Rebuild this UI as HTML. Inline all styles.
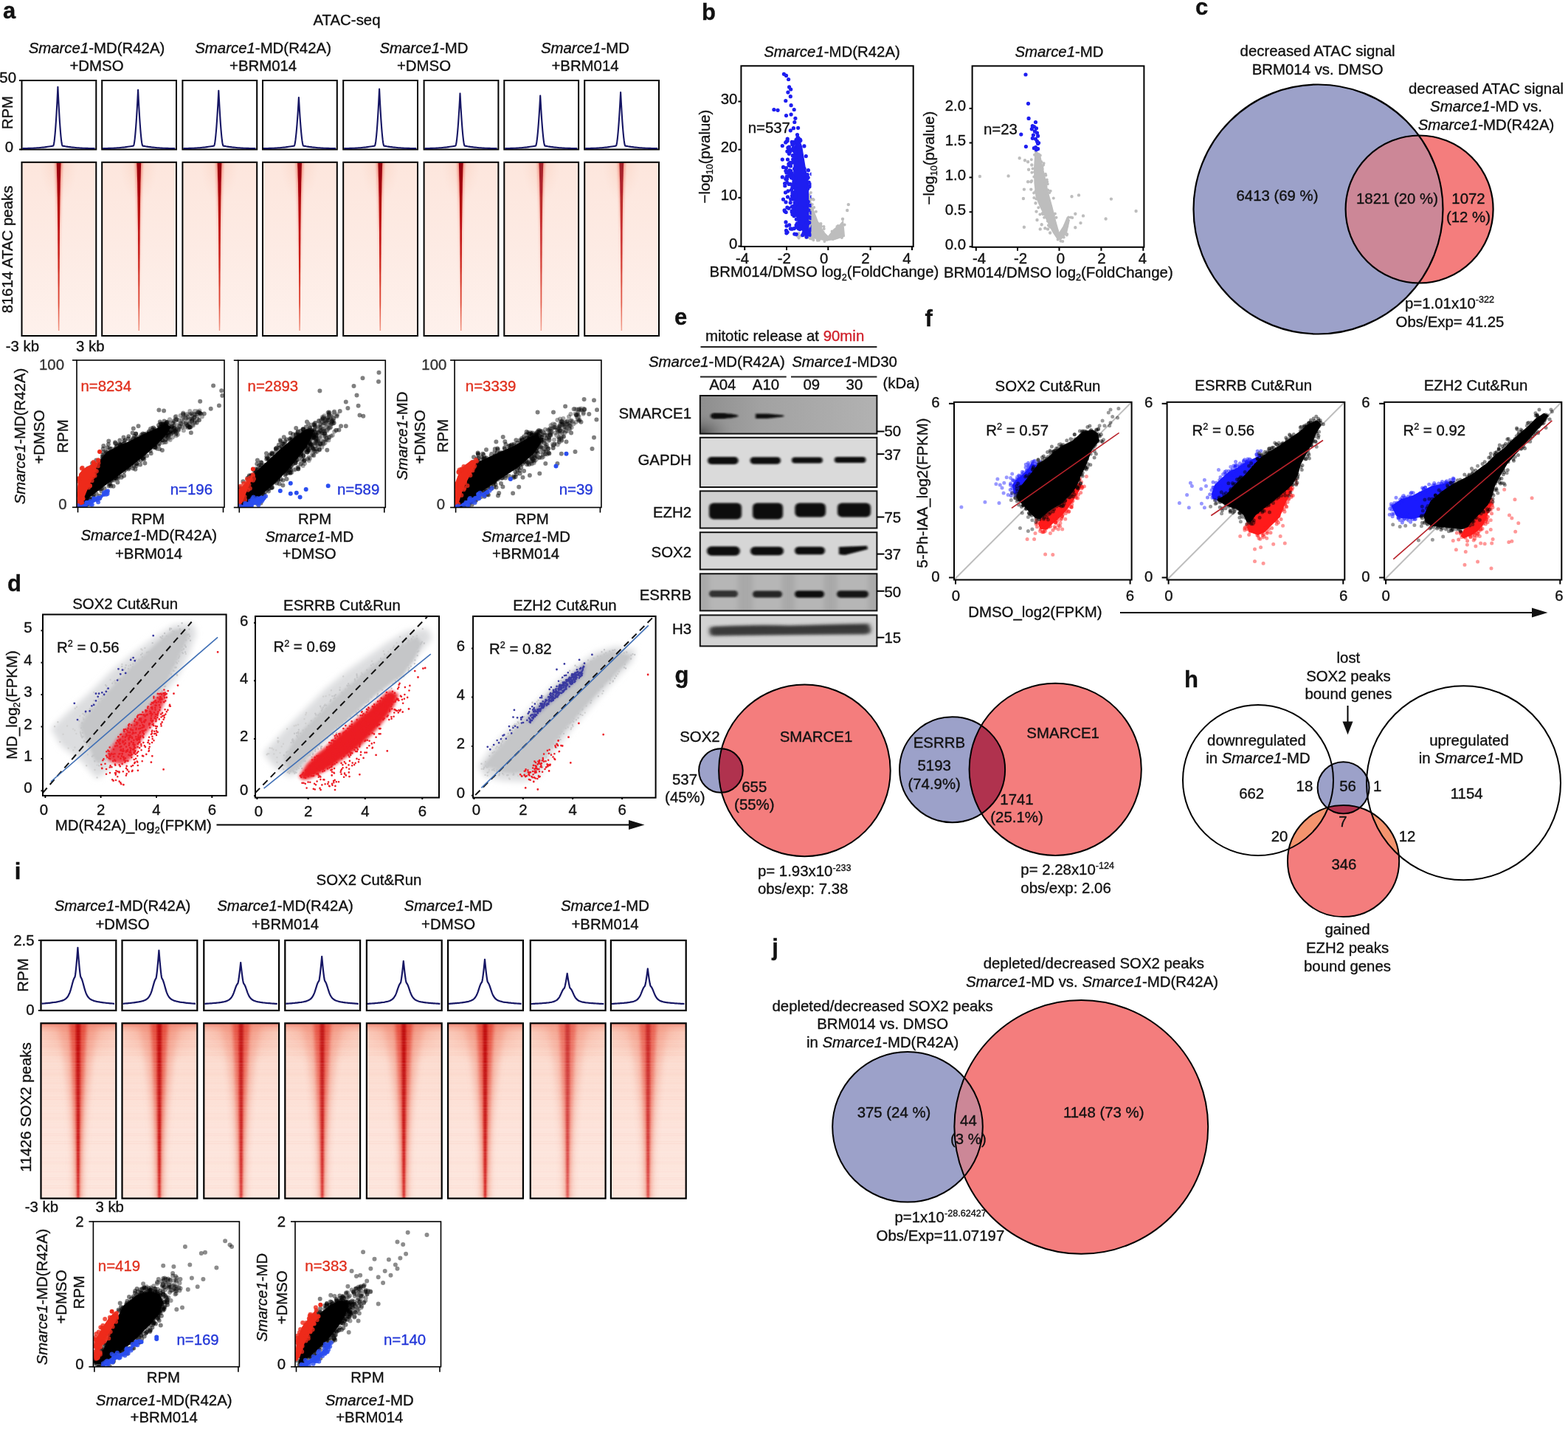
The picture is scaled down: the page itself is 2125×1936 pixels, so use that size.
<!DOCTYPE html>
<html><head><meta charset="utf-8"><style>
html,body{margin:0;padding:0;background:#fff;}
svg{display:block;}
text{font-family:"Liberation Sans",Arial,sans-serif;font-size:20.4px;fill:#111;stroke:#111;stroke-width:0.35px;}
</style></head><body>
<svg width="2125" height="1936" viewBox="0 0 2125 1936">
<defs>
<linearGradient id="hmA" x1="0" y1="0" x2="0" y2="1">
 <stop offset="0" stop-color="#fde6dd"/><stop offset="0.5" stop-color="#fdebe4"/><stop offset="1" stop-color="#fef1ec"/></linearGradient>
<radialGradient id="haloA"><stop offset="0" stop-color="#f6b49c" stop-opacity="0.75"/><stop offset="0.6" stop-color="#f9c8b4" stop-opacity="0.35"/><stop offset="1" stop-color="#fbd0c0" stop-opacity="0"/></radialGradient>
<linearGradient id="wedgeA" x1="0" y1="0" x2="0" y2="1">
 <stop offset="0" stop-color="#920008"/><stop offset="0.3" stop-color="#b80a10"/><stop offset="0.6" stop-color="#cc2018"/><stop offset="0.85" stop-color="#e04a36"/><stop offset="1" stop-color="#f29a88"/></linearGradient>
<filter id="blurA" x="-100%" y="-5%" width="300%" height="110%"><feGaussianBlur stdDeviation="1.8 0.5"/></filter>
<filter id="blurA2" x="-100%" y="-5%" width="300%" height="110%"><feGaussianBlur stdDeviation="0.6 0.3"/></filter>
<linearGradient id="wedgeA2" x1="0" y1="0" x2="0" y2="1">
 <stop offset="0" stop-color="#f05a48" stop-opacity="0.6"/><stop offset="0.5" stop-color="#f48a78" stop-opacity="0.35"/><stop offset="1" stop-color="#f8c0b0" stop-opacity="0"/></linearGradient>
<clipPath id="cA0"><rect x="29.5" y="219.8" width="100.8" height="235.2"/></clipPath><clipPath id="cA1"><rect x="138.2" y="219.8" width="100.8" height="235.2"/></clipPath><clipPath id="cA2"><rect x="247.4" y="219.8" width="100.8" height="235.2"/></clipPath><clipPath id="cA3"><rect x="356" y="219.8" width="100.8" height="235.2"/></clipPath><clipPath id="cA4"><rect x="465.2" y="219.8" width="100.8" height="235.2"/></clipPath><clipPath id="cA5"><rect x="574.6" y="219.8" width="100.8" height="235.2"/></clipPath><clipPath id="cA6"><rect x="683.3" y="219.8" width="100.8" height="235.2"/></clipPath><clipPath id="cA7"><rect x="792.2" y="219.8" width="100.8" height="235.2"/></clipPath><clipPath id="cl1"><rect x="104" y="488" width="200" height="199.3"/></clipPath><clipPath id="cl2"><rect x="322.8" y="488.2" width="199.5" height="199.3"/></clipPath><clipPath id="cl3"><rect x="616.1" y="488" width="198.8" height="199.5"/></clipPath><clipPath id="cl4"><rect x="1004.4" y="89.3" width="233.3" height="244.7"/></clipPath><clipPath id="cl5"><rect x="1004.4" y="89.3" width="95.1" height="244.7"/></clipPath><clipPath id="cl6"><rect x="1317.6" y="89.4" width="232.8" height="245.4"/></clipPath><clipPath id="ccB"><circle cx="1786.5" cy="283.5" r="169"/></clipPath><filter id="blur2" x="-10%" y="-10%" width="120%" height="120%"><feGaussianBlur stdDeviation="2.2"/></filter><filter id="blur4" x="-10%" y="-10%" width="120%" height="120%"><feGaussianBlur stdDeviation="4"/></filter><clipPath id="cl7"><rect x="58" y="832.5" width="248.6" height="245.5"/></clipPath><clipPath id="cl8"><rect x="346" y="834.9" width="249" height="245.7"/></clipPath><clipPath id="cl9"><rect x="641.1" y="834.9" width="247.5" height="245.8"/></clipPath><filter id="bb1" x="-20%" y="-50%" width="140%" height="200%"><feGaussianBlur stdDeviation="1.6 1.2"/></filter><filter id="bb2" x="-20%" y="-50%" width="140%" height="200%"><feGaussianBlur stdDeviation="3 2"/></filter><filter id="bb3" x="-5%" y="-5%" width="110%" height="110%"><feGaussianBlur stdDeviation="6"/></filter><linearGradient id="smgr" x1="0" y1="0" x2="1" y2="0"><stop offset="0" stop-color="#8e8e8e"/><stop offset="0.35" stop-color="#a2a2a2"/><stop offset="1" stop-color="#b2b2b2"/></linearGradient><radialGradient id="smcorner"><stop offset="0" stop-color="#4a4a4a"/><stop offset="1" stop-color="#8e8e8e" stop-opacity="0"/></radialGradient><clipPath id="cbl0"><rect x="948.8" y="536" width="239.6" height="51.6"/></clipPath><clipPath id="cbl1"><rect x="948.8" y="592.8" width="239.6" height="67.2"/></clipPath><clipPath id="cbl2"><rect x="948.8" y="665.3" width="239.6" height="50.2"/></clipPath><clipPath id="cbl3"><rect x="948.8" y="721.2" width="239.6" height="50.3"/></clipPath><clipPath id="cbl4"><rect x="948.8" y="777.3" width="239.6" height="50.1"/></clipPath><clipPath id="cbl5"><rect x="948.8" y="833.4" width="239.6" height="42"/></clipPath><clipPath id="cl10"><rect x="1293" y="544.8" width="240.6" height="240.7"/></clipPath><clipPath id="cl11"><rect x="1581.6" y="544.8" width="240.7" height="240.7"/></clipPath><clipPath id="cl12"><rect x="1876.1" y="544.8" width="240.2" height="240.7"/></clipPath><clipPath id="cg1"><circle cx="976.9" cy="1044" r="29.8"/></clipPath><clipPath id="cg2"><circle cx="1290.6" cy="1042.7" r="71.5"/></clipPath><clipPath id="chl"><circle cx="1705" cy="1057" r="102"/></clipPath><clipPath id="chr"><circle cx="1983.5" cy="1060.8" r="131.5"/></clipPath><clipPath id="chb"><circle cx="1820.6" cy="1067.3" r="35"/></clipPath><linearGradient id="hmI" x1="0" y1="0" x2="0" y2="1"><stop offset="0" stop-color="#fbd0c0"/><stop offset="0.25" stop-color="#fcdcd0"/><stop offset="0.6" stop-color="#fde3da"/><stop offset="1" stop-color="#fde6dd"/></linearGradient>
<linearGradient id="topI" x1="0" y1="0" x2="0" y2="1"><stop offset="0" stop-color="#ee6a58" stop-opacity="0.7"/><stop offset="1" stop-color="#f4a08c" stop-opacity="0"/></linearGradient>
<filter id="blurI3" x="-50%" y="-5%" width="200%" height="110%"><feGaussianBlur stdDeviation="4 2"/></filter>
<radialGradient id="haloI"><stop offset="0" stop-color="#ee6e5a" stop-opacity="0.7"/><stop offset="0.5" stop-color="#f49a84" stop-opacity="0.4"/><stop offset="1" stop-color="#f8b8a4" stop-opacity="0"/></radialGradient>
<linearGradient id="bandI" x1="0" y1="0" x2="0" y2="1"><stop offset="0" stop-color="#e23c2e" stop-opacity="0.85"/><stop offset="0.5" stop-color="#e84e3e" stop-opacity="0.65"/><stop offset="1" stop-color="#ec6a56" stop-opacity="0.45"/></linearGradient>
<linearGradient id="coreI" x1="0" y1="0" x2="0" y2="1"><stop offset="0" stop-color="#c01010"/><stop offset="0.6" stop-color="#c81414"/><stop offset="1" stop-color="#d42020"/></linearGradient>
<filter id="blurI" x="-50%" y="-5%" width="200%" height="110%"><feGaussianBlur stdDeviation="2.5 1"/></filter>
<filter id="blurI2" x="-50%" y="-5%" width="200%" height="110%"><feGaussianBlur stdDeviation="1.2 0.5"/></filter><pattern id="strp" x="0" y="0" width="120" height="60" patternUnits="userSpaceOnUse"><rect x="0" y="0" width="120" height="1.2" fill="#ffffff" fill-opacity="0.11"/><rect x="0" y="1.7" width="120" height="0.8" fill="#ffffff" fill-opacity="0.10"/><rect x="0" y="4" width="120" height="0.8" fill="#ffffff" fill-opacity="0.11"/><rect x="0" y="5.3" width="120" height="0.8" fill="#ffffff" fill-opacity="0.05"/><rect x="0" y="7.1" width="120" height="0.8" fill="#ffffff" fill-opacity="0.07"/><rect x="0" y="8.4" width="120" height="1" fill="#f0a090" fill-opacity="0.08"/><rect x="0" y="9.9" width="120" height="1.5" fill="#ffffff" fill-opacity="0.01"/><rect x="0" y="11.9" width="120" height="1" fill="#ffffff" fill-opacity="0.03"/><rect x="0" y="13.4" width="120" height="1.2" fill="#f0a090" fill-opacity="0.07"/><rect x="0" y="15.6" width="120" height="0.8" fill="#f0a090" fill-opacity="0.07"/><rect x="0" y="17.4" width="120" height="1.2" fill="#f0a090" fill-opacity="0.01"/><rect x="0" y="19.1" width="120" height="0.8" fill="#ffffff" fill-opacity="0.07"/><rect x="0" y="21.9" width="120" height="1.2" fill="#ffffff" fill-opacity="0.06"/><rect x="0" y="24.6" width="120" height="1.2" fill="#ffffff" fill-opacity="0.03"/><rect x="0" y="26.8" width="120" height="0.8" fill="#f0a090" fill-opacity="0.07"/><rect x="0" y="29.6" width="120" height="1.2" fill="#ffffff" fill-opacity="0.09"/><rect x="0" y="31.3" width="120" height="0.8" fill="#ffffff" fill-opacity="0.06"/><rect x="0" y="33.6" width="120" height="1" fill="#ffffff" fill-opacity="0.11"/><rect x="0" y="35.1" width="120" height="0.8" fill="#f0a090" fill-opacity="0.09"/><rect x="0" y="37.4" width="120" height="1.2" fill="#f0a090" fill-opacity="0.08"/><rect x="0" y="40.6" width="120" height="1.5" fill="#ffffff" fill-opacity="0.01"/><rect x="0" y="43.6" width="120" height="1.5" fill="#ffffff" fill-opacity="0.08"/><rect x="0" y="45.6" width="120" height="1.2" fill="#f0a090" fill-opacity="0.08"/><rect x="0" y="48.8" width="120" height="1.2" fill="#f0a090" fill-opacity="0.09"/><rect x="0" y="51.5" width="120" height="0.8" fill="#ffffff" fill-opacity="0.11"/><rect x="0" y="53.3" width="120" height="0.8" fill="#ffffff" fill-opacity="0.06"/><rect x="0" y="55.6" width="120" height="1" fill="#ffffff" fill-opacity="0.09"/><rect x="0" y="58.6" width="120" height="1.5" fill="#ffffff" fill-opacity="0.01"/></pattern><clipPath id="cI0"><rect x="55.5" y="1386.3" width="101.8" height="237.3"/></clipPath><clipPath id="cI1"><rect x="165.5" y="1386.3" width="101.8" height="237.3"/></clipPath><clipPath id="cI2"><rect x="276.3" y="1386.3" width="101.8" height="237.3"/></clipPath><clipPath id="cI3"><rect x="386.3" y="1386.3" width="101.8" height="237.3"/></clipPath><clipPath id="cI4"><rect x="496.9" y="1386.3" width="101.8" height="237.3"/></clipPath><clipPath id="cI5"><rect x="607.1" y="1386.3" width="101.8" height="237.3"/></clipPath><clipPath id="cI6"><rect x="718.8" y="1386.3" width="101.8" height="237.3"/></clipPath><clipPath id="cI7"><rect x="827.9" y="1386.3" width="101.8" height="237.3"/></clipPath><clipPath id="cl13"><rect x="126.4" y="1655" width="198" height="196.7"/></clipPath><clipPath id="cl14"><rect x="400" y="1655" width="197.5" height="196.7"/></clipPath><clipPath id="cjb"><circle cx="1230" cy="1526.8" r="101.75"/></clipPath></defs>
<rect width="2125" height="1936" fill="#fff"/>
<text x="4" y="25" style="font-size:31px;font-weight:bold;">a</text>
<text x="470" y="33.5" text-anchor="middle">ATAC-seq</text>
<text x="131" y="72" text-anchor="middle"><tspan font-style="italic">Smarce1</tspan>-MD(R42A)</text>
<text x="131" y="96" text-anchor="middle">+DMSO</text>
<text x="356.6" y="72" text-anchor="middle"><tspan font-style="italic">Smarce1</tspan>-MD(R42A)</text>
<text x="356.6" y="96" text-anchor="middle">+BRM014</text>
<text x="574.5" y="72" text-anchor="middle"><tspan font-style="italic">Smarce1</tspan>-MD</text>
<text x="574.5" y="96" text-anchor="middle">+DMSO</text>
<text x="793" y="72" text-anchor="middle"><tspan font-style="italic">Smarce1</tspan>-MD</text>
<text x="793" y="96" text-anchor="middle">+BRM014</text>
<g clip-path="url(#cA0)">
<rect x="29.5" y="219.8" width="100.8" height="235.2" fill="url(#hmA)"/>
<ellipse cx="79.6" cy="219.8" rx="26" ry="55" fill="url(#haloA)" opacity="0.5"/>
<path d="M74.6 219.8 75 229.4 75.3 239 75.6 248.6 75.9 258.2 76.1 267.8 76.4 277.4 76.6 286.9 76.8 296.5 77 306.1 77.2 315.7 77.3 325.3 77.5 334.9 77.6 344.5 77.7 354.1 77.8 363.7 77.9 373.3 77.9 382.9 78 392.4 78 402 78.1 411.6 78.1 421.2 78.1 430.8 78.1 440.4 78.1 450 81.1 450 81.1 440.4 81.1 430.8 81.1 421.2 81.1 411.6 81.2 402 81.2 392.4 81.3 382.9 81.3 373.3 81.4 363.7 81.5 354.1 81.6 344.5 81.7 334.9 81.9 325.3 82 315.7 82.2 306.1 82.4 296.5 82.6 286.9 82.8 277.4 83.1 267.8 83.3 258.2 83.6 248.6 83.9 239 84.2 229.4 84.6 219.8Z" fill="url(#wedgeA2)" filter="url(#blurA)"/>
<path d="M76.7 219.8 77 229.3 77.2 238.8 77.5 248.3 77.6 257.8 77.8 267.3 77.9 276.9 78 286.4 78.1 295.9 78.2 305.4 78.3 314.9 78.3 324.4 78.4 333.9 78.4 343.4 78.5 352.9 78.5 362.4 78.6 371.9 78.6 381.4 78.7 390.9 78.7 400.5 78.7 410 78.8 419.5 78.8 429 78.8 438.5 78.9 448 80.4 448 80.4 438.5 80.4 429 80.4 419.5 80.5 410 80.5 400.5 80.5 390.9 80.6 381.4 80.6 371.9 80.7 362.4 80.7 352.9 80.8 343.4 80.8 333.9 80.9 324.4 80.9 314.9 81 305.4 81.1 295.9 81.2 286.4 81.3 276.9 81.4 267.3 81.6 257.8 81.7 248.3 82 238.8 82.2 229.3 82.6 219.8Z" fill="url(#wedgeA)" filter="url(#blurA2)"/>
</g>
<rect x="29.5" y="219.8" width="100.8" height="235.2" fill="none" stroke="#000" stroke-width="2.0"/>
<g clip-path="url(#cA1)">
<rect x="138.2" y="219.8" width="100.8" height="235.2" fill="url(#hmA)"/>
<ellipse cx="188.3" cy="219.8" rx="26" ry="55" fill="url(#haloA)" opacity="0.5"/>
<path d="M183.3 219.8 183.7 229.4 184 239 184.3 248.6 184.6 258.2 184.8 267.8 185.1 277.4 185.3 286.9 185.5 296.5 185.7 306.1 185.9 315.7 186 325.3 186.2 334.9 186.3 344.5 186.4 354.1 186.5 363.7 186.6 373.3 186.6 382.9 186.7 392.4 186.7 402 186.8 411.6 186.8 421.2 186.8 430.8 186.8 440.4 186.8 450 189.8 450 189.8 440.4 189.8 430.8 189.8 421.2 189.8 411.6 189.9 402 189.9 392.4 190 382.9 190 373.3 190.1 363.7 190.2 354.1 190.3 344.5 190.4 334.9 190.6 325.3 190.7 315.7 190.9 306.1 191.1 296.5 191.3 286.9 191.5 277.4 191.8 267.8 192 258.2 192.3 248.6 192.6 239 192.9 229.4 193.3 219.8Z" fill="url(#wedgeA2)" filter="url(#blurA)"/>
<path d="M185.3 219.8 185.7 229.3 185.9 238.8 186.2 248.3 186.3 257.8 186.5 267.3 186.6 276.9 186.7 286.4 186.8 295.9 186.9 305.4 187 314.9 187 324.4 187.1 333.9 187.1 343.4 187.2 352.9 187.2 362.4 187.3 371.9 187.3 381.4 187.4 390.9 187.4 400.5 187.4 410 187.5 419.5 187.5 429 187.5 438.5 187.5 448 189 448 189.1 438.5 189.1 429 189.1 419.5 189.2 410 189.2 400.5 189.2 390.9 189.3 381.4 189.3 371.9 189.4 362.4 189.4 352.9 189.5 343.4 189.5 333.9 189.6 324.4 189.6 314.9 189.7 305.4 189.8 295.9 189.9 286.4 190 276.9 190.1 267.3 190.3 257.8 190.4 248.3 190.7 238.8 190.9 229.3 191.2 219.8Z" fill="url(#wedgeA)" filter="url(#blurA2)"/>
</g>
<rect x="138.2" y="219.8" width="100.8" height="235.2" fill="none" stroke="#000" stroke-width="2.0"/>
<g clip-path="url(#cA2)">
<rect x="247.4" y="219.8" width="100.8" height="235.2" fill="url(#hmA)"/>
<ellipse cx="297.5" cy="219.8" rx="26" ry="55" fill="url(#haloA)" opacity="0.5"/>
<path d="M292.5 219.8 292.9 229.4 293.2 239 293.5 248.6 293.8 258.2 294 267.8 294.3 277.4 294.5 286.9 294.7 296.5 294.9 306.1 295.1 315.7 295.2 325.3 295.4 334.9 295.5 344.5 295.6 354.1 295.7 363.7 295.8 373.3 295.8 382.9 295.9 392.4 295.9 402 296 411.6 296 421.2 296 430.8 296 440.4 296 450 299 450 299 440.4 299 430.8 299 421.2 299 411.6 299.1 402 299.1 392.4 299.2 382.9 299.2 373.3 299.3 363.7 299.4 354.1 299.5 344.5 299.6 334.9 299.8 325.3 299.9 315.7 300.1 306.1 300.3 296.5 300.5 286.9 300.7 277.4 301 267.8 301.2 258.2 301.5 248.6 301.8 239 302.1 229.4 302.5 219.8Z" fill="url(#wedgeA2)" filter="url(#blurA)"/>
<path d="M294.6 219.8 294.9 229.3 295.1 238.8 295.4 248.3 295.5 257.8 295.7 267.3 295.8 276.9 295.9 286.4 296 295.9 296.1 305.4 296.2 314.9 296.2 324.4 296.3 333.9 296.3 343.4 296.4 352.9 296.4 362.4 296.5 371.9 296.5 381.4 296.6 390.9 296.6 400.5 296.6 410 296.7 419.5 296.7 429 296.7 438.5 296.8 448 298.2 448 298.3 438.5 298.3 429 298.3 419.5 298.4 410 298.4 400.5 298.4 390.9 298.5 381.4 298.5 371.9 298.6 362.4 298.6 352.9 298.7 343.4 298.7 333.9 298.8 324.4 298.8 314.9 298.9 305.4 299 295.9 299.1 286.4 299.2 276.9 299.3 267.3 299.5 257.8 299.6 248.3 299.9 238.8 300.1 229.3 300.4 219.8Z" fill="url(#wedgeA)" filter="url(#blurA2)"/>
</g>
<rect x="247.4" y="219.8" width="100.8" height="235.2" fill="none" stroke="#000" stroke-width="2.0"/>
<g clip-path="url(#cA3)">
<rect x="356" y="219.8" width="100.8" height="235.2" fill="url(#hmA)"/>
<ellipse cx="406.1" cy="219.8" rx="26" ry="55" fill="url(#haloA)" opacity="0.5"/>
<path d="M401.1 219.8 401.5 229.4 401.8 239 402.1 248.6 402.4 258.2 402.6 267.8 402.9 277.4 403.1 286.9 403.3 296.5 403.5 306.1 403.7 315.7 403.8 325.3 404 334.9 404.1 344.5 404.2 354.1 404.3 363.7 404.4 373.3 404.4 382.9 404.5 392.4 404.5 402 404.6 411.6 404.6 421.2 404.6 430.8 404.6 440.4 404.6 450 407.6 450 407.6 440.4 407.6 430.8 407.6 421.2 407.6 411.6 407.7 402 407.7 392.4 407.8 382.9 407.8 373.3 407.9 363.7 408 354.1 408.1 344.5 408.2 334.9 408.4 325.3 408.5 315.7 408.7 306.1 408.9 296.5 409.1 286.9 409.3 277.4 409.6 267.8 409.8 258.2 410.1 248.6 410.4 239 410.7 229.4 411.1 219.8Z" fill="url(#wedgeA2)" filter="url(#blurA)"/>
<path d="M403.1 219.8 403.5 229.3 403.7 238.8 404 248.3 404.1 257.8 404.3 267.3 404.4 276.9 404.5 286.4 404.6 295.9 404.7 305.4 404.8 314.9 404.8 324.4 404.9 333.9 404.9 343.4 405 352.9 405 362.4 405.1 371.9 405.1 381.4 405.2 390.9 405.2 400.5 405.2 410 405.3 419.5 405.3 429 405.3 438.5 405.3 448 406.8 448 406.9 438.5 406.9 429 406.9 419.5 407 410 407 400.5 407 390.9 407.1 381.4 407.1 371.9 407.2 362.4 407.2 352.9 407.3 343.4 407.3 333.9 407.4 324.4 407.4 314.9 407.5 305.4 407.6 295.9 407.7 286.4 407.8 276.9 407.9 267.3 408.1 257.8 408.2 248.3 408.5 238.8 408.7 229.3 409 219.8Z" fill="url(#wedgeA)" filter="url(#blurA2)"/>
</g>
<rect x="356" y="219.8" width="100.8" height="235.2" fill="none" stroke="#000" stroke-width="2.0"/>
<g clip-path="url(#cA4)">
<rect x="465.2" y="219.8" width="100.8" height="235.2" fill="url(#hmA)"/>
<ellipse cx="515.3" cy="219.8" rx="26" ry="55" fill="url(#haloA)" opacity="0.5"/>
<path d="M510.3 219.8 510.7 229.4 511 239 511.3 248.6 511.6 258.2 511.8 267.8 512.1 277.4 512.3 286.9 512.5 296.5 512.7 306.1 512.9 315.7 513 325.3 513.2 334.9 513.3 344.5 513.4 354.1 513.5 363.7 513.6 373.3 513.6 382.9 513.7 392.4 513.7 402 513.8 411.6 513.8 421.2 513.8 430.8 513.8 440.4 513.8 450 516.8 450 516.8 440.4 516.8 430.8 516.8 421.2 516.8 411.6 516.9 402 516.9 392.4 517 382.9 517 373.3 517.1 363.7 517.2 354.1 517.3 344.5 517.4 334.9 517.6 325.3 517.7 315.7 517.9 306.1 518.1 296.5 518.3 286.9 518.5 277.4 518.8 267.8 519 258.2 519.3 248.6 519.6 239 519.9 229.4 520.3 219.8Z" fill="url(#wedgeA2)" filter="url(#blurA)"/>
<path d="M512.4 219.8 512.7 229.3 512.9 238.8 513.2 248.3 513.3 257.8 513.5 267.3 513.6 276.9 513.7 286.4 513.8 295.9 513.9 305.4 514 314.9 514 324.4 514.1 333.9 514.1 343.4 514.2 352.9 514.2 362.4 514.3 371.9 514.3 381.4 514.4 390.9 514.4 400.5 514.4 410 514.5 419.5 514.5 429 514.5 438.5 514.6 448 516.1 448 516.1 438.5 516.1 429 516.1 419.5 516.2 410 516.2 400.5 516.2 390.9 516.3 381.4 516.3 371.9 516.4 362.4 516.4 352.9 516.5 343.4 516.5 333.9 516.6 324.4 516.6 314.9 516.7 305.4 516.8 295.9 516.9 286.4 517 276.9 517.1 267.3 517.3 257.8 517.4 248.3 517.7 238.8 517.9 229.3 518.3 219.8Z" fill="url(#wedgeA)" filter="url(#blurA2)"/>
</g>
<rect x="465.2" y="219.8" width="100.8" height="235.2" fill="none" stroke="#000" stroke-width="2.0"/>
<g clip-path="url(#cA5)">
<rect x="574.6" y="219.8" width="100.8" height="235.2" fill="url(#hmA)"/>
<ellipse cx="624.7" cy="219.8" rx="26" ry="55" fill="url(#haloA)" opacity="0.5"/>
<path d="M619.7 219.8 620.1 229.4 620.4 239 620.7 248.6 621 258.2 621.2 267.8 621.5 277.4 621.7 286.9 621.9 296.5 622.1 306.1 622.3 315.7 622.4 325.3 622.6 334.9 622.7 344.5 622.8 354.1 622.9 363.7 623 373.3 623 382.9 623.1 392.4 623.1 402 623.2 411.6 623.2 421.2 623.2 430.8 623.2 440.4 623.2 450 626.2 450 626.2 440.4 626.2 430.8 626.2 421.2 626.2 411.6 626.3 402 626.3 392.4 626.4 382.9 626.4 373.3 626.5 363.7 626.6 354.1 626.7 344.5 626.8 334.9 627 325.3 627.1 315.7 627.3 306.1 627.5 296.5 627.7 286.9 627.9 277.4 628.2 267.8 628.4 258.2 628.7 248.6 629 239 629.3 229.4 629.7 219.8Z" fill="url(#wedgeA2)" filter="url(#blurA)"/>
<path d="M621.8 219.8 622.1 229.3 622.3 238.8 622.6 248.3 622.7 257.8 622.9 267.3 623 276.9 623.1 286.4 623.2 295.9 623.3 305.4 623.4 314.9 623.4 324.4 623.5 333.9 623.5 343.4 623.6 352.9 623.6 362.4 623.7 371.9 623.7 381.4 623.8 390.9 623.8 400.5 623.8 410 623.9 419.5 623.9 429 623.9 438.5 624 448 625.5 448 625.5 438.5 625.5 429 625.5 419.5 625.6 410 625.6 400.5 625.6 390.9 625.7 381.4 625.7 371.9 625.8 362.4 625.8 352.9 625.9 343.4 625.9 333.9 626 324.4 626 314.9 626.1 305.4 626.2 295.9 626.3 286.4 626.4 276.9 626.5 267.3 626.7 257.8 626.8 248.3 627.1 238.8 627.3 229.3 627.7 219.8Z" fill="url(#wedgeA)" filter="url(#blurA2)"/>
</g>
<rect x="574.6" y="219.8" width="100.8" height="235.2" fill="none" stroke="#000" stroke-width="2.0"/>
<g clip-path="url(#cA6)">
<rect x="683.3" y="219.8" width="100.8" height="235.2" fill="url(#hmA)"/>
<ellipse cx="733.4" cy="219.8" rx="26" ry="55" fill="url(#haloA)" opacity="0.5"/>
<g opacity="0.85">
<path d="M728.4 219.8 728.8 229.4 729.1 239 729.4 248.6 729.7 258.2 729.9 267.8 730.2 277.4 730.4 286.9 730.6 296.5 730.8 306.1 731 315.7 731.1 325.3 731.3 334.9 731.4 344.5 731.5 354.1 731.6 363.7 731.7 373.3 731.7 382.9 731.8 392.4 731.8 402 731.9 411.6 731.9 421.2 731.9 430.8 731.9 440.4 731.9 450 734.9 450 734.9 440.4 734.9 430.8 734.9 421.2 734.9 411.6 735 402 735 392.4 735.1 382.9 735.1 373.3 735.2 363.7 735.3 354.1 735.4 344.5 735.5 334.9 735.7 325.3 735.8 315.7 736 306.1 736.2 296.5 736.4 286.9 736.6 277.4 736.9 267.8 737.1 258.2 737.4 248.6 737.7 239 738 229.4 738.4 219.8Z" fill="url(#wedgeA2)" filter="url(#blurA)"/>
<path d="M730.4 219.8 730.8 229.3 731 238.8 731.3 248.3 731.4 257.8 731.6 267.3 731.7 276.9 731.8 286.4 731.9 295.9 732 305.4 732.1 314.9 732.1 324.4 732.2 333.9 732.2 343.4 732.3 352.9 732.3 362.4 732.4 371.9 732.4 381.4 732.5 390.9 732.5 400.5 732.5 410 732.6 419.5 732.6 429 732.6 438.5 732.6 448 734.1 448 734.2 438.5 734.2 429 734.2 419.5 734.3 410 734.3 400.5 734.3 390.9 734.4 381.4 734.4 371.9 734.5 362.4 734.5 352.9 734.6 343.4 734.6 333.9 734.7 324.4 734.7 314.9 734.8 305.4 734.9 295.9 735 286.4 735.1 276.9 735.2 267.3 735.4 257.8 735.5 248.3 735.8 238.8 736 229.3 736.4 219.8Z" fill="url(#wedgeA)" filter="url(#blurA2)"/>
</g>
</g>
<rect x="683.3" y="219.8" width="100.8" height="235.2" fill="none" stroke="#000" stroke-width="2.0"/>
<g clip-path="url(#cA7)">
<rect x="792.2" y="219.8" width="100.8" height="235.2" fill="url(#hmA)"/>
<ellipse cx="842.3" cy="219.8" rx="26" ry="55" fill="url(#haloA)" opacity="0.5"/>
<g opacity="0.85">
<path d="M837.3 219.8 837.7 229.4 838 239 838.3 248.6 838.6 258.2 838.8 267.8 839.1 277.4 839.3 286.9 839.5 296.5 839.7 306.1 839.9 315.7 840 325.3 840.2 334.9 840.3 344.5 840.4 354.1 840.5 363.7 840.6 373.3 840.6 382.9 840.7 392.4 840.7 402 840.8 411.6 840.8 421.2 840.8 430.8 840.8 440.4 840.8 450 843.8 450 843.8 440.4 843.8 430.8 843.8 421.2 843.8 411.6 843.9 402 843.9 392.4 844 382.9 844 373.3 844.1 363.7 844.2 354.1 844.3 344.5 844.4 334.9 844.6 325.3 844.7 315.7 844.9 306.1 845.1 296.5 845.3 286.9 845.5 277.4 845.8 267.8 846 258.2 846.3 248.6 846.6 239 846.9 229.4 847.3 219.8Z" fill="url(#wedgeA2)" filter="url(#blurA)"/>
<path d="M839.4 219.8 839.7 229.3 839.9 238.8 840.2 248.3 840.3 257.8 840.5 267.3 840.6 276.9 840.7 286.4 840.8 295.9 840.9 305.4 841 314.9 841 324.4 841.1 333.9 841.1 343.4 841.2 352.9 841.2 362.4 841.3 371.9 841.3 381.4 841.4 390.9 841.4 400.5 841.4 410 841.5 419.5 841.5 429 841.5 438.5 841.6 448 843.1 448 843.1 438.5 843.1 429 843.1 419.5 843.2 410 843.2 400.5 843.2 390.9 843.3 381.4 843.3 371.9 843.4 362.4 843.4 352.9 843.5 343.4 843.5 333.9 843.6 324.4 843.6 314.9 843.7 305.4 843.8 295.9 843.9 286.4 844 276.9 844.1 267.3 844.3 257.8 844.4 248.3 844.7 238.8 844.9 229.3 845.3 219.8Z" fill="url(#wedgeA)" filter="url(#blurA2)"/>
</g>
</g>
<rect x="792.2" y="219.8" width="100.8" height="235.2" fill="none" stroke="#000" stroke-width="2.0"/>
<rect x="29.5" y="109" width="100.8" height="93.5" fill="none" stroke="#000" stroke-width="2.0"/>
<path d="M30.5 201 32.5 201 34.5 201 36.5 201 38.5 200.9 40.5 200.9 42.5 200.8 44.5 200.7 46.5 200.6 48.5 200.5 50.5 200.3 52.5 200.2 54.5 200 56.5 199.8 58.5 199.6 60.5 199.4 62.5 199.1 64.5 198.8 66.5 198.5 68.5 198.2 70.5 197.9 71 197.8 71.5 197.7 72 197.6 72.5 197.1 73 195 73.5 191.9 74 187.7 74.5 182.6 75 176.8 75.5 170.1 76 162.7 76.5 154.7 77 145.9 77.5 136.5 78 126.4 78.4 117.9 78.5 120.1 79 130.5 79.5 140.3 80 149.5 80.5 158 81 165.8 81.5 172.9 82 179.2 82.5 184.8 83 189.5 83.5 193.3 84 196 84.5 197.5 85 197.7 85.5 197.8 86 197.9 86.5 197.9 88.5 198.3 90.5 198.6 92.5 198.9 94.5 199.1 96.5 199.4 98.5 199.6 100.5 199.8 102.5 200 104.5 200.2 106.5 200.3 108.5 200.5 110.5 200.6 112.5 200.7 114.5 200.8 116.5 200.9 118.5 200.9 120.5 201 122.5 201 124.5 201 126.5 201 128.5 201" fill="none" stroke="#161664" stroke-width="2.1" stroke-linejoin="round"/>
<rect x="138.2" y="109" width="100.8" height="93.5" fill="none" stroke="#000" stroke-width="2.0"/>
<path d="M139.2 201 141.2 201 143.2 201 145.2 201 147.2 200.9 149.2 200.9 151.2 200.8 153.2 200.7 155.2 200.6 157.2 200.5 159.2 200.3 161.2 200.2 163.2 200 165.2 199.8 167.2 199.6 169.2 199.4 171.2 199.1 173.2 198.8 175.2 198.5 177.2 198.2 179.2 197.9 179.7 197.8 180.2 197.7 180.7 197.6 181.2 197.1 181.7 195.2 182.2 192.1 182.7 188.2 183.2 183.3 183.7 177.7 184.2 171.4 184.7 164.4 185.2 156.7 185.7 148.3 186.2 139.4 186.7 129.8 187.1 121.7 187.2 123.8 187.7 133.7 188.2 143 188.7 151.8 189.2 159.8 189.7 167.3 190.2 174 190.7 180.1 191.2 185.4 191.7 189.8 192.2 193.5 192.7 196.1 193.2 197.5 193.7 197.7 194.2 197.8 194.7 197.9 195.2 197.9 197.2 198.3 199.2 198.6 201.2 198.9 203.2 199.1 205.2 199.4 207.2 199.6 209.2 199.8 211.2 200 213.2 200.2 215.2 200.3 217.2 200.5 219.2 200.6 221.2 200.7 223.2 200.8 225.2 200.9 227.2 200.9 229.2 201 231.2 201 233.2 201 235.2 201 237.2 201" fill="none" stroke="#161664" stroke-width="2.1" stroke-linejoin="round"/>
<rect x="247.4" y="109" width="100.8" height="93.5" fill="none" stroke="#000" stroke-width="2.0"/>
<path d="M248.4 201 250.4 201 252.4 201 254.4 201 256.4 200.9 258.4 200.9 260.4 200.8 262.4 200.7 264.4 200.6 266.4 200.5 268.4 200.3 270.4 200.2 272.4 200 274.4 199.8 276.4 199.6 278.4 199.4 280.4 199.1 282.4 198.8 284.4 198.5 286.4 198.2 288.4 197.9 288.9 197.8 289.4 197.7 289.9 197.6 290.4 197.1 290.9 195.2 291.4 192.2 291.9 188.3 292.4 183.5 292.9 178 293.4 171.8 293.9 164.9 294.4 157.3 294.9 149.1 295.4 140.2 295.9 130.8 296.3 122.8 296.4 124.8 296.9 134.6 297.4 143.8 297.9 152.4 298.4 160.4 298.9 167.7 299.4 174.4 299.9 180.3 300.4 185.5 300.9 190 301.4 193.5 301.9 196.1 302.4 197.5 302.9 197.7 303.4 197.8 303.9 197.9 304.4 197.9 306.4 198.3 308.4 198.6 310.4 198.9 312.4 199.1 314.4 199.4 316.4 199.6 318.4 199.8 320.4 200 322.4 200.2 324.4 200.3 326.4 200.5 328.4 200.6 330.4 200.7 332.4 200.8 334.4 200.9 336.4 200.9 338.4 201 340.4 201 342.4 201 344.4 201 346.4 201" fill="none" stroke="#161664" stroke-width="2.1" stroke-linejoin="round"/>
<rect x="356" y="109" width="100.8" height="93.5" fill="none" stroke="#000" stroke-width="2.0"/>
<path d="M357 201 359 201 361 201 363 201 365 200.9 367 200.9 369 200.8 371 200.7 373 200.6 375 200.5 377 200.3 379 200.2 381 200 383 199.8 385 199.6 387 199.4 389 199.1 391 198.8 393 198.5 395 198.2 397 197.9 397.5 197.8 398 197.7 398.5 197.6 399 197.2 399.5 195.5 400 192.8 400.5 189.4 401 185.2 401.5 180.4 402 174.9 402.5 168.9 403 162.2 403.5 155 404 147.3 404.5 139 404.9 132 405 133.8 405.5 142.4 406 150.4 406.5 158 407 164.9 407.5 171.4 408 177.2 408.5 182.4 409 187 409.5 190.9 410 194 410.5 196.3 411 197.5 411.5 197.7 412 197.8 412.5 197.9 413 197.9 415 198.3 417 198.6 419 198.9 421 199.1 423 199.4 425 199.6 427 199.8 429 200 431 200.2 433 200.3 435 200.5 437 200.6 439 200.7 441 200.8 443 200.9 445 200.9 447 201 449 201 451 201 453 201 455 201" fill="none" stroke="#161664" stroke-width="2.1" stroke-linejoin="round"/>
<rect x="465.2" y="109" width="100.8" height="93.5" fill="none" stroke="#000" stroke-width="2.0"/>
<path d="M466.2 201 468.2 201 470.2 201 472.2 201 474.2 200.9 476.2 200.9 478.2 200.8 480.2 200.7 482.2 200.6 484.2 200.5 486.2 200.3 488.2 200.2 490.2 200 492.2 199.8 494.2 199.6 496.2 199.4 498.2 199.1 500.2 198.8 502.2 198.5 504.2 198.2 506.2 197.9 506.7 197.8 507.2 197.7 507.7 197.6 508.2 197.1 508.7 195.1 509.2 192 509.7 188 510.2 183.1 510.7 177.4 511.2 171 511.7 163.9 512.2 156 512.7 147.6 513.2 138.5 513.7 128.7 514.1 120.5 514.2 122.6 514.7 132.7 515.2 142.2 515.7 151 516.2 159.3 516.7 166.8 517.2 173.7 517.7 179.8 518.2 185.2 518.7 189.7 519.2 193.4 519.7 196.1 520.2 197.5 520.7 197.7 521.2 197.8 521.7 197.9 522.2 197.9 524.2 198.3 526.2 198.6 528.2 198.9 530.2 199.1 532.2 199.4 534.2 199.6 536.2 199.8 538.2 200 540.2 200.2 542.2 200.3 544.2 200.5 546.2 200.6 548.2 200.7 550.2 200.8 552.2 200.9 554.2 200.9 556.2 201 558.2 201 560.2 201 562.2 201 564.2 201" fill="none" stroke="#161664" stroke-width="2.1" stroke-linejoin="round"/>
<rect x="574.6" y="109" width="100.8" height="93.5" fill="none" stroke="#000" stroke-width="2.0"/>
<path d="M575.6 201 577.6 201 579.6 201 581.6 201 583.6 200.9 585.6 200.9 587.6 200.8 589.6 200.7 591.6 200.6 593.6 200.5 595.6 200.3 597.6 200.2 599.6 200 601.6 199.8 603.6 199.6 605.6 199.4 607.6 199.1 609.6 198.8 611.6 198.5 613.6 198.2 615.6 197.9 616.1 197.8 616.6 197.7 617.1 197.6 617.6 197.1 618.1 195.3 618.6 192.5 619.1 188.8 619.6 184.2 620.1 179 620.6 173.1 621.1 166.5 621.6 159.3 622.1 151.5 622.6 143.1 623.1 134.2 623.5 126.6 623.6 128.5 624.1 137.8 624.6 146.5 625.1 154.7 625.6 162.3 626.1 169.2 626.6 175.5 627.1 181.2 627.6 186.1 628.1 190.3 628.6 193.7 629.1 196.2 629.6 197.5 630.1 197.7 630.6 197.8 631.1 197.9 631.6 197.9 633.6 198.3 635.6 198.6 637.6 198.9 639.6 199.1 641.6 199.4 643.6 199.6 645.6 199.8 647.6 200 649.6 200.2 651.6 200.3 653.6 200.5 655.6 200.6 657.6 200.7 659.6 200.8 661.6 200.9 663.6 200.9 665.6 201 667.6 201 669.6 201 671.6 201 673.6 201" fill="none" stroke="#161664" stroke-width="2.1" stroke-linejoin="round"/>
<rect x="683.3" y="109" width="100.8" height="93.5" fill="none" stroke="#000" stroke-width="2.0"/>
<path d="M684.3 201 686.3 201 688.3 201 690.3 201 692.3 200.9 694.3 200.9 696.3 200.8 698.3 200.7 700.3 200.6 702.3 200.5 704.3 200.3 706.3 200.2 708.3 200 710.3 199.8 712.3 199.6 714.3 199.4 716.3 199.1 718.3 198.8 720.3 198.5 722.3 198.2 724.3 197.9 724.8 197.8 725.3 197.7 725.8 197.6 726.3 197.2 726.8 195.4 727.3 192.7 727.8 189.1 728.3 184.8 728.8 179.8 729.3 174.1 729.8 167.8 730.3 160.9 730.8 153.4 731.3 145.3 731.8 136.8 732.2 129.5 732.3 131.3 732.8 140.3 733.3 148.6 733.8 156.5 734.3 163.7 734.8 170.4 735.3 176.4 735.8 181.9 736.3 186.6 736.8 190.6 737.3 193.9 737.8 196.2 738.3 197.5 738.8 197.7 739.3 197.8 739.8 197.9 740.3 197.9 742.3 198.3 744.3 198.6 746.3 198.9 748.3 199.1 750.3 199.4 752.3 199.6 754.3 199.8 756.3 200 758.3 200.2 760.3 200.3 762.3 200.5 764.3 200.6 766.3 200.7 768.3 200.8 770.3 200.9 772.3 200.9 774.3 201 776.3 201 778.3 201 780.3 201 782.3 201" fill="none" stroke="#161664" stroke-width="2.1" stroke-linejoin="round"/>
<rect x="792.2" y="109" width="100.8" height="93.5" fill="none" stroke="#000" stroke-width="2.0"/>
<path d="M793.2 201 795.2 201 797.2 201 799.2 201 801.2 200.9 803.2 200.9 805.2 200.8 807.2 200.7 809.2 200.6 811.2 200.5 813.2 200.3 815.2 200.2 817.2 200 819.2 199.8 821.2 199.6 823.2 199.4 825.2 199.1 827.2 198.8 829.2 198.5 831.2 198.2 833.2 197.9 833.7 197.8 834.2 197.7 834.7 197.6 835.2 197.1 835.7 195.3 836.2 192.4 836.7 188.6 837.2 184 837.7 178.6 838.2 172.5 838.7 165.8 839.2 158.5 839.7 150.5 840.2 141.9 840.7 132.7 841.1 125 841.2 127 841.7 136.5 842.2 145.4 842.7 153.7 843.2 161.5 843.7 168.6 844.2 175.1 844.7 180.8 845.2 185.9 845.7 190.2 846.2 193.6 846.7 196.2 847.2 197.5 847.7 197.7 848.2 197.8 848.7 197.9 849.2 197.9 851.2 198.3 853.2 198.6 855.2 198.9 857.2 199.1 859.2 199.4 861.2 199.6 863.2 199.8 865.2 200 867.2 200.2 869.2 200.3 871.2 200.5 873.2 200.6 875.2 200.7 877.2 200.8 879.2 200.9 881.2 200.9 883.2 201 885.2 201 887.2 201 889.2 201 891.2 201" fill="none" stroke="#161664" stroke-width="2.1" stroke-linejoin="round"/>
<line x1="26" y1="109" x2="29.5" y2="109" stroke="#000" stroke-width="2"/>
<line x1="26" y1="202.5" x2="29.5" y2="202.5" stroke="#000" stroke-width="2"/>
<text x="22" y="112.3" text-anchor="end">50</text>
<text x="18" y="206" text-anchor="end">0</text>
<text x="17.5" y="152.6" text-anchor="middle" transform="rotate(-90 17.5 152.6)">RPM</text>
<text x="16.5" y="338" text-anchor="middle" transform="rotate(-90 16.5 338)">81614 ATAC peaks</text>
<text x="7.8" y="475.7">-3 kb</text>
<text x="103" y="475.7">3 kb</text>
<g clip-path="url(#cl1)">
<path d="M106 685.5 118.3 661 125 640.9 133.9 625.3 145.1 611.9 160.7 604.1 178.6 596.2 196.4 587.3 214.3 579.5 225.4 575 232.1 578.4 223.2 591.8 214.3 600.7 200.9 613 183 627.5 165.2 640.9 147.3 654.3 133.9 664.3 120.5 674.4 109.4 685.5Z" fill="#000"/>
<path d="M208.4 598.7h0M210.3 604.7h0M105 681.2h0M128.2 669.9h0M193.7 620.7h0M128.5 635.4h0M184.1 587.5h0M174.3 591.2h0M209.4 600.4h0M144.3 612.9h0M122.9 676.3h0M194.6 596.5h0M197.9 606.9h0M183.1 621.6h0M160.1 647.9h0M210.7 606.2h0M148.7 607.6h0M120.1 676.9h0M210.5 595.7h0M148.4 612.4h0M198.6 587.5h0M127.6 659.8h0M120.7 664.9h0M149.6 613.6h0M179.8 626.2h0M178.1 599.2h0M155.7 647.8h0M150.9 650.9h0M217.6 573.9h0M190.1 629.6h0M195.1 594.2h0M130.6 669.1h0M139.7 608.1h0M180.7 593.8h0M187.8 595.6h0M164.6 646.7h0M128.9 661h0M199.1 617.5h0" stroke="#000" stroke-width="6" stroke-linecap="round" stroke-opacity="0.5"/>
<path d="M120.6 664.8h0M141.6 661.8h0M168.2 597.5h0M173.7 594.2h0M118.5 670h0M219.2 580.7h0M186.4 616.2h0M148.4 656.3h0M185.2 628h0M195.5 591.5h0M179.5 595.8h0M222.8 580.1h0M122.8 644.7h0M126.7 670.1h0M156.9 642.6h0M189.3 592.1h0M172.4 633.7h0M193.8 621h0M194 589.6h0M159.5 609.5h0M163.7 602h0M224.8 575.3h0M143.9 619.8h0M220.3 596.2h0M155.9 648.1h0M153 648h0M117.5 683.6h0M135.3 635.7h0M115 675.3h0M204.7 614.3h0M224.6 584.7h0M215.7 601.2h0M221.1 579.2h0M180.1 634.4h0M190.5 617.4h0M185.5 594.6h0M118.4 675.4h0M216.3 581.9h0" stroke="#000" stroke-width="6" stroke-linecap="round" stroke-opacity="0.5"/>
<path d="M101.2 678.6h0M113.6 681.2h0M161.9 601.6h0M121.4 644.3h0M196.8 592.7h0M108.5 683.3h0M182.3 590.8h0M137.2 648.6h0M205.9 580.2h0M124.1 645.8h0M116.4 649.3h0M119.9 643.9h0M227.5 585.6h0M147.5 658.2h0M108.1 666.7h0M220.3 586.1h0M138.9 618.7h0M109.9 674.8h0M144.4 624.5h0M114.4 673.8h0M179.1 627.8h0M149.3 612.9h0M218.6 574.7h0M190.8 624.1h0M117.8 667.8h0M232.9 587.3h0M223.6 574.3h0M135.2 671.8h0M187.9 617.2h0M195.1 614.9h0M137.5 665.6h0M114.6 679.5h0M129.8 637.2h0M225.9 587h0M157.8 610.2h0M209.4 583.3h0M204 581h0M135.7 662.7h0" stroke="#000" stroke-width="6" stroke-linecap="round" stroke-opacity="0.5"/>
<path d="M203.7 610.8h0M110.6 677h0M115.7 667.7h0M153.6 658.8h0M149.4 650.8h0M177.1 630h0M222.6 570.4h0M112.8 676.7h0M191.4 619.2h0M110.3 673.2h0M119.3 634.6h0M162.4 596.6h0M226.3 582.5h0M159.4 653.5h0M106.2 684.3h0M121.2 644.2h0M130.4 623.4h0M122.3 638.4h0M220.3 577h0M120.2 667.4h0M140.3 603.9h0M115.2 671h0M206.8 597.6h0M157.4 606.4h0M194.6 619.3h0M215.8 579.1h0M138.7 621.6h0M167.5 592.4h0M157.6 648h0M213 607.7h0M146.9 602h0M214.8 603.6h0M215.9 608.2h0M211 604h0M236 579.9h0M116.4 679.7h0M118 678.5h0M113.7 670.8h0" stroke="#000" stroke-width="6" stroke-linecap="round" stroke-opacity="0.5"/>
<path d="M216.6 583.6h0M142.5 619.6h0M175.1 633.1h0M116.7 661.6h0M115.6 667.7h0M198.1 590.8h0M166.6 601.9h0M134.4 625h0M217.5 579.6h0M224.2 590.6h0M184.4 593.2h0M104.9 680.8h0M175.1 632.2h0M186.8 623.3h0M150.2 658.6h0M205.1 601.1h0M118.1 657.4h0M140.7 618.6h0M221.1 574.9h0M219.2 577.6h0M193 615.8h0M166.1 602.5h0M158.4 604.3h0M198.4 591.5h0M169.9 636.3h0M119 656.2h0M219.5 596.3h0M209.9 602.2h0M190.7 618.2h0M134.8 675h0M125.1 627.6h0M212.2 594.2h0M181.4 624.3h0M234.4 573h0M143.3 611.7h0M206.4 582.5h0M174.7 633.7h0" stroke="#000" stroke-width="6" stroke-linecap="round" stroke-opacity="0.5"/>
<path d="M223.8 594.2h0M117.9 677.6h0M160.7 645.6h0M123.1 676.5h0M225.5 573.7h0M115.3 683.6h0M224.4 596h0M216.8 571.6h0M123.2 645.4h0M119 673.9h0M164.3 603.5h0M123.8 669.4h0M139.7 612.7h0M168 639h0M118.2 674.1h0M192.3 594.4h0M120.9 644.3h0M177 597.7h0M201.8 584.6h0M195.3 622.1h0M113.5 686.2h0M116 685.2h0M143.6 619h0M229.5 585.7h0M116.5 672.6h0M209.9 581.4h0M143.2 614.5h0M102.3 682h0M121.3 663.4h0M227 585.9h0M146 618.5h0M184.8 631.1h0M193.8 621.4h0M117.6 656.7h0M157.8 610h0M162.4 604.4h0M156.6 645.3h0" stroke="#000" stroke-width="6" stroke-linecap="round" stroke-opacity="0.5"/>
<path d="M162.6 602.7h0M183.6 596.2h0M109.9 683.4h0M225.7 589.3h0M185.1 628.2h0M225.3 576.9h0M145.6 606.6h0M183.4 635.8h0M138.6 625.9h0M154.8 643.9h0M121.2 675.6h0M159.8 617.8h0M135.7 662.3h0M215 576h0M162.7 602.9h0M123.7 634.1h0M135.9 660.7h0M147.8 644.9h0M129.6 639.8h0M181.8 631.8h0M202.6 588.2h0M193.6 587.6h0M120.3 650.8h0M168.1 633.9h0M149.4 654.9h0M174.3 635.5h0M115.5 677h0M130 629.7h0M219.8 589.3h0M194 595h0M157 646h0M154.5 650.5h0M210 605.9h0M165.2 606.6h0M107 683.1h0M232.6 578h0M108.9 689.6h0" stroke="#000" stroke-width="6" stroke-linecap="round" stroke-opacity="0.5"/>
<path d="M129 632.9h0M114.4 670.5h0M120.2 683.2h0M133.4 630.7h0M167.5 644.4h0M156.1 599.3h0M151.8 642h0M217.2 592.1h0M184.3 587.9h0M121.1 637.4h0M155.2 608.6h0M157.4 601.1h0M162.1 642h0M175.9 603.1h0M209.8 604.1h0M124.9 665.3h0M168.1 644.6h0M208 579.6h0M191.8 588.9h0M110.1 679.4h0M105.9 684.9h0M171.4 604.2h0M168.3 602.4h0M150.5 639.4h0M139.2 616.5h0M112.9 679.4h0M208.1 606h0M108.7 680.8h0M168.2 600.7h0M137.8 662h0M195.5 588h0M141.2 647.4h0M123.4 654.2h0M179.6 586.5h0M126.7 674.1h0M161.8 641.8h0M150.8 608h0" stroke="#000" stroke-width="6" stroke-linecap="round" stroke-opacity="0.5"/>
<path d="M248.6 561.5h0M233.7 577.9h0M270.1 558.7h0M235 585.1h0M214.3 585.8h0M252.7 575.1h0M236.3 570.8h0M234.5 585.4h0M217.7 591.6h0M257.2 579.2h0M238 569.7h0M254.4 565.4h0M263.8 570.6h0M224 586.9h0M214.4 587.3h0M249.6 574.4h0M228.2 586.5h0M226.4 584.7h0M220.3 599.8h0M248.2 570.4h0M216 590.6h0M220.3 574.2h0" stroke="#000" stroke-width="6" stroke-linecap="round" stroke-opacity="0.35"/>
<path d="M225.1 599.1h0M225.4 582.2h0M238.9 590.3h0M267.9 563.4h0M264.4 560.7h0M226.6 572.1h0M256.2 574.7h0M247 579h0M231.6 583.4h0M261.3 562.6h0M257.4 572.8h0M235.9 576.6h0M269.7 558.8h0M248.3 559.5h0M270.1 569h0M229.6 572.5h0M254.7 579.4h0M238.1 584.4h0M227.5 580.2h0M235.2 570.2h0M232.3 577.8h0M268.7 558.8h0" stroke="#000" stroke-width="6" stroke-linecap="round" stroke-opacity="0.35"/>
<path d="M270.5 556.4h0M226.8 581.1h0M244 573.6h0M266.2 556.9h0M258.7 567.4h0M267.4 567.7h0M266.1 558h0M228.2 590.7h0M251.2 578.4h0M264 557h0M238.6 587.9h0M261.2 574.9h0M258.8 577.9h0M257.1 574.5h0M271 559.2h0M248.9 583.3h0M221.3 577.7h0M239.2 568.7h0M224.1 576.8h0M261 569.1h0M229.4 581.8h0" stroke="#000" stroke-width="6" stroke-linecap="round" stroke-opacity="0.35"/>
<path d="M221.8 575.5h0M257.2 561.4h0M269.7 569.3h0M247.9 560.6h0M237.3 584.8h0M271.7 560.5h0M246.4 568.9h0M226.4 577.5h0M228.1 571h0M244.5 577.9h0M264.2 562h0M238.5 564.1h0M261.8 576.6h0M230.6 596.1h0M254 577.1h0M221.2 576.4h0M230.5 584.9h0M212.1 594.2h0M260.5 567.2h0M247.7 565.9h0M230 568.3h0" stroke="#000" stroke-width="6" stroke-linecap="round" stroke-opacity="0.35"/>
<path d="M227.1 591.1h0M241 588.8h0M241.8 582.1h0M249.4 565.6h0M251.9 563.3h0M259.7 571.1h0M216.8 579.5h0M220.4 588.5h0M266.6 561.3h0M225.2 594.7h0M259.4 560.1h0M222.3 580.6h0M244.6 563.1h0M260.2 569.8h0M216.2 596.3h0M257.3 556.9h0M217 597.4h0M252.5 566.7h0M256.4 578.5h0M228.1 590h0M240.3 583.8h0" stroke="#000" stroke-width="6" stroke-linecap="round" stroke-opacity="0.35"/>
<path d="M234 592.2h0M236.9 579.2h0M223.2 576.7h0M271.3 560.3h0M218.8 578.5h0M216.5 585.3h0M259.6 560.5h0M216.6 582.8h0M237 574.9h0M252 573.4h0M239.5 576h0M264.2 572.5h0M237.4 576.1h0M253.7 560.9h0M231.1 587.9h0M216.9 591.2h0M233.8 592.6h0M242.1 582.8h0M234.6 582.5h0M223.2 599.2h0M251.6 561.4h0" stroke="#000" stroke-width="6" stroke-linecap="round" stroke-opacity="0.35"/>
<path d="M219.7 579.8h0M229.1 576.6h0M227.7 592.6h0M214 587.8h0M254.3 576.4h0M234.7 585.5h0M238.1 568h0M226.1 572.1h0M273 561.1h0M251.6 565.9h0M273.9 564.6h0M216 584h0M263.1 566h0M243 577.5h0M232.3 579.3h0M268.4 558.2h0M239.5 568.3h0M260.2 569.7h0M226.6 576.9h0M217.5 583.4h0M238.7 581.8h0" stroke="#000" stroke-width="6" stroke-linecap="round" stroke-opacity="0.35"/>
<path d="M251.5 573h0M233.8 580.4h0M257.8 567.5h0M239.6 586.1h0M241.8 580.7h0M256.7 567.5h0M237.5 565h0M213.2 589.5h0M253.6 571.3h0M257.9 579.1h0M229.2 589.9h0M219.5 575.4h0M228.9 594.1h0M227.8 576.5h0M239 586.5h0M215.1 585h0M221 574.7h0M231.7 584.3h0M225.8 572.6h0M240 581.1h0M242.1 569.1h0" stroke="#000" stroke-width="6" stroke-linecap="round" stroke-opacity="0.35"/>
<path d="M289.1 522.6h0M296.9 549.4h0M180.8 580.6h0M196.4 627.5h0M276.8 560.5h0M225.4 587.3h0M263.4 565h0" stroke="#000" stroke-width="6" stroke-linecap="round" stroke-opacity="0.5"/>
<path d="M300.2 529.3h0M285.7 553.8h0M187.5 577.3h0M219.9 610.1h0M256.7 578.4h0M207.6 585.1h0" stroke="#000" stroke-width="6" stroke-linecap="round" stroke-opacity="0.5"/>
<path d="M301.3 536h0M215.4 555.6h0M147.3 597.4h0M258.9 586.2h0M245.5 573.9h0M169.6 596.2h0" stroke="#000" stroke-width="6" stroke-linecap="round" stroke-opacity="0.5"/>
<path d="M271.2 543.8h0M222.1 556.5h0M156.2 600.7h0M266.7 572.8h0M236.6 582.9h0M202 586.2h0" stroke="#000" stroke-width="6" stroke-linecap="round" stroke-opacity="0.5"/>
<path d="M104.5 685.5 104.5 663.2 107.1 642 112.7 635.3 125 628.6 133.5 625.7 126.1 646.5 117.2 666.6 110.5 683.3Z" fill="#ee2a1a"/>
<path d="M110.8 634.7h0M130.9 638.2h0M121.9 658.3h0M120.1 660.6h0M129.6 639.3h0M105.1 649.2h0M128.7 629.1h0" stroke="#ee2a1a" stroke-width="6" stroke-linecap="round" stroke-opacity="0.8"/>
<path d="M104.6 683.7h0M125.7 646.5h0M133 623.2h0M126.7 625.9h0M106.7 684.1h0M112.3 675.6h0M108.1 649.1h0" stroke="#ee2a1a" stroke-width="6" stroke-linecap="round" stroke-opacity="0.8"/>
<path d="M112.6 675.7h0M111.6 633.7h0M127.4 627.7h0M111 680.8h0M126.6 643.6h0M106.3 648.4h0M102.1 671.4h0" stroke="#ee2a1a" stroke-width="6" stroke-linecap="round" stroke-opacity="0.8"/>
<path d="M126.7 627.8h0M128.6 644.5h0M132.8 631.4h0M101.5 677.7h0M109.2 685.1h0M105.2 669.4h0M133.5 627.3h0" stroke="#ee2a1a" stroke-width="6" stroke-linecap="round" stroke-opacity="0.8"/>
<path d="M126.3 643.4h0M123.9 649.7h0M124.6 651.2h0M111 680.7h0M105.7 682.7h0M122.1 658h0" stroke="#ee2a1a" stroke-width="6" stroke-linecap="round" stroke-opacity="0.8"/>
<path d="M133.3 623.8h0M128.8 637.6h0M119.2 658.1h0M118.5 658.2h0M105.8 648.4h0M105.6 651.7h0" stroke="#ee2a1a" stroke-width="6" stroke-linecap="round" stroke-opacity="0.8"/>
<path d="M135 611.9h0" stroke="#ee2a1a" stroke-width="6" stroke-linecap="round"/>
<path d="M105.4 687.3 120.5 679.3 133.9 672.6 145.1 665.9 138.4 674.8 125 682.2 112.7 687.3Z" fill="#2a4ef0"/>
<path d="M113.4 688.2h0M146 665.2h0M108.9 687.5h0M132 677.4h0M145.6 669h0M111 686.9h0M116.2 685.4h0" stroke="#2a4ef0" stroke-width="6" stroke-linecap="round" stroke-opacity="0.8"/>
<path d="M141.1 669h0M119.4 680.7h0M124.9 683.8h0M118.1 681.1h0M145.2 666.5h0M141.1 667.2h0" stroke="#2a4ef0" stroke-width="6" stroke-linecap="round" stroke-opacity="0.8"/>
<path d="M105.9 684.9h0M131.7 675.2h0M114.2 687.9h0M140.7 670h0M114.2 685.7h0M122.5 678.9h0" stroke="#2a4ef0" stroke-width="6" stroke-linecap="round" stroke-opacity="0.8"/>
<path d="M123.3 683.5h0M142.1 668.6h0M135.3 675h0M133.1 674.3h0M133.1 680.3h0M144 669.8h0" stroke="#2a4ef0" stroke-width="6" stroke-linecap="round" stroke-opacity="0.8"/>
<path d="M144 666.6h0M127.2 675.5h0M117.2 681.1h0" stroke="#2a4ef0" stroke-width="6" stroke-linecap="round"/>
</g>
<rect x="104" y="488" width="200" height="199.3" fill="none" stroke="#000" stroke-width="1.6"/>
<line x1="98" y1="488" x2="104" y2="488" stroke="#000" stroke-width="1.6"/>
<line x1="98" y1="687.3" x2="104" y2="687.3" stroke="#000" stroke-width="1.6"/>
<line x1="105.5" y1="687.3" x2="105.5" y2="694.3" stroke="#000" stroke-width="1.6"/>
<line x1="302.5" y1="687.3" x2="302.5" y2="694.3" stroke="#000" stroke-width="1.6"/>
<text x="87" y="500.7" text-anchor="end" style="fill:#333;stroke:#333;">100</text>
<text x="90.5" y="689.6" text-anchor="end" style="fill:#333;stroke:#333;">0</text>
<text x="109.4" y="529.7" style="fill:#e0301e;stroke:#e0301e;">n=8234</text>
<text x="288" y="670" text-anchor="end" style="fill:#2236d8;stroke:#2236d8;">n=196</text>
<text x="200.6" y="710" text-anchor="middle">RPM</text>
<text x="201.8" y="732" text-anchor="middle"><tspan font-style="italic">Smarce1</tspan>-MD(R42A)</text>
<text x="201.5" y="757" text-anchor="middle">+BRM014</text>
<text x="34" y="591" text-anchor="middle" transform="rotate(-90 34 591)"><tspan font-style="italic">Smarce1</tspan>-MD(R42A)</text>
<text x="60.3" y="592" text-anchor="middle" transform="rotate(-90 60.3 592)">+DMSO</text>
<text x="91.5" y="591" text-anchor="middle" transform="rotate(-90 91.5 591)">RPM</text>
<g clip-path="url(#cl2)">
<path d="M324.6 686.4 332.1 657.5 344.2 641.4 361.6 625.4 380.4 608 401.8 590.5 415.2 581.2 425.9 582.5 420.5 595.9 412.5 609.3 401.8 622.7 388.4 638.8 369.6 657.5 353.6 670.9 340.2 681.6 330 687.5Z" fill="#000"/>
<path d="M383.4 657.4h0M390.8 603.2h0M399.4 598.3h0M416.6 599h0M348.2 667.3h0M324.4 687.3h0M383.5 650.7h0M365.4 616.8h0M377.8 602.7h0M392.9 635.7h0M419.8 596.8h0M351 630.8h0M406.8 590.7h0M410.4 581.6h0M336 679.2h0M340.9 644.7h0M411.4 613.5h0M419.4 599.8h0M393.2 605.9h0M401.2 579.9h0M335.9 682.5h0M416 571.6h0M323.4 688.2h0M382.1 636.7h0M390.2 640.7h0M349.5 635.4h0M411.3 617.6h0M404 615.1h0M341.6 689.3h0M345.6 641h0M379.9 596.3h0M384.2 601.7h0M346.3 650.1h0M417.7 573.9h0M325.6 677h0M387.8 638.5h0M325.5 681.7h0M400.7 596h0" stroke="#000" stroke-width="6" stroke-linecap="round" stroke-opacity="0.5"/>
<path d="M350.3 667.6h0M333.7 678.4h0M425.6 589.3h0M348.7 636.6h0M341.1 644.9h0M410.5 586h0M395.1 631h0M329.3 678.8h0M325.4 690.4h0M348.9 623.6h0M340 648h0M414.7 578.4h0M385.4 611.6h0M377.1 650.6h0M373.8 607.9h0M354.7 662.7h0M427.9 586.2h0M393.6 586.7h0M331.8 693.5h0M425.7 583.2h0M401.7 621.4h0M375.6 606.5h0M356.5 667.5h0M386.3 608.1h0M370.5 649.7h0M337.7 674.8h0M416.1 583.5h0M416.5 612.7h0M402 623.2h0M327.7 679.7h0M411 617.4h0M420.4 585.3h0M348.9 638.2h0M386.8 635.8h0M405.4 589.4h0M387.4 642h0M369.4 621.5h0M364.7 661.7h0" stroke="#000" stroke-width="6" stroke-linecap="round" stroke-opacity="0.5"/>
<path d="M377.3 613.6h0M350.8 681.2h0M347.9 680.1h0M324.9 677h0M409.8 608.8h0M424.4 608.3h0M416.2 600.2h0M394.4 624.6h0M336.3 649.7h0M416.4 607.6h0M329.6 680.7h0M415.1 609.1h0M423.3 590h0M392 633.7h0M353.5 681.6h0M363.7 622h0M325.1 660.7h0M386.3 597.9h0M402.2 594.5h0M335.5 673.9h0M354.5 670.7h0M361 614.3h0M373.6 612.3h0M339.3 684.7h0M388.5 649.1h0M411.3 582h0M402.1 612.1h0M378.5 644.7h0M368.6 613.6h0M350.3 673.1h0M374.6 608.9h0M367.3 614.7h0M349.1 677.9h0M387.5 635.5h0M370.9 643.9h0M361.3 618.3h0M378.8 606.9h0M344 636.7h0" stroke="#000" stroke-width="6" stroke-linecap="round" stroke-opacity="0.5"/>
<path d="M349.6 670h0M334.1 664.6h0M354.4 626.9h0M365.2 622.9h0M361.3 630.3h0M423.6 583h0M330.2 693.8h0M368.3 660.4h0M364 665.6h0M408 615.2h0M359.6 661.2h0M413.9 597.2h0M343.4 649.7h0M364.1 621.9h0M339.7 683.2h0M399.5 593.2h0M347.5 670.9h0M400.9 626.9h0M350.6 670.6h0M346 649.2h0M405.5 617h0M394.3 637h0M352.9 633.1h0M369 614.5h0M356.7 638.9h0M338.2 658.8h0M354.9 664.6h0M420.7 601h0M423.8 606.9h0M403.3 588.5h0M329.8 682.2h0M390 637.5h0M413.9 605.3h0M352.9 668.3h0M346.9 639h0M337.8 678h0M330.8 688.7h0M394.7 593.4h0" stroke="#000" stroke-width="6" stroke-linecap="round" stroke-opacity="0.5"/>
<path d="M392.1 639.3h0M380.2 640.5h0M372.2 619.1h0M397.2 628.3h0M397.6 622.6h0M413.4 603.9h0M403.3 585.8h0M382.2 639.3h0M331.7 682.7h0M391.4 603.5h0M335.6 647.5h0M343 645h0M327.3 664h0M420.6 603.5h0M385.7 601h0M372.6 652.2h0M417.3 596.6h0M348.8 682.4h0M407.2 584.1h0M401.7 589.3h0M424.8 589.9h0M406.6 616h0M337.9 644.2h0M346.5 640.4h0M369 660.6h0M417.7 592.2h0M392.3 640.3h0M400.6 593.3h0M337.1 680.2h0M425.2 592.8h0M368.6 655.9h0M346.7 635.3h0M411.5 601.7h0M353.8 630.6h0M377.1 648.9h0M357.6 674.5h0M348.5 678.9h0" stroke="#000" stroke-width="6" stroke-linecap="round" stroke-opacity="0.5"/>
<path d="M408.1 617.9h0M387.7 637.9h0M418.8 582.8h0M404.3 622.5h0M402.9 622.8h0M337.6 645.9h0M353.7 626.2h0M357.9 672.2h0M385 608.1h0M324.7 662.6h0M414.5 585.1h0M387 607h0M378.7 655.5h0M358.1 670.2h0M367.3 624.2h0M348.3 628.6h0M419.5 592.1h0M361.2 621.9h0M340.4 660h0M382.7 639.4h0M353.3 678.3h0M392.8 594.6h0M352.6 674.9h0M382.8 601.1h0M386.5 643.7h0M374.4 643.3h0M369.8 629.8h0M334.4 679.1h0M393.8 640.2h0M393.7 632.1h0M399.8 627.4h0M328.9 685.1h0M427.1 577.9h0M388.6 637.2h0M384.8 592.3h0M327.3 689.2h0M383 606.7h0" stroke="#000" stroke-width="6" stroke-linecap="round" stroke-opacity="0.5"/>
<path d="M325.5 678h0M357.3 630.8h0M419.9 579.8h0M359 630h0M329.4 652.2h0M340.4 644h0M344.5 672.4h0M362.2 663.5h0M332.9 695.6h0M374 607.5h0M339.3 680.9h0M325.4 693.1h0M342.2 680.7h0M384.9 619.3h0M341.5 655.7h0M359.5 631.2h0M411.1 581.2h0M365.4 635h0M409.7 622.4h0M400.9 588.6h0M398.7 602h0M367.5 661h0M369.1 615h0M401.1 618.6h0M333.5 693.9h0M423.7 593.2h0M362.1 620.8h0M400.3 624.9h0M381.5 605h0M402.6 591.5h0M394 596.1h0M383.9 639h0M359.1 666.9h0M412.8 604.7h0M408.1 613.8h0M341.4 654.9h0M421.2 602.2h0" stroke="#000" stroke-width="6" stroke-linecap="round" stroke-opacity="0.5"/>
<path d="M346.5 644.8h0M341.4 681.8h0M380.4 649.5h0M414.4 600.2h0M325.4 681.5h0M379.7 647.2h0M401.1 617.1h0M362.8 653.3h0M353.2 667.3h0M370.8 648.7h0M331.2 686.9h0M330.6 684.3h0M335.4 680.4h0M371.1 652.7h0M353.4 640.3h0M404.2 587.7h0M381.4 613.1h0M331.7 680.2h0M329.3 680.9h0M411.7 586.2h0M418.2 610.3h0M386.8 613.2h0M352.1 670.4h0M409 594.9h0M356.5 670.9h0M343.6 677.9h0M401.3 593.4h0M395.9 595.5h0M327.3 666.8h0M335.9 660.8h0M393.1 600.2h0M374.8 654.4h0M420.7 582.2h0M374.7 652.9h0M397 588.3h0M403.9 584.6h0M390.7 631.2h0" stroke="#000" stroke-width="6" stroke-linecap="round" stroke-opacity="0.5"/>
<path d="M413.6 593.4h0M421.4 584.4h0M426 585h0M448.5 574.8h0M444.3 567.9h0M444 581.5h0M435 578.6h0M440.8 584.6h0M456.7 564.1h0M437.3 567.3h0M451.8 570.4h0M419.5 608.7h0M449.9 569.1h0M428.1 589.3h0M441.3 589.6h0M438.1 576.7h0M422 607.1h0M435 583.4h0M438.2 584.3h0M438.1 587h0M436.5 584.6h0M428.9 595.2h0" stroke="#000" stroke-width="6" stroke-linecap="round" stroke-opacity="0.35"/>
<path d="M445.4 558.3h0M436.2 586.8h0M412.6 595.8h0M422.3 592.3h0M415.7 611.9h0M429.1 598.2h0M439.4 563.2h0M443 577.9h0M437.7 567.5h0M428.6 599.6h0M447.9 563.5h0M445.5 565h0M439.1 583h0M413.3 603.5h0M437.2 581.7h0M439.6 587.3h0M438.4 565.2h0M429.8 577.9h0M436.9 572h0M421.1 587.4h0M417.3 604.5h0M425.9 575.3h0" stroke="#000" stroke-width="6" stroke-linecap="round" stroke-opacity="0.35"/>
<path d="M434.4 579.4h0M443.6 575.4h0M448.6 572.5h0M453.2 557.4h0M431.9 570h0M451.5 573.7h0M426 589h0M436.5 587.2h0M452.4 562.1h0M450.1 570.5h0M425.9 591.7h0M439.8 590.8h0M428.3 591.2h0M439.8 572.9h0M455.8 563.6h0M425.8 591.3h0M438.8 581.5h0M410.8 593.6h0M431.5 586h0M422.5 602.6h0M444 566h0" stroke="#000" stroke-width="6" stroke-linecap="round" stroke-opacity="0.35"/>
<path d="M426.3 577h0M439.5 567h0M436.9 564.9h0M420.8 587.7h0M412.1 593.3h0M445.7 561.5h0M434 593.5h0M422.3 601.4h0M443.5 569.3h0M432 585.4h0M429.8 597.3h0M452.7 558.4h0M431.1 587.1h0M440 586.9h0M435.4 596.8h0M452.1 567.5h0M427.9 593.2h0M427.6 595h0M427.7 572.9h0M421.2 601.7h0M434.5 593h0" stroke="#000" stroke-width="6" stroke-linecap="round" stroke-opacity="0.35"/>
<path d="M413.3 584.4h0M435 569.4h0M439.7 567.8h0M434.3 573.7h0M430.9 597.5h0M428.3 600.9h0M425.4 575.9h0M452 566.6h0M417 592.7h0M414.1 589.7h0M426.3 604.7h0M446 560.1h0M422.7 575.6h0M449.1 565.4h0M418.7 608.2h0M433.3 583.5h0M417.5 609.4h0M445.7 579.9h0M428.6 591.3h0M440.5 570.2h0M444.5 569.4h0" stroke="#000" stroke-width="6" stroke-linecap="round" stroke-opacity="0.35"/>
<path d="M416.2 602h0M447.7 566.5h0M437.3 567.3h0M450.5 572h0M426.3 588.6h0M446.6 559h0M449.7 573.9h0M432.4 570.6h0M424 591.2h0M438.9 565.5h0M457.2 561.6h0M440.1 587.7h0M440.7 591.1h0M439.7 573.2h0M446.1 562.4h0M417.7 610.8h0M442.5 570.6h0M415.4 592.4h0M426.1 582.4h0M434.2 574.9h0M418.2 598h0" stroke="#000" stroke-width="6" stroke-linecap="round" stroke-opacity="0.35"/>
<path d="M444.4 559.3h0M424.3 587.4h0M443.5 583.6h0M447.4 579.7h0M418.9 588.4h0M431.3 596.6h0M430.1 602.4h0M433.1 591.8h0M429.3 589.4h0M426.7 573h0M413.4 594.7h0M419.3 596.1h0M417.2 606.4h0M427.2 600.2h0M424.1 595.7h0M428.8 597.5h0M416.3 602.2h0M438.8 583.9h0M449.5 570.7h0M441.8 572.3h0M413 592.3h0" stroke="#000" stroke-width="6" stroke-linecap="round" stroke-opacity="0.35"/>
<path d="M447.2 573h0M420.2 578.9h0M417.6 589.4h0M416.9 612.4h0M432.7 578.8h0M419 598.6h0M426.7 600.4h0M419.3 587.5h0M434.1 581.6h0M428.2 597.9h0M434.3 584.8h0M429.8 582h0M424.1 585.8h0M430.2 585.6h0M423.1 604.9h0M427 600.5h0M425.6 593.2h0M415.1 609.9h0M449.5 571.9h0M425.2 574.9h0M448.3 578.3h0" stroke="#000" stroke-width="6" stroke-linecap="round" stroke-opacity="0.35"/>
<path d="M436.3 605.9h0M404.4 635.5h0M398.5 636.5h0M445.4 596.4h0M413 628h0M436.8 600.9h0M435.9 605.2h0M438.1 598.5h0" stroke="#000" stroke-width="6" stroke-linecap="round" stroke-opacity="0.35"/>
<path d="M422.8 616.3h0M442.3 593.9h0M413.2 622.7h0M418.5 619.5h0M404 635.3h0M427.5 611.3h0M429.7 611.8h0M423.3 613.5h0" stroke="#000" stroke-width="6" stroke-linecap="round" stroke-opacity="0.35"/>
<path d="M400.5 636.1h0M438.5 601.8h0M417.1 621.8h0M403.2 633.4h0M438.2 601.3h0M410.7 630.9h0M427 608.5h0M432.8 609.6h0" stroke="#000" stroke-width="6" stroke-linecap="round" stroke-opacity="0.35"/>
<path d="M453.2 584.7h0M408.1 628.5h0M393.5 641.3h0M420.1 621h0M429.2 608.3h0M412.4 623.9h0M404.1 635.1h0M424.6 616.6h0" stroke="#000" stroke-width="6" stroke-linecap="round" stroke-opacity="0.35"/>
<path d="M418.7 623.9h0M404.4 633h0M440.7 596.1h0M427.4 611.7h0M427.7 612.8h0M412 623.8h0M455.1 583.1h0" stroke="#000" stroke-width="6" stroke-linecap="round" stroke-opacity="0.35"/>
<path d="M434.5 600.7h0M411.9 625h0M407.7 627.8h0M442.8 595.9h0M407.2 628.7h0M450.8 589.7h0M433 609.2h0" stroke="#000" stroke-width="6" stroke-linecap="round" stroke-opacity="0.35"/>
<path d="M432.6 608.6h0M431.4 605.8h0M431.6 604.6h0M456 582.7h0M425.3 610.4h0M425.3 617.3h0M426.5 611.2h0" stroke="#000" stroke-width="6" stroke-linecap="round" stroke-opacity="0.35"/>
<path d="M395.4 639.9h0M438.6 600.7h0M434.4 602h0M448.7 590.8h0M446.3 592.9h0M440.4 598.8h0M440.6 599.9h0" stroke="#000" stroke-width="6" stroke-linecap="round" stroke-opacity="0.35"/>
<path d="M433.4 529.5h0M513.5 504.8h0M468.8 544.5h0M460.7 557.1h0M462.1 577.2h0M446 591.9h0M388.4 595.4h0M433.9 601.3h0" stroke="#000" stroke-width="6" stroke-linecap="round" stroke-opacity="0.5"/>
<path d="M479.5 523h0M513 516.9h0M485.6 549.8h0M487.5 562.4h0M468.8 577.2h0M443.3 609.8h0M452.7 573.1h0" stroke="#000" stroke-width="6" stroke-linecap="round" stroke-opacity="0.5"/>
<path d="M491.5 512.3h0M483.5 535.6h0M471.4 553h0M492.3 563.8h0M459.4 582.5h0M380.4 598h0M428.6 593.2h0" stroke="#000" stroke-width="6" stroke-linecap="round" stroke-opacity="0.5"/>
<path d="M322.8 687 322.8 664.2 332.1 654.8 344.2 641.4 336.2 661.5 328.1 681.6Z" fill="#ee2a1a"/>
<path d="M336.1 663.8h0M322.3 686.4h0M331.6 673h0M332.1 676.9h0M330.9 677.2h0M325.7 658.7h0M330.2 654.9h0" stroke="#ee2a1a" stroke-width="6" stroke-linecap="round" stroke-opacity="0.8"/>
<path d="M339 647h0M325.4 686.3h0M338.9 661.7h0M340.1 650.2h0M337.5 656.8h0M324.7 664.4h0" stroke="#ee2a1a" stroke-width="6" stroke-linecap="round" stroke-opacity="0.8"/>
<path d="M343.1 644.9h0M344 648.8h0M343 650.8h0M322.8 673.7h0M334.9 649h0M342.3 646.9h0" stroke="#ee2a1a" stroke-width="6" stroke-linecap="round" stroke-opacity="0.8"/>
<path d="M324.1 670.8h0M334.2 654.2h0M326.1 672.4h0M322 686h0M337.4 651.6h0M342.6 642.9h0" stroke="#ee2a1a" stroke-width="6" stroke-linecap="round" stroke-opacity="0.8"/>
<path d="M342.9 635.6h0" stroke="#ee2a1a" stroke-width="6" stroke-linecap="round"/>
<path d="M323.6 687.5 340.2 677.6 353.6 671.4 362.1 673.1 349.6 683 332.1 687.5Z" fill="#2a4ef0"/>
<path d="M332.1 681.9h0M337.4 686.7h0M357.8 674.4h0M340.6 683.8h0M350.4 684.2h0M352.9 679.5h0M339 678.6h0" stroke="#2a4ef0" stroke-width="6" stroke-linecap="round" stroke-opacity="0.8"/>
<path d="M336.1 685.2h0M342.2 675.5h0M336.6 686h0M340.8 686.6h0M352.3 676.6h0M333.5 682.2h0" stroke="#2a4ef0" stroke-width="6" stroke-linecap="round" stroke-opacity="0.8"/>
<path d="M341.9 677.4h0M343.5 673.6h0M355.2 678.5h0M340.5 685.2h0M332.3 684.8h0M360.1 672.2h0" stroke="#2a4ef0" stroke-width="6" stroke-linecap="round" stroke-opacity="0.8"/>
<path d="M328.3 687.3h0M354.9 675.5h0M348.6 675h0M323 685.2h0M326.2 685.9h0M327.9 687.7h0" stroke="#2a4ef0" stroke-width="6" stroke-linecap="round" stroke-opacity="0.8"/>
<path d="M393.8 654.8h0M379.8 665h0M393.8 668.8h0M401.8 667.7h0M406.6 673.6h0M414.7 662.9h0M444.7 658.3h0M350.9 681.6h0M356.3 676.3h0" stroke="#2a4ef0" stroke-width="6" stroke-linecap="round"/>
</g>
<rect x="322.8" y="488.2" width="199.5" height="199.3" fill="none" stroke="#000" stroke-width="1.6"/>
<line x1="316.8" y1="488.2" x2="322.8" y2="488.2" stroke="#000" stroke-width="1.6"/>
<line x1="316.8" y1="687.5" x2="322.8" y2="687.5" stroke="#000" stroke-width="1.6"/>
<line x1="324.3" y1="687.5" x2="324.3" y2="694.5" stroke="#000" stroke-width="1.6"/>
<line x1="520.8" y1="687.5" x2="520.8" y2="694.5" stroke="#000" stroke-width="1.6"/>
<text x="335.6" y="529.5" style="fill:#e0301e;stroke:#e0301e;">n=2893</text>
<text x="514.3" y="670.4" text-anchor="end" style="fill:#2236d8;stroke:#2236d8;">n=589</text>
<text x="426.6" y="710.3" text-anchor="middle">RPM</text>
<text x="419.2" y="733.9" text-anchor="middle"><tspan font-style="italic">Smarce1</tspan>-MD</text>
<text x="419.2" y="757.2" text-anchor="middle">+DMSO</text>
<g clip-path="url(#cl3)">
<path d="M617.4 687 629.5 657.5 645.6 626.7 669.7 616 696.5 603.9 717.9 591.9 728.6 587.9 734 598.6 723.3 614.7 701.8 633.4 675 650.8 653.6 665.6 634.9 678.9 621.5 687.5Z" fill="#000"/>
<path d="M638.2 636.9h0M626.8 686.7h0M642.1 630.7h0M700.9 629.5h0M720.6 588.6h0M724.6 613.3h0M707.5 596.3h0M720.7 610.9h0M641.7 642.5h0M710.2 625.6h0M731.3 590.8h0M634.8 652.1h0M668.8 647.6h0M689.9 645h0M712.7 595.6h0M691.2 648.3h0M688.6 636.6h0M701.1 637.2h0M727.5 607h0M724.1 617.8h0M670.3 650.6h0M629.3 687.4h0M726 601.8h0M656.3 618.9h0M641.2 641.7h0M655.3 616.1h0M698.6 646h0M646.9 625.2h0M702.4 631.9h0M629.2 677.2h0M705.5 629.2h0M722.8 623.4h0M713.6 584.9h0M674.2 607.6h0M645.5 677.2h0M625 683.2h0M714.8 592.9h0M713.7 585.5h0" stroke="#000" stroke-width="6" stroke-linecap="round" stroke-opacity="0.5"/>
<path d="M652.7 619.6h0M683.5 634.6h0M656.1 660.3h0M633.6 665.4h0M719.9 610.7h0M621.2 684h0M683.7 606.7h0M684 614.7h0M727.6 600.9h0M622.7 686.5h0M710 591.5h0M690.3 608.3h0M638.6 640.2h0M644.1 642.7h0M626.6 649.2h0M657.4 662h0M649 624.9h0M670.2 653h0M704.3 637.4h0M633.1 636.4h0M660 656.3h0M681.5 643.5h0M673 626.8h0M685.4 602.1h0M651 660h0M622.9 679.4h0M726.9 587.3h0M712.7 588.7h0M730.5 596.8h0M656.8 666.8h0M641.6 643.1h0M655.4 626.7h0M641.2 672.6h0M684.9 647.4h0M695.1 613.2h0M726.8 611.5h0M639.7 683.7h0M660.6 670.1h0" stroke="#000" stroke-width="6" stroke-linecap="round" stroke-opacity="0.5"/>
<path d="M625.4 659.9h0M678.9 642.4h0M657 665.4h0M693.4 602.6h0M620.4 660h0M713.4 625.3h0M643.9 678.9h0M654.9 664h0M734.3 592.1h0M661.9 670.6h0M663.4 653.3h0M641.9 625.7h0M706.3 633.4h0M707.9 596.1h0M655.1 621.2h0M613.4 678.1h0M706.9 598h0M642 619.2h0M728.8 584.7h0M616.8 689.4h0M721.6 586.5h0M671.6 656.3h0M636.6 681.2h0M676.9 646.7h0M724.1 605h0M694 609.6h0M732.7 584.3h0M638.7 676.3h0M658.1 629.1h0M639.8 677h0M680.9 647.6h0M618.6 690.2h0M727.1 586.3h0M701.3 600h0M671.5 617h0M624.7 661h0M705.7 601.1h0M627.2 684.6h0" stroke="#000" stroke-width="6" stroke-linecap="round" stroke-opacity="0.5"/>
<path d="M629.3 685.7h0M725.2 620.1h0M726.8 611.2h0M667.7 628h0M668.5 647.1h0M727.1 591h0M647.6 613.4h0M720.1 618.7h0M714.2 629.2h0M621.8 684.5h0M645.6 629.4h0M666.1 662.1h0M667.8 622.4h0M696.8 603.7h0M680.2 636.5h0M624.5 662.2h0M718.4 594.9h0M717.5 587.8h0M672.5 660.2h0M661.4 657.5h0M696.8 635.7h0M684.3 598.2h0M733.5 597.8h0M704.7 641.6h0M698.5 639.4h0M708.7 623.2h0M668.5 654.6h0M623.8 663.1h0M719.2 614.9h0M711.8 626.5h0M717.3 592.1h0M681.4 659.5h0M640 631.3h0M621.8 687.6h0M676.2 668h0M715.5 625.1h0M678 613.4h0M696.4 647.1h0" stroke="#000" stroke-width="6" stroke-linecap="round" stroke-opacity="0.5"/>
<path d="M670.8 608.3h0M630.8 656.2h0M718.3 600.4h0M659.4 620.6h0M671.2 651.6h0M670.6 611h0M720.7 621.3h0M665.2 658h0M652.1 673.1h0M644.1 628.3h0M684.7 644.4h0M691.2 603.6h0M649.5 669.4h0M629.9 674.6h0M641.8 675.1h0M717.5 587.7h0M655.4 623.1h0M627.7 684.2h0M689.9 611.2h0M727 588.8h0M656.5 672.8h0M710.1 637.9h0M618.9 691.4h0M628.9 668.9h0M709.4 619.7h0M642.3 639.7h0M662.8 659.5h0M617.2 671.8h0M624.9 676.7h0M627.3 676.5h0M616.8 687h0M646.9 621h0M635.6 657.4h0M654.3 614.7h0M730 602.4h0M660.2 655.9h0M625.9 672.6h0" stroke="#000" stroke-width="6" stroke-linecap="round" stroke-opacity="0.5"/>
<path d="M669.5 659.6h0M666.2 614.9h0M616 673.4h0M716.3 594.4h0M623.6 685.8h0M692.3 604.2h0M648.7 621.1h0M618.5 679.6h0M676.4 614.4h0M672.9 644.9h0M650.7 667.3h0M637.7 680h0M668.7 657.2h0M647.8 614.7h0M704.4 621.8h0M699.9 642.6h0M667.3 620.1h0M696.4 601.7h0M632.5 675.8h0M743.2 607.8h0M634.2 644.5h0M624.6 682.5h0M640.4 634.3h0M662.3 661.3h0M712 593.8h0M665.6 616.9h0M733.3 595.7h0M639.9 678.6h0M620.5 680h0M717 629.2h0M644.7 630.3h0M722.1 588.7h0M659.2 625.5h0M630 658.7h0M680.3 644.4h0M629 674.9h0M685.7 641.6h0" stroke="#000" stroke-width="6" stroke-linecap="round" stroke-opacity="0.5"/>
<path d="M722.6 598.3h0M632.4 632.2h0M674.7 608.9h0M612.8 689h0M676.6 617.9h0M707.7 622.3h0M708 628.5h0M672.5 648.7h0M622.2 664.4h0M640.8 670.1h0M704.3 596.8h0M642.1 664.4h0M619.8 661.6h0M651.5 666.2h0M670.6 617h0M718.9 586.3h0M716 586.1h0M708.3 621.8h0M627.9 648.8h0M689.5 604.4h0M624.1 677.7h0M679 655.1h0M657.3 621.2h0M635.8 639.1h0M626.7 648.1h0M642.8 670.2h0M647 673.9h0M639.4 672.6h0M699.4 596.2h0M656.6 620.9h0M641.2 640h0M695.9 645.5h0M641.6 675.6h0M638.4 679.4h0M655.8 668.7h0M673.7 612.7h0M648.1 628.9h0" stroke="#000" stroke-width="6" stroke-linecap="round" stroke-opacity="0.5"/>
<path d="M674.7 649.4h0M625.2 686h0M654.4 627.9h0M690.7 611.1h0M632.3 646.1h0M718.9 619.6h0M679.6 647.7h0M630.4 662.4h0M621.3 665.9h0M622.4 687.2h0M702 633.6h0M721.1 590.1h0M694.2 631.1h0M715.5 626.9h0M721.2 618.3h0M644.8 672.2h0M717.1 593h0M659 665.2h0M629.4 653.3h0M627.9 683.1h0M651.6 661.1h0M689.8 637.8h0M684.1 607.9h0M680 613.3h0M684.6 610h0M632.6 657.2h0M707 594h0M696.4 611.7h0M729.2 589h0M690.7 615.1h0M669.3 652.6h0M712.7 613.4h0M635.3 686.5h0M687 620.1h0M634.9 675.6h0M648.6 669.3h0M720.1 594h0" stroke="#000" stroke-width="6" stroke-linecap="round" stroke-opacity="0.5"/>
<path d="M759.3 573.9h0M768.5 574.6h0M745.5 586h0M746.5 588.6h0M720.4 590h0M755.8 602.5h0M765.8 577.3h0M764.3 578.3h0M781.5 554.6h0M771.3 580.7h0M746.4 583.9h0M733.1 589.4h0M750.6 574.5h0M755 601.9h0M741.7 589.9h0M784.9 570.3h0M759.3 577h0M750 579.4h0M755.4 569.1h0M736.6 612h0M759.6 582.4h0M723 600h0M722.5 597.3h0M749.1 574.5h0M763.9 591.8h0M786.9 555.2h0M743.8 592.3h0M757.5 584.1h0M741 602.5h0" stroke="#000" stroke-width="6" stroke-linecap="round" stroke-opacity="0.35"/>
<path d="M726.9 622.3h0M761.5 570.4h0M725.9 623.2h0M761.8 586.1h0M724.6 595.5h0M735 595.9h0M743.8 593.7h0M725.6 596.5h0M746 580.6h0M771 564.6h0M783.4 558.6h0M730 593.6h0M774.8 579.1h0M763.5 575.8h0M767 584.3h0M760.5 572.5h0M723 603.6h0M777.4 574.3h0M750.2 603.2h0M742.5 608.1h0M760.3 594.1h0M744.4 614.6h0M760.2 583.7h0M725.4 589.5h0M791.9 554.9h0M751.9 578.9h0M728.7 589.6h0M722.3 594.5h0M771.9 573.5h0" stroke="#000" stroke-width="6" stroke-linecap="round" stroke-opacity="0.35"/>
<path d="M768.9 570.2h0M728.2 600.5h0M740.6 614.6h0M739.2 612.1h0M766.1 582.3h0M734.3 595.6h0M762.6 572h0M744.4 583.3h0M748.1 580.4h0M769.1 583.9h0M733 598.7h0M736.8 597.8h0M732.8 605.1h0M783.1 568h0M723.8 607.4h0M772.3 581.4h0M718.9 591.5h0M783.3 563.4h0M775.7 571.2h0M790.9 559.3h0M737.2 586.4h0M755.8 582.5h0M739.3 601.9h0M720.7 628.4h0M782.6 562.5h0M744.2 614.3h0M749.7 606.9h0M757.8 595.8h0M720.8 593.2h0" stroke="#000" stroke-width="6" stroke-linecap="round" stroke-opacity="0.35"/>
<path d="M772.1 575.9h0M751.4 601.5h0M790.6 553.8h0M724.3 624.8h0M758.5 576.9h0M749.6 604.4h0M749.6 606.8h0M758.5 583.6h0M740.9 594.1h0M733.1 607.5h0M788.4 554.5h0M741.5 615.4h0M778.7 554.1h0M723.6 609.5h0M728.6 614.3h0M733.5 592h0M780.4 571.9h0M791.7 554.9h0M735.8 616.1h0M729.9 606.6h0M731.5 586.1h0M740.7 611.9h0M762.3 575.6h0M757.7 592.4h0M721.4 602.6h0M767.7 579.2h0M745.1 589.8h0M722.1 613.8h0M787.4 553.6h0" stroke="#000" stroke-width="6" stroke-linecap="round" stroke-opacity="0.35"/>
<path d="M760.8 571h0M757.7 577.8h0M749 601.8h0M720.4 625.1h0M739 581.7h0M777.5 554.2h0M751 595.8h0M761.5 591.4h0M728.2 611.9h0M729.4 585.6h0M766.4 572h0M727.9 607.7h0M765.2 586.6h0M747.8 584.9h0M722.4 598.6h0M730.8 594.3h0M738.9 615.2h0M790.5 560.8h0M738.4 597.1h0M751.3 601.7h0M736.8 596h0M741.6 588.5h0M721.6 593.4h0M785.7 569h0M758.5 587.1h0M782.9 561h0M723.9 591.1h0M779.7 560.4h0M788.6 556.1h0" stroke="#000" stroke-width="6" stroke-linecap="round" stroke-opacity="0.35"/>
<path d="M784.1 568.4h0M729.7 600.6h0M726.2 617.7h0M746.7 589.9h0M721 624.5h0M742.6 582.4h0M761 571.6h0M754 589.5h0M755.9 591.4h0M761.3 596.3h0M773.4 561.1h0M770.5 575.6h0M746.5 576.2h0M744.7 595.9h0M755.1 582.6h0M767 574.2h0M756 586h0M763.4 567h0M745.3 588.5h0M784.5 564.3h0M758.6 578.9h0M735.7 589h0M782 565.3h0M741.5 605.7h0M731.2 584.6h0M732.6 612.6h0M737.8 600.3h0M784 555.3h0M764.4 573.6h0" stroke="#000" stroke-width="6" stroke-linecap="round" stroke-opacity="0.35"/>
<path d="M744.5 581.4h0M768.1 571.5h0M737.4 607.7h0M765.6 578.8h0M729.2 618.7h0M746.8 586.6h0M752.6 586.4h0M792.2 554.3h0M753.7 579.2h0M731 582.9h0M721 600.7h0M729.9 619.5h0M774.4 569.6h0M758.3 594.5h0M726 590.9h0M762.2 584.2h0M767.7 577.3h0M738.7 589.7h0M781.2 562.1h0M763.9 591.3h0M751.9 575.3h0M736.3 618.7h0M726.6 616.4h0M735.9 617.9h0M725.4 603.2h0M734.3 606.5h0M761.1 597.1h0M758 599.2h0" stroke="#000" stroke-width="6" stroke-linecap="round" stroke-opacity="0.35"/>
<path d="M733.4 596.4h0M733.2 600.2h0M751.5 578.8h0M773 570.2h0M720.4 627.6h0M757.2 581.2h0M736.4 586.1h0M734.5 620h0M740.3 593.5h0M725.8 602.7h0M731.8 605.1h0M773.1 576.9h0M761.7 574.3h0M735.8 606.8h0M784.8 554h0M723.6 627.3h0M757.7 598.1h0M734.8 584.3h0M722.2 622.7h0M729.6 583.3h0M745.2 589.3h0M739.5 605.2h0M727.1 589.1h0M737.7 609.3h0M743.6 597.1h0M743.8 594h0M724.1 602.2h0M759.1 567.6h0" stroke="#000" stroke-width="6" stroke-linecap="round" stroke-opacity="0.35"/>
<path d="M728.6 558.4h0M809 555.2h0M774.1 586.5h0M717.9 644.1h0M681.7 591.9h0M787.5 571.8h0" stroke="#000" stroke-width="6" stroke-linecap="round" stroke-opacity="0.5"/>
<path d="M750 558.4h0M808.4 568.6h0M767.5 598.6h0M708.5 646.8h0M672.4 598.6h0M780.8 562.4h0" stroke="#000" stroke-width="6" stroke-linecap="round" stroke-opacity="0.5"/>
<path d="M766.1 550.4h0M805 592.7h0M760.8 614.7h0M703.2 659.7h0M659 609.3h0M731.3 620h0" stroke="#000" stroke-width="6" stroke-linecap="round" stroke-opacity="0.5"/>
<path d="M791.6 541h0M802.5 608h0M743.3 613.3h0M695.1 668.2h0M648.2 616h0M739.3 628h0" stroke="#000" stroke-width="6" stroke-linecap="round" stroke-opacity="0.5"/>
<path d="M805 542.3h0M779.5 612h0M731.3 641.4h0M675 671.4h0M798.3 561.1h0M755.4 628h0" stroke="#000" stroke-width="6" stroke-linecap="round" stroke-opacity="0.5"/>
<path d="M616.6 687 616.6 654.8 624.1 634.7 638.9 623.2 646.9 624 638.1 641.4 627.4 662.9 621.5 682.2Z" fill="#ee2a1a"/>
<path d="M614 660.7h0M636.4 641.3h0M621.6 639.1h0M628.5 631.9h0M646 624.9h0M624.1 662h0" stroke="#ee2a1a" stroke-width="6" stroke-linecap="round" stroke-opacity="0.8"/>
<path d="M614.9 657h0M630.2 653.8h0M615.6 668.8h0M625.4 671h0M644.9 623.1h0M621.4 639.9h0" stroke="#ee2a1a" stroke-width="6" stroke-linecap="round" stroke-opacity="0.8"/>
<path d="M640.4 637.5h0M617.2 688.2h0M615 685.6h0M633.5 657.9h0M615.8 666.7h0M622.6 636.4h0" stroke="#ee2a1a" stroke-width="6" stroke-linecap="round" stroke-opacity="0.8"/>
<path d="M618.3 657.6h0M629.4 661.2h0M625.7 636.2h0M638.7 636.9h0M641.8 633.7h0M615.7 658.8h0" stroke="#ee2a1a" stroke-width="6" stroke-linecap="round" stroke-opacity="0.8"/>
<path d="M625.4 635.4h0M643.4 631.2h0M621.2 682.7h0M617.7 655.8h0M628.5 663.2h0M637.4 644.1h0" stroke="#ee2a1a" stroke-width="6" stroke-linecap="round" stroke-opacity="0.8"/>
<path d="M617.4 687.5 634.9 676.8 648.2 670.4 664.9 661.5 648.2 676.3 629.5 684.8Z" fill="#2a4ef0"/>
<path d="M643.6 681h0M644.1 674.7h0M656.6 671.7h0M634 684.2h0M649.4 674.9h0M637 675h0M628.5 683.9h0" stroke="#2a4ef0" stroke-width="6" stroke-linecap="round" stroke-opacity="0.8"/>
<path d="M650.4 667.7h0M634.8 683.8h0M617.6 686.9h0M631.4 680.8h0M648.6 669.6h0M666.5 661.4h0M655.3 670.4h0" stroke="#2a4ef0" stroke-width="6" stroke-linecap="round" stroke-opacity="0.8"/>
<path d="M639.6 680.3h0M648.3 675.6h0M636 676.6h0M618 687.9h0M620.3 685.5h0M663.6 664.8h0" stroke="#2a4ef0" stroke-width="6" stroke-linecap="round" stroke-opacity="0.8"/>
<path d="M691.9 648.9h0M753.5 631.5h0M767.5 614.7h0M660.3 666.9h0M648.2 669.6h0" stroke="#2a4ef0" stroke-width="6" stroke-linecap="round"/>
</g>
<rect x="616.1" y="488" width="198.8" height="199.5" fill="none" stroke="#000" stroke-width="1.6"/>
<line x1="610.1" y1="488" x2="616.1" y2="488" stroke="#000" stroke-width="1.6"/>
<line x1="610.1" y1="687.5" x2="616.1" y2="687.5" stroke="#000" stroke-width="1.6"/>
<line x1="617.6" y1="687.5" x2="617.6" y2="694.5" stroke="#000" stroke-width="1.6"/>
<line x1="813.4" y1="687.5" x2="813.4" y2="694.5" stroke="#000" stroke-width="1.6"/>
<text x="605.4" y="500.7" text-anchor="end" style="fill:#333;stroke:#333;">100</text>
<text x="603" y="689.6" text-anchor="end" style="fill:#333;stroke:#333;">0</text>
<text x="630.8" y="529.5" style="fill:#e0301e;stroke:#e0301e;">n=3339</text>
<text x="803.6" y="670.4" text-anchor="end" style="fill:#2236d8;stroke:#2236d8;">n=39</text>
<text x="721.2" y="710.3" text-anchor="middle">RPM</text>
<text x="712.9" y="733.9" text-anchor="middle"><tspan font-style="italic">Smarce1</tspan>-MD</text>
<text x="712.5" y="757.2" text-anchor="middle">+BRM014</text>
<text x="551.8" y="590.5" text-anchor="middle" transform="rotate(-90 551.8 590.5)"><tspan font-style="italic">Smarce1</tspan>-MD</text>
<text x="576" y="592" text-anchor="middle" transform="rotate(-90 576 592)">+DMSO</text>
<text x="606.7" y="590.5" text-anchor="middle" transform="rotate(-90 606.7 590.5)">RPM</text>
<text x="951" y="27" style="font-size:31px;font-weight:bold;">b</text>
<g clip-path="url(#cl4)">
<path d="M1096.1 260.6 1101.7 281.3 1108.9 299.9 1117.2 314.4 1122.3 319.5 1129.6 310.2 1137.8 304 1143 297.8 1145.1 320.6 1131.6 325.1 1119.2 326.4 1104.8 323.7 1086.1 320.2 1078.9 318.9 1094.4 317.5Z" fill="#bdbdbd"/>
<path d="M1141.8 317.9h0M1141.2 321.1h0M1109.9 305.3h0M1095.6 314.8h0M1103.2 281h0M1102.7 270.6h0M1095 321.4h0M1096.6 264.3h0M1112.8 307h0M1140.9 322.1h0M1128.9 323.9h0M1092.3 321.9h0M1098.9 261.1h0M1081.5 320.4h0M1130.4 313.2h0M1144.6 304.5h0M1095.8 271.4h0M1116.7 310.1h0M1095.5 266h0M1102.1 322h0M1100.1 285.7h0M1089.6 318.8h0M1105.9 286.7h0M1109.6 303.3h0M1112.7 306h0M1099.4 323.5h0M1115.2 315.7h0M1093.6 314.4h0M1113.1 313.1h0M1102.4 325.2h0M1115.6 314.4h0M1135.7 306.1h0M1101.4 282.5h0M1107.9 325.7h0M1093.8 271.4h0M1095.4 295.9h0M1095.9 283.2h0M1112.5 303h0M1116.5 307.1h0M1107.8 324.7h0M1099.8 270h0M1082.6 322.4h0M1110 325.6h0M1080 319.4h0M1120.9 324.7h0M1127.6 313.5h0M1097 266.4h0M1100.8 277h0M1117.4 326.9h0M1097.4 288.5h0M1085.5 319.8h0M1101.7 269.7h0M1084 319.7h0M1097.7 323.1h0M1134.4 307.1h0M1122.8 322.8h0M1082.6 316h0M1094.1 284.4h0M1096.4 285.1h0M1095.8 313.3h0" stroke="#bdbdbd" stroke-width="4" stroke-linecap="round"/>
<path d="M1149.8 277.1h0M1148.2 285h0M1142 296.8h0M1079.5 317.5h0" stroke="#bdbdbd" stroke-width="4.4" stroke-linecap="round"/>
<g clip-path="url(#cl5)">
<path d="M1078.3 187.2 1083 187.2 1087.2 198.6 1091.9 227.5 1096.1 248.2 1096.5 314.4 1093.6 318.9 1087.2 313.3 1081.6 305.1 1078.3 289.6 1076.2 268.9 1075 237.8 1075.8 206.8Z" fill="#1e1ef0"/>
<path d="M1076 292.6h0M1082.5 296.4h0M1081 186.2h0M1096 284.8h0M1097 301.5h0M1079 256.5h0M1097 317.4h0M1090.3 313.8h0M1098.2 251.6h0M1077.4 277.2h0M1074.2 210.7h0M1073.8 220.2h0M1089.5 237.8h0M1077.5 209h0M1080.3 302.9h0M1097.1 313.2h0M1078 266h0M1090.1 228.6h0M1091.5 241.9h0M1093.1 321.1h0M1076.7 192.4h0M1084.9 190.3h0M1074.2 266.5h0M1076.6 244.7h0M1101.1 307.1h0M1096.2 247h0M1074.9 290.4h0M1079.8 276.2h0M1077.6 276.7h0M1095.4 230.7h0M1077 267.6h0M1095.3 273.4h0M1079.2 290.7h0M1076.1 243.8h0M1075.7 204.3h0M1092.6 302.1h0M1091.6 282.7h0M1077.8 242.1h0M1078.8 287h0M1072.5 234h0M1100.1 235.8h0M1073.2 192.4h0M1100.4 266.7h0M1098.6 278.4h0M1085 306.8h0M1084.4 189.2h0M1076.2 244.2h0M1076.2 246.6h0M1090.1 311.8h0M1079.3 271.7h0M1078 202h0M1087.7 318.6h0M1073.2 285.8h0M1082.3 309.7h0M1076.6 228.7h0M1078.2 227.6h0M1082.4 307.3h0M1093.1 318.5h0M1074.7 195.3h0M1072.5 240.8h0M1079.4 273.5h0M1101.8 293.5h0M1094.8 255.4h0M1098.6 295.6h0M1095.8 313.9h0M1080 291.6h0M1077 248.1h0M1094.3 241.6h0M1095.4 278.1h0M1078.1 263.3h0M1097.1 252.9h0M1094.6 303.2h0M1089.1 315.6h0M1076.2 286.3h0M1071.5 224.9h0M1095.2 240.6h0M1074.7 215.9h0M1077.5 217.1h0M1076.7 219.4h0M1075.9 263.6h0M1071.2 235.4h0M1087 218.4h0M1084.2 190.9h0M1076.9 211.2h0M1093.3 315.6h0M1077.1 274.6h0M1092.3 211.6h0M1089.9 316.3h0M1094.2 236.7h0M1079 189.3h0M1089.9 197.9h0M1074.2 254.4h0M1088 318.2h0M1080.5 182.6h0M1088.8 232.4h0M1096.9 294.1h0M1096.9 317.8h0M1073.7 237h0M1075.4 291h0M1097.9 318.3h0M1099.6 250h0M1076.4 245.9h0M1078.4 212.9h0M1075.8 248.7h0M1078.1 264.5h0M1098.8 310.4h0M1076.7 285.3h0M1075.2 200.4h0M1074.6 279.5h0M1099.9 288.4h0" stroke="#1e1ef0" stroke-width="5.2" stroke-linecap="round"/>
<path d="M1075.8 283.9h0M1066.2 239.3h0M1069.4 199.2h0M1066 306h0M1074 253.4h0M1075.3 286.6h0M1063.6 248.6h0M1063.8 251.7h0M1075.7 193.9h0M1073.4 265.3h0M1069.1 224h0M1076.9 260.4h0M1066.9 281h0M1067.2 188h0M1065.8 191.8h0M1063.5 286h0M1069.7 304.9h0M1070.8 249.4h0M1073.3 310.2h0M1075.5 201.4h0M1076 246.5h0M1064.7 193h0M1073.5 202.6h0M1071.2 274.6h0M1071.5 220.8h0M1074.9 241.7h0M1068.9 222.1h0M1075.2 269.9h0M1065.9 315.8h0M1066.5 242.4h0M1076 199.7h0M1073.8 195.7h0M1074.1 269.7h0M1069.3 249.5h0M1064.9 231.6h0M1079.3 297.1h0M1070.7 220.3h0M1076.8 317.1h0M1068 258.8h0M1079.3 308h0M1070.8 235h0M1074.4 250.3h0M1065 273.8h0M1061.5 226.4h0M1066.9 205.1h0M1068.9 282.2h0M1069.1 201.7h0M1084 310.6h0M1067.8 239h0M1065.9 234h0M1069.1 234.2h0M1069.9 237.4h0M1064.5 260.8h0M1064 286.6h0M1073.9 261.3h0M1074 290.5h0M1079.1 305.2h0M1061.5 270.1h0M1063.1 284.9h0M1065.2 287.5h0M1073.3 287.4h0M1069.9 230.9h0M1072.5 257.3h0M1081.7 303.8h0M1073.3 280.1h0M1070.6 205.5h0M1079.2 317.3h0M1069.4 208.3h0M1064.8 242.4h0M1067.1 314.5h0" stroke="#1e1ef0" stroke-width="5.2" stroke-linecap="round"/>
<path d="M1062.4 100.3h0M1065.5 102.4h0M1068.6 107.5h0M1069.6 117.9h0M1071.7 121h0M1067.9 125.1h0M1071.3 130.7h0M1064.8 136.5h0M1072.1 142.7h0M1076.2 148.5h0M1048.9 148.5h0M1054.1 149.3h0M1065.5 156.6h0M1072.1 155.1h0M1077.9 160.3h0M1076.8 165.5h0M1081.6 173.3h0M1075.4 173.7h0M1071.3 176.8h0M1067.1 190.7h0M1060.3 197.5h0M1067.9 200.2h0M1060.3 216.1h0M1067.5 216.1h0M1065.5 227.5h0M1071.7 231.6h0M1060.3 239.9h0M1066.5 247.2h0M1067.5 266.8h0M1071.7 269.9h0M1075.8 281.3h0M1065 300.9h0M1065.5 312.3h0M1071.3 309.8h0M1076.2 309.6h0M1081 303h0M1082 187.2h0M1079.9 192.3h0M1082 198.6h0M1077.9 206.8h0M1079.9 217.2h0" stroke="#1e1ef0" stroke-width="5.2" stroke-linecap="round"/>
</g>
</g>
<rect x="1004.4" y="89.3" width="233.3" height="244.7" fill="none" stroke="#000" stroke-width="2"/>
<line x1="1000.4" y1="137.5" x2="1004.4" y2="137.5" stroke="#000" stroke-width="2"/>
<text x="999.4" y="140.8" text-anchor="end">30</text>
<line x1="1000.4" y1="202.7" x2="1004.4" y2="202.7" stroke="#000" stroke-width="2"/>
<text x="999.4" y="206" text-anchor="end">20</text>
<line x1="1000.4" y1="267.8" x2="1004.4" y2="267.8" stroke="#000" stroke-width="2"/>
<text x="999.4" y="271.1" text-anchor="end">10</text>
<line x1="1000.4" y1="333.6" x2="1004.4" y2="333.6" stroke="#000" stroke-width="2"/>
<text x="999.4" y="336.9" text-anchor="end">0</text>
<line x1="1009.2" y1="334" x2="1009.2" y2="339" stroke="#000" stroke-width="2"/>
<text x="1006" y="357" text-anchor="middle">-4</text>
<line x1="1066" y1="334" x2="1066" y2="339" stroke="#000" stroke-width="2"/>
<text x="1062.9" y="357" text-anchor="middle">-2</text>
<line x1="1122.3" y1="334" x2="1122.3" y2="339" stroke="#000" stroke-width="2"/>
<text x="1116.7" y="357" text-anchor="middle">0</text>
<line x1="1179.6" y1="334" x2="1179.6" y2="339" stroke="#000" stroke-width="2"/>
<text x="1173" y="357" text-anchor="middle">2</text>
<line x1="1236" y1="334" x2="1236" y2="339" stroke="#000" stroke-width="2"/>
<text x="1229" y="357" text-anchor="middle">4</text>
<text x="1127.5" y="76.5" text-anchor="middle"><tspan font-style="italic">Smarce1</tspan>-MD(R42A)</text>
<text x="1013.7" y="179.5">n=537</text>
<text x="962" y="212" text-anchor="middle" transform="rotate(-90 962 212)">−log<tspan style="font-size:12.6px" dy="4.1">10</tspan><tspan dy="-4.1">(pvalue)</tspan></text>
<text x="961.6" y="375.4">BRM014/DMSO log<tspan style="font-size:12.6px" dy="4.1">2</tspan><tspan dy="-4.1">(FoldChange)</tspan></text>
<g clip-path="url(#cl6)">
<path d="M1402.4 204.8 1409.7 207.9 1412.8 223.5 1416.3 237.9 1420.4 258.6 1426.2 279.3 1431.4 300 1435.5 314.5 1440.7 306.2 1445.9 293.8 1450 298 1445.9 316.6 1437.6 325.3 1432.4 323.8 1426.2 314.5 1421 304.2 1414.8 291.7 1408.6 279.3 1403.5 266.9 1401.4 248.3 1401 227.6Z" fill="#bdbdbd"/>
<path d="M1411.3 219.2h0M1423.7 307.7h0M1409.1 219.9h0M1402.1 233.1h0M1420.2 257.6h0M1412.6 289h0M1419.7 257.5h0M1407.3 281.3h0M1401.1 261.5h0M1402.9 238.6h0M1445.8 318.5h0M1427.8 268.6h0M1401.3 267.9h0M1446.2 317.2h0M1422.2 306.7h0M1447 300.5h0M1413.4 290.2h0M1417.5 249.2h0M1398.2 244.9h0M1402 209.7h0M1417.9 245.7h0M1405 256.6h0M1412.8 228.7h0M1411.8 229.9h0M1397.8 216.3h0M1429.9 289.4h0M1404.5 232.8h0M1419.1 262.5h0M1419.2 246.2h0M1431.5 294.7h0M1448.1 294.4h0M1419.8 299.6h0M1451.4 294.4h0M1424.8 307.5h0M1415.1 294.7h0M1453.3 294.9h0M1404.3 269.6h0M1426.4 289.6h0M1427.8 291.9h0M1420.8 305.3h0M1409.4 290.6h0M1439.8 320.7h0M1403.5 258.9h0M1412.6 225.7h0M1416.2 257.1h0M1433.6 324.5h0M1419.8 249.3h0M1414.6 221.2h0M1445.2 306.3h0M1401.2 261.3h0M1443 306.3h0M1420.2 294.2h0M1421.5 305.4h0M1429.6 302.6h0M1413 234.2h0M1406.1 267.1h0M1418.8 243.4h0M1441.7 321.4h0M1415.8 236.8h0M1446.3 306.5h0M1423.7 258.8h0M1422.3 260.9h0M1436.4 323.2h0M1399.5 228.6h0M1417.4 237.5h0M1398.4 233.7h0M1440.2 326.9h0M1403.5 204.6h0M1416.9 235.7h0M1401.3 239.5h0M1403.5 259.6h0M1414.1 223.6h0M1405.2 207.7h0M1427.9 289.7h0M1432.4 312h0M1407.8 209.2h0M1415.2 245.3h0M1417.5 252.6h0M1437.4 326.5h0M1409.8 210.6h0" stroke="#bdbdbd" stroke-width="4" stroke-linecap="round"/>
<path d="M1327.9 239h0M1366.6 238.4h0M1381.7 214.2h0M1389 217.3h0M1393.1 246.2h0M1387.9 256.6h0M1386.9 269h0M1397.3 256.6h0M1404.5 286.6h0M1387.9 307.7h0M1409.7 310.4h0M1416.3 309.3h0M1452.5 266.3h0M1462 264.4h0M1457.3 289.7h0M1468 292.4h0M1464.5 302.1h0M1457.3 308.3h0M1505.9 269.6h0M1539.6 286h0M1498.6 296.5h0M1394.1 229.7h0M1397.3 246.2h0M1393.1 219.3h0M1398.3 223.5h0M1403.5 275.2h0M1405.5 298h0M1411.7 304.2h0M1423.1 315.5h0M1420 310.4h0" stroke="#bdbdbd" stroke-width="4.4" stroke-linecap="round"/>
<path d="M1390 101h0M1393.5 140.3h0M1394.1 160.4h0M1403.5 165.5h0M1399.3 170.7h0M1401.4 171.7h0M1404.5 173.8h0M1398.3 174.8h0M1405.5 180h0M1400.4 183.1h0M1406.6 184.2h0M1399.3 187.3h0M1403.5 188.3h0M1405.5 191.4h0M1406.6 194.5h0M1383.8 182.1h0M1390.4 198.6h0M1403.5 199.7h0M1406.6 201.7h0M1404.5 202.8h0M1401.4 200.7h0M1407.6 193.5h0M1402.4 177.9h0" stroke="#1e1ef0" stroke-width="5.2" stroke-linecap="round"/>
</g>
<rect x="1317.6" y="89.4" width="232.8" height="245.4" fill="none" stroke="#000" stroke-width="2"/>
<line x1="1313.6" y1="146.9" x2="1317.6" y2="146.9" stroke="#000" stroke-width="2"/>
<text x="1309" y="150.3" text-anchor="end">2.0</text>
<line x1="1313.6" y1="193.5" x2="1317.6" y2="193.5" stroke="#000" stroke-width="2"/>
<text x="1309" y="196.9" text-anchor="end">1.5</text>
<line x1="1313.6" y1="240.4" x2="1317.6" y2="240.4" stroke="#000" stroke-width="2"/>
<text x="1309" y="243.8" text-anchor="end">1.0</text>
<line x1="1313.6" y1="287.2" x2="1317.6" y2="287.2" stroke="#000" stroke-width="2"/>
<text x="1309" y="290.6" text-anchor="end">0.5</text>
<line x1="1313.6" y1="334.2" x2="1317.6" y2="334.2" stroke="#000" stroke-width="2"/>
<text x="1309" y="337.6" text-anchor="end">0.0</text>
<line x1="1322.8" y1="334.8" x2="1322.8" y2="339.8" stroke="#000" stroke-width="2"/>
<text x="1327" y="357" text-anchor="middle">-4</text>
<line x1="1379" y1="334.8" x2="1379" y2="339.8" stroke="#000" stroke-width="2"/>
<text x="1383" y="357" text-anchor="middle">-2</text>
<line x1="1435.5" y1="334.8" x2="1435.5" y2="339.8" stroke="#000" stroke-width="2"/>
<text x="1437.4" y="357" text-anchor="middle">0</text>
<line x1="1492.4" y1="334.8" x2="1492.4" y2="339.8" stroke="#000" stroke-width="2"/>
<text x="1493" y="357" text-anchor="middle">2</text>
<line x1="1549.3" y1="334.8" x2="1549.3" y2="339.8" stroke="#000" stroke-width="2"/>
<text x="1548.3" y="357" text-anchor="middle">4</text>
<text x="1435.5" y="76.6" text-anchor="middle"><tspan font-style="italic">Smarce1</tspan>-MD</text>
<text x="1333" y="181.7">n=23</text>
<text x="1266" y="214" text-anchor="middle" transform="rotate(-90 1266 214)">−log<tspan style="font-size:12.6px" dy="4.1">10</tspan><tspan dy="-4.1">(pvalue)</tspan></text>
<text x="1589.7" y="375.5" text-anchor="end">BRM014/DMSO log<tspan style="font-size:12.6px" dy="4.1">2</tspan><tspan dy="-4.1">(FoldChange)</tspan></text>
<text x="1620" y="20" style="font-size:31px;font-weight:bold;">c</text>
<circle cx="1786.5" cy="283.5" r="169" fill="#9ca1c9" stroke="#000" stroke-width="0"/>
<circle cx="1923.6" cy="283.5" r="100" fill="#f47d7d" stroke="#000" stroke-width="0"/>
<circle cx="1923.6" cy="283.5" r="100" fill="#cc8797" clip-path="url(#ccB)"/>
<circle cx="1786.5" cy="283.5" r="169" fill="none" stroke="#000" stroke-width="2.2"/>
<circle cx="1923.6" cy="283.5" r="100" fill="none" stroke="#000" stroke-width="2.2"/>
<text x="1785.6" y="76.2" text-anchor="middle">decreased ATAC signal</text>
<text x="1785.6" y="100.9" text-anchor="middle">BRM014 vs. DMSO</text>
<text x="2014" y="126.7" text-anchor="middle">decreased ATAC signal</text>
<text x="2014" y="151.3" text-anchor="middle"><tspan font-style="italic">Smarce1</tspan>-MD vs.</text>
<text x="2014" y="176" text-anchor="middle"><tspan font-style="italic">Smarce1</tspan>-MD(R42A)</text>
<text x="1731" y="271.9" text-anchor="middle">6413 (69 %)</text>
<text x="1893.5" y="276" text-anchor="middle">1821 (20 %)</text>
<text x="1990" y="276" text-anchor="middle">1072</text>
<text x="1990" y="301.3" text-anchor="middle">(12 %)</text>
<text x="1904" y="417.6">p=1.01x10<tspan style="font-size:12.6px" dy="-7.8">-322</tspan></text>
<text x="1891.6" y="442.8">Obs/Exp= 41.25</text>
<text x="10" y="801" style="font-size:31px;font-weight:bold;">d</text>
<g clip-path="url(#cl7)">
<path d="M68.9 986.9 96.6 960.5 124.4 935.5 152.2 907.7 179.9 885.5 207.7 864.7 235.5 846.7 260.4 843.9 266 857.8 256.3 885.5 242.4 913.3 221.6 941 193.8 975.8 166 1010.5 145.2 1045.2 131.3 1054.9 110.5 1031.3 82.8 1010.5Z" fill="#dcdddf" filter="url(#blur4)"/>
<path d="M101.4 989.4h0M194 945h0M111.5 1011.1h0M225.3 892.9h0M99.4 1016.4h0M158.2 960.4h0M136.5 946.2h0M239.6 893.4h0M222.7 887.9h0M231.9 886.3h0M149.6 920.9h0M157.8 925.3h0M166.7 947.6h0M112.6 972.4h0M178.6 975.3h0M137.5 1039.5h0M137.2 969.9h0M222 923h0M241.6 878.1h0M233.9 854.9h0M215.9 944.9h0M172.5 997.6h0M152.9 966.5h0M236.3 908.9h0M174.2 902.1h0M184.1 898.1h0M247.4 872.1h0M175.1 912.3h0M143.4 993.7h0M81.4 1005.1h0M103.4 994h0M118.7 990.9h0M168.1 959.8h0M255.8 864.7h0M187.4 951.1h0M130 991.5h0M172.5 962.2h0M131.6 1053.4h0M218.7 938.4h0M195.9 937.3h0M170.9 926h0M117.6 992.5h0M144.8 946.6h0M165.8 995.2h0M117.2 1037.3h0M145 973.6h0M128.5 1043h0M215.2 941.4h0M207.6 887.3h0M135 979.3h0M203.2 898.9h0M119 1022.2h0M99.1 987.6h0M108.3 970h0M155 974.1h0M206.9 894.6h0M177.7 891.4h0M191.1 943.3h0M226.6 915.2h0M127.6 976.2h0M244.3 858.9h0M202.5 883.9h0M149.4 989.6h0M138.3 956.2h0M192.7 880.6h0M208.8 948.1h0M100.8 1023.4h0M202.8 889.7h0M138.2 973.3h0M196.4 878h0M242.7 887.5h0M104 957.8h0M229.5 920.3h0M152.3 966.3h0M74.1 984.3h0M152.5 979.1h0M197.2 897.3h0M153.7 923.6h0M165.4 899.9h0M174.9 940.7h0M199.8 966.6h0M141.9 1018.2h0M167.4 941.3h0M145.6 976.5h0M251.8 885.8h0M232.7 899.8h0M203.4 906.3h0M167 994.3h0M111.8 988.7h0M134.9 980.9h0M206.1 931.2h0M156.4 949.5h0M158.9 952.3h0M112.9 1010.4h0M184.5 966.9h0M101.4 1012.5h0M148.8 1004.4h0M108.9 991.5h0M116.7 970.3h0M171.5 983.9h0M131.6 1036.6h0M139.4 1009.5h0M251.5 860.7h0M145.6 1012.9h0M91 983.5h0M142.6 1026.4h0M152.7 989.6h0M192.6 943.8h0M178.6 920.6h0M240.1 915h0M200.4 892.5h0M197.1 938.9h0M205.2 945.2h0M133.6 1032h0M235.7 874.6h0M242.1 895.8h0M192.3 901.5h0M121.5 1011.5h0M207.2 952.3h0M153.8 984h0M158.4 1004.9h0M78.4 978.2h0M127.2 938h0M209.2 931.1h0M146.1 997.6h0M192.1 909.8h0M123.8 1009.2h0M227.2 880.5h0M181.9 960.8h0M191.4 879.5h0M218.9 864.5h0M147 1010.9h0M212.6 895.4h0M154.3 1028.4h0M159.7 990.1h0M223.5 883.3h0M85.6 994.7h0M101.8 959.7h0M92.7 1013.6h0M182.1 920.6h0M188.4 927.9h0M155.8 1002.1h0M219.4 891.3h0M138.4 957.3h0M162.2 1006.6h0M204.1 910.4h0M120.9 985.6h0M247.3 863.9h0M211.5 899.9h0M216.8 933.2h0" stroke="#d0d0d0" stroke-width="2.4" stroke-linecap="round"/>
<path d="M107.7 982.7 121.6 963.3 138.3 945.2 154.9 927.2 173 907.7 191 891.1 207.7 875.8 221.6 863.3 235.5 853.6 249.3 852.2 256.3 860.5 249.3 875.8 239.6 896.6 232.7 910.5 225.7 924.4 214.6 935.5 200.8 954.9 186.9 971.6 173 985.5 160.5 999.4 149.4 1010.5 141.1 1027.1 135.5 1034.1 128.6 1031.3 121.6 1013.2 113.3 996.6Z" fill="#c5c6c8" filter="url(#blur2)"/>
<path d="M234.9 908.4h0M135.6 1027.4h0M141.1 947.5h0M167.3 907.9h0M232.7 892.8h0M161.8 1001.4h0M251.1 852.4h0M191 887.1h0M111.3 979.5h0M165.3 903h0M117.3 1008.4h0M238.6 884h0M123 961.9h0M219.7 864.6h0M197 961.4h0M163.4 919.8h0M180.2 899.5h0M219 925.9h0M138.6 949.4h0M248.7 879.5h0M156 924.6h0M251.4 875.6h0M162.5 912.8h0M246.5 872.5h0M220.3 861.8h0M240 898.4h0M221.3 867.5h0M197.6 950.6h0M251.1 883.4h0M246.6 844.3h0M237.2 904.2h0M242 891.5h0M241.7 848.1h0M171.9 987.5h0M249.8 852.7h0M156.7 1000.3h0M247.2 884.1h0M256.4 852.5h0M160.7 998.7h0M119.9 1005.4h0M230.1 853.3h0M192.7 885.4h0M134.2 953.3h0M128.7 1022.3h0M161.2 1000.8h0M180 906.2h0M144.3 929.5h0M168.5 907.1h0M110.4 997.4h0M126.3 1023.5h0M147.6 1010.5h0M111.4 999.2h0M179.8 903.2h0M160.2 920.4h0M214.6 928.8h0M230.1 918.9h0M133.7 946.7h0M113.9 985.8h0M146 1021h0M235.7 855.8h0M246.4 880.7h0M239.5 913.6h0M229.1 911.9h0M185 965.5h0M224.2 929.6h0M121.8 960.5h0M184.7 979.5h0M162.9 921.6h0M139.9 1026.2h0M160.9 1001h0M191.3 962.3h0M217.6 863.3h0M184.3 893.8h0M142.3 1029.5h0M178.5 907.2h0M199.5 944.6h0M155.7 922.1h0M192.8 889.9h0M196.1 891.3h0M202.5 960.7h0M209.9 951.9h0M139.3 1031.5h0M146.1 937.3h0M115.4 1005.4h0M173.9 905.9h0M140.8 1026.7h0M134.2 1037.3h0M204.7 944.1h0M204 951.1h0M107.2 976.8h0M157.9 1008.2h0M246.1 869.7h0M234.4 900.9h0M156.2 926h0M112.4 966.9h0M109.4 993.2h0M120.2 1011.1h0M182.8 895.4h0M124.8 961.3h0M224 867.4h0M253.9 859.9h0M142.9 1008.2h0M150.2 1005.6h0M214 936.1h0M132.8 1027.4h0M130.9 1025.3h0M249 879.1h0M230.2 851.4h0M238.7 897.1h0M196.7 957.4h0M113.5 974.5h0M210.8 879.8h0M160.1 920.2h0M170.7 901.3h0M126.5 953.5h0M211.9 940.3h0M133.8 950.8h0M217.1 939.8h0M128.3 1031.3h0M146.6 1023.7h0M202 953.4h0M206.7 871.1h0M110 986.2h0M161.3 920.6h0M182.6 979.4h0M250.5 874h0M257.1 861.9h0M124.9 1024.8h0M127.6 949h0M223.1 858h0M136.5 946.9h0M246.7 876.2h0M137.6 1030.5h0M152.3 925.8h0M137.3 1026.5h0M149.7 1010.9h0M137.8 946.1h0M182.5 985.4h0M216.6 932.6h0M251.5 866.9h0M109.9 995.6h0M199 884h0M144 1027.5h0M216.3 931.5h0M247.9 885h0M255.7 859.4h0M250.2 852.9h0M233.1 916.5h0M230.6 902.8h0M159.1 1002.8h0M113.8 1004h0M258 867.7h0M153.1 1007.7h0M169.8 904.7h0M136.6 957.8h0M222.7 866.1h0M138.8 942.9h0M215.5 935.6h0M176.9 901h0M252.1 867.3h0M124.9 1004.9h0M112.1 992.8h0M146.9 1019.2h0M251.9 876.6h0M151.2 939.4h0M154.8 1015.9h0M232.1 851.7h0M139.7 1027.9h0M231.9 913.3h0M144.8 1015.3h0M228.1 862.6h0M111 997.9h0M161.3 920.3h0M243.8 853.7h0M143 928.1h0M201.9 883.5h0M235.1 908.9h0M188.4 893.8h0M198.5 957.5h0M115.8 965.3h0M188.7 968.1h0M238.7 904.3h0M114.2 968.6h0M200.6 883.5h0M121.5 977.9h0M116.3 966.5h0M219.5 935.7h0M150 1009h0M127.1 1023.8h0M208.8 937.5h0M223.1 930.1h0M225.7 861.8h0M179.9 976.5h0M243.8 852.2h0M235.1 898.8h0M145 933.6h0M211.1 944.8h0M116.8 994.2h0M112.6 997.9h0M243.1 889.4h0" stroke="#c5c6c8" stroke-width="2.4" stroke-linecap="round"/>
<path d="M145.2 1021.6 154.9 1006.3 166 992.4 177.2 981.3 188.3 970.2 198 961.9 207.7 949.4 216 939.7 223.7 936.9 224.4 948 218.1 961.9 213.2 973 204.2 985.5 193.8 999.4 185.5 1014.6 177.2 1028.5 166 1035.4 154.9 1034.1 146.6 1029.9Z" fill="#ec1c24" fill-opacity="0.8" filter="url(#blur2)"/>
<path d="M197.4 988.8h0M163.4 1027.6h0M167.5 1025.5h0M193.3 982.1h0M162.3 1021.3h0M172 996.4h0M172.4 1017.1h0M206.3 960.4h0M215.9 955.2h0M181.6 1014.6h0M210.7 970.8h0M166.5 1006h0M219.4 947h0M182.8 1017.8h0M221.4 939.2h0M168.3 991.1h0M205.8 952.1h0M180.4 1008.5h0M213.2 972.1h0M210.7 949.1h0M194.9 977.7h0M210.3 958.8h0M166.7 1017.8h0M191 973.5h0M211.9 951.9h0M174.9 996.5h0M162.5 1007.6h0M207.6 980.7h0M159.1 1003.4h0M177.3 1019.7h0M173.3 1030.9h0M190.4 998.5h0M207.3 952.8h0M195.7 978.4h0M176 1023.2h0M176.6 1023.6h0M154 1015.3h0M180.3 992.2h0M161.4 1021.5h0M181.7 1020.8h0M160.8 1005.3h0M149.1 1028.1h0M206.7 981.6h0M181.4 1019.4h0M180.6 1006.3h0M192.6 986h0M187.8 999.4h0M169.9 1006.9h0M183 1018.6h0M162.6 1012.3h0M174.8 1009.7h0M195.3 977.3h0M192.7 985.6h0M173.7 986.6h0M202.2 980.4h0M223.2 945.2h0M185.4 981.6h0M216.6 946.8h0M186.8 1000.8h0M148.7 1024.8h0M188 1000.6h0M187.6 995.7h0M204.4 965h0M210.6 955.6h0M197.7 964.1h0M204.7 972.9h0M167.5 1004.6h0M179.5 994.3h0M175.9 992.4h0M165.8 1021.1h0M189.2 973.6h0M218.5 947.4h0M217 958.4h0M181.8 1011.4h0M190.9 974.5h0M150.8 1021h0M199 962.7h0M183.5 1017.3h0M165.9 1017.5h0M165.4 1017.3h0M178.3 1026.1h0M175.7 1019.1h0M204.7 973.8h0M192.2 978.9h0M186.3 979.5h0M183.2 1013h0M217.2 944h0M161.7 1002.5h0M223.9 941h0M199.7 968.3h0M178.2 982.2h0M155.5 1021.2h0M209.6 950.4h0M200.2 959.3h0M203.1 980.2h0M194.9 968.4h0M197.3 976.3h0M181.3 1016.1h0M165.6 1034.9h0M180.2 1015.5h0M194.7 985h0M219.5 947.3h0M202.2 982.1h0M184.3 998.3h0M186.7 1002.2h0M184.7 986.7h0M187.9 1005.9h0M193.5 997.3h0M173.1 1015.8h0M189.2 1002.4h0M174.6 1002.1h0M212.6 968.3h0M214.7 950.8h0M194.8 994.4h0M209.9 950.3h0M197.5 975.2h0M190.4 997.3h0M168.5 1008.6h0M184.4 988.3h0M206.1 958.3h0M190.2 986.9h0M176.8 996.5h0M181.3 1008.9h0M168.2 1028h0M188.1 987.4h0M174.7 999.6h0M178.1 1022.9h0M175.7 1019.2h0M182.7 1013.3h0M179.9 989.2h0" stroke="#ec1c24" stroke-width="2.6" stroke-linecap="round"/>
<path d="M148.7 1012.5h0M156.1 1010.7h0M194.4 1006.1h0M171.1 1011.8h0M139.4 1030h0M144.4 1018.3h0M169.9 998.6h0M186.6 1012h0M206.3 989.7h0M202.7 1007.8h0M230 954.8h0M191 976.6h0M211.5 976.6h0M161.6 1045.6h0M208.5 943.8h0M212 990.4h0M198.2 968.5h0M144.1 1042h0M195.2 990h0M178 1004.9h0M181.5 993.3h0M193.7 992.3h0M185.8 1020h0M213.9 966.6h0M196.6 970.4h0M209.8 973h0M186.8 1007.7h0M192.2 968h0M164.1 994.8h0M208.2 951.2h0M144 1023.8h0M177.9 1038.3h0M205 958.6h0M211.7 955.7h0M157 1047.4h0M216.6 948.5h0M155.4 1029.5h0M189.3 993.3h0M189.2 1013.2h0M167.9 990.1h0M166.3 998.1h0M219.7 978.4h0M170.9 1050.6h0M178.7 1022.1h0M210.9 983.8h0M171.7 1048.2h0M166.8 1045.2h0M192.7 1031.2h0M185 978.7h0M211.5 974.3h0M171 1040.9h0M211.3 993.7h0M169.7 1002.7h0M187.4 998.4h0M209.2 994.1h0M160.2 1024.7h0M216.3 961.9h0M219.1 940.7h0M180.9 1006.6h0M147.5 1027.2h0M221.6 974.7h0M179.5 1043.7h0M177.6 988.7h0M182.2 1034.1h0M218.5 971.5h0M198.3 1021.9h0M197.3 962.2h0M174.5 1045.4h0M162.5 1003.5h0M168.3 1029.8h0M222.4 942.6h0M206 993.8h0M172.9 1017.5h0M174.4 1022.7h0M137.3 1035.7h0M194.9 983h0M149.1 1023.3h0M201.8 1014.2h0M161.7 1036.3h0M196.9 1011.9h0M224.2 949.5h0M150.4 1022.2h0M166.9 1014.7h0M192.7 990.1h0M200.4 1006h0M204.6 976.3h0M156.3 1036.8h0M222.3 939.9h0M153.3 1021.7h0M210.8 967.8h0M182.3 976.9h0M172.7 1042.9h0M191.6 1016.2h0M200.7 1005.8h0M206.1 1006h0M186.1 971.8h0M223.6 961.3h0M164.2 1011.4h0M215.8 974.4h0M171.1 994.5h0M213.6 991.9h0M222.6 969.4h0M184.1 1027.7h0M148.8 1039.5h0M176.9 1019.7h0M171.7 1037.9h0M162.9 1001.7h0M209.2 990.8h0M165.6 1021.4h0M170.8 1018.7h0M191.5 1010.5h0M177.3 987.9h0M147.7 1018h0M174.4 983.5h0M194.3 999.1h0M222.7 972.2h0M158.7 1010.4h0M189.5 998.7h0M220.5 969.9h0M230.8 956.8h0M222.4 951.3h0M216.2 940.1h0M218.2 980.9h0M212.9 984.2h0M186.2 970.4h0M167.7 1017.2h0M189.8 968.1h0M181.4 1002.8h0M182.5 1009.1h0M217.8 951.4h0M211.3 977.3h0M147.8 1021.4h0M160.4 1025.5h0M171.2 1017.4h0M184.6 1001.2h0M185.7 1031.6h0M207.1 976.4h0M170.2 988h0M156.3 1030.7h0M218.2 967.6h0M189.4 1005.4h0M160.3 998.2h0M159.3 1052.2h0M225.7 940.1h0M156.8 1049.6h0M190.1 991.5h0M164.1 1015.5h0M151.4 1039.3h0M177.5 1014.3h0M186.3 1024.1h0M211.6 986.9h0M146.4 1016.6h0M223.7 938.6h0M201.5 1017.8h0M204.6 954.3h0M181.7 1029h0M195.1 968.9h0M140.5 1028.2h0M170.6 1030.7h0M166.3 1004h0M209 965.3h0M149.6 1037.2h0M176.3 1013.1h0M227.4 961.9h0M142.5 1034.7h0M157.5 1006.6h0M161.6 1046.5h0M200.6 957.2h0M217.9 945.2h0M157.4 1044.3h0M225.8 944.9h0M205.8 991.3h0M195.8 1010.2h0M175.3 1007.8h0M155.9 1047.2h0M193.4 964.7h0M191.3 1008.3h0M161.7 1058.6h0M152.2 1056.2h0M155.9 1035.6h0M144 1048.7h0M172.4 989.6h0M174.4 1000.4h0M202 1017.1h0M182.9 1032.9h0M206.4 997.8h0M204.9 994.8h0M196.8 975.2h0M208.2 983h0M203.5 966.8h0M183.8 1021.8h0M186.3 1032.5h0M176.9 1016.9h0M194.2 1024.4h0M180.1 1037.1h0M179.4 1044.4h0M178.9 1045h0M208.4 945.6h0M206.2 977.9h0M203.4 963.7h0M222.4 934.5h0M227.7 936h0M210.5 961.6h0M174.1 982.3h0M178.6 998.6h0M167.9 988.4h0M167.2 1026h0M176 998.9h0M171.7 996.8h0M169.3 1032.5h0M212 996h0M184.1 992.7h0M182.6 982.7h0M169.9 1027.2h0M216.1 946.9h0M185.9 1002.7h0M173.6 992.1h0M175.2 1006.8h0M187.4 968.8h0M187.3 1018.2h0M145.3 1025.7h0M206.5 967.5h0M164.9 1024.4h0M206.7 1000.9h0M188.8 975.3h0M214.4 964.2h0M208.5 1003.2h0M149 1047h0M202.1 998.7h0M189.6 999.8h0M164.3 1062.3h0M157 1057h0M225.8 964.2h0M221.9 951h0M224.4 967.6h0M154.2 1025.1h0M195.2 984.1h0M189.7 983.1h0M186.8 1037h0M220.1 965.9h0M163.2 995.2h0M153.2 1031.1h0M201.3 1003.1h0M175.3 981h0M183.4 974.2h0M205.2 966.9h0M179.2 1000h0M213.4 969.1h0M162.8 1038.3h0M218.2 939.7h0M205 969.8h0M218.6 983.5h0M213.8 939.9h0M162.3 1007.4h0M203.3 985.7h0M202.7 1011.7h0M213.7 945.3h0M159.4 1045.2h0M163.3 1016.6h0M193 1023.9h0" stroke="#ec1c24" stroke-width="2.6" stroke-linecap="round"/>
<path d="M295.1 883.4h0M221.6 1042.4h0M241 928.6h0M235.5 939.7h0M229.9 956.3h0M206.3 1024.3h0M204.9 1032.7h0M186.9 1043.8h0M167.4 1063.2h0M163.3 1060.4h0M153.6 1057.7h0M138.3 1041h0" stroke="#ec1c24" stroke-width="2.8" stroke-linecap="round"/>
<path d="M177.2 893.9h0M180.6 891.1h0M182.7 895.2h0M160.5 906.3h0M166 907.7h0M170.2 911.9h0M163.3 913.3h0M159.1 921.6h0M146.6 932.7h0M143.8 936.9h0M141.1 941h0M138.3 938.3h0M134.1 939.7h0M130 939.7h0M132.7 943.8h0M130 949.4h0M127.2 954.9h0M124.4 956.3h0M121.6 963.3h0M116.1 964h0M100.8 952.8h0M105 975.1h0M207.7 861.2h0" stroke="#3a3aa0" stroke-width="2.8" stroke-linecap="round"/>
<line x1="57.8" y1="1074.3" x2="259.7" y2="842.5" stroke="#111" stroke-width="2" stroke-dasharray="9 6"/>
<line x1="68.9" y1="1059" x2="295.1" y2="863.3" stroke="#3f6fb5" stroke-width="1.6"/>
</g>
<rect x="58" y="832.5" width="248.6" height="245.5" fill="none" stroke="#000" stroke-width="2"/>
<line x1="55.5" y1="1071.3" x2="58" y2="1071.3" stroke="#000" stroke-width="2"/>
<text x="43.5" y="1074.3" text-anchor="end">0</text>
<line x1="55.5" y1="1027.9" x2="58" y2="1027.9" stroke="#000" stroke-width="2"/>
<text x="43.5" y="1030.9" text-anchor="end">1</text>
<line x1="55.5" y1="984.5" x2="58" y2="984.5" stroke="#000" stroke-width="2"/>
<text x="43.5" y="987.5" text-anchor="end">2</text>
<line x1="55.5" y1="941.1" x2="58" y2="941.1" stroke="#000" stroke-width="2"/>
<text x="43.5" y="944.1" text-anchor="end">3</text>
<line x1="55.5" y1="897.7" x2="58" y2="897.7" stroke="#000" stroke-width="2"/>
<text x="43.5" y="900.7" text-anchor="end">4</text>
<line x1="55.5" y1="854.3" x2="58" y2="854.3" stroke="#000" stroke-width="2"/>
<text x="43.5" y="857.3" text-anchor="end">5</text>
<line x1="61.4" y1="1078" x2="61.4" y2="1081" stroke="#000" stroke-width="2"/>
<text x="59.4" y="1103.7" text-anchor="middle">0</text>
<line x1="136.6" y1="1078" x2="136.6" y2="1081" stroke="#000" stroke-width="2"/>
<text x="136.6" y="1103.7" text-anchor="middle">2</text>
<line x1="212" y1="1078" x2="212" y2="1081" stroke="#000" stroke-width="2"/>
<text x="212" y="1103.7" text-anchor="middle">4</text>
<line x1="287.3" y1="1078" x2="287.3" y2="1081" stroke="#000" stroke-width="2"/>
<text x="287.3" y="1103.7" text-anchor="middle">6</text>
<text x="169.6" y="824.7" text-anchor="middle">SOX2 Cut&amp;Run</text>
<text x="77" y="883.8">R<tspan style="font-size:12.6px" dy="-7.8">2</tspan><tspan dy="7.8"> = 0.56</tspan></text>
<text x="23" y="955" text-anchor="middle" transform="rotate(-90 23 955)">MD_log<tspan style="font-size:12.6px" dy="4.1">2</tspan><tspan dy="-4.1">(FPKM)</tspan></text>
<text x="74.8" y="1125">MD(R42A)_log<tspan style="font-size:12.6px" dy="4.1">2</tspan><tspan dy="-4.1">(FPKM)</tspan></text>
<line x1="293.5" y1="1117.5" x2="860" y2="1117.5" stroke="#000" stroke-width="2"/>
<path d="M873.5 1117.5 852 1111 852 1124Z" fill="#111"/>
<g clip-path="url(#cl8)">
<path d="M356.9 1020.2 384.6 989.6 412.4 961.9 440.2 934.1 467.9 910.5 495.7 891.1 523.5 871.6 551.2 855 579 850.8 585.9 864.7 565.1 888.3 544.3 916.1 509.6 941 481.8 966 454 989.6 426.3 1016 405.5 1046.5 391.6 1052.1 370.8 1038.2Z" fill="#dcdddf" filter="url(#blur4)"/>
<path d="M389.1 987.5h0M376.6 999.8h0M446.5 941.4h0M478.2 937.3h0M374.2 1016.4h0M423.1 984.1h0M474.6 930.7h0M467.8 945.8h0M504.9 917.5h0M405.7 1012.5h0M390.3 1018h0M526.1 902.8h0M463.1 957h0M508.2 918.6h0M370.5 1015.5h0M444.6 994.7h0M404.9 991.4h0M557.9 895.4h0M519.8 882.3h0M375.5 1032.7h0M416.9 1021.8h0M495.9 940.7h0M452.7 968.8h0M418.5 995.1h0M514.5 917.7h0M427.3 994.4h0M392.8 1018.2h0M545.8 900.3h0M417.7 1005.3h0M362.8 1021.3h0M513 901.8h0M409.6 1028.5h0M542.1 862.8h0M379.5 1019.9h0M506.8 924.7h0M376.8 1005.8h0M404.1 981.8h0M467.6 948.6h0M405 1040.9h0M547.2 878.1h0M500.6 926h0M519.4 892.3h0M488.8 934.7h0M562.4 870.5h0M433 1009.2h0M388.3 1023.6h0M544.9 910.6h0M435.9 970.3h0M399.3 1047.9h0M549.7 893.9h0M377.6 1004.3h0M509.3 920.9h0M477.6 942.7h0M438.1 943.6h0M481.4 956.6h0M546.7 881h0M551.7 880.4h0M443.5 968h0M451.2 976h0M371.3 1021.4h0M407.2 1024h0M422.7 986.8h0M385.2 1037h0M539.4 876.6h0M489.3 923.1h0M434.1 1004h0M456.9 962.9h0M420.8 987.2h0M412.5 974.1h0M489.5 945.5h0M521 908.3h0M460.4 982.2h0M414.3 968.3h0M564.9 861.2h0M461.8 951.5h0M420.4 1004.6h0M401.8 1046.7h0M381.7 1011.4h0M460.7 931.4h0M427.2 973.1h0M396.4 1029.2h0M538.2 919.2h0M529.5 894.3h0M537.6 870.9h0M451.6 991.6h0M441.6 943.1h0M463.5 953.8h0M572.8 852h0M486.6 930.5h0M421 984.5h0M433.5 993.5h0M415.1 965.7h0M506.7 906.2h0M361.7 1022.3h0M414.3 980h0M440.6 954.3h0M376.5 1003.9h0M401.2 982.8h0M438.7 975.2h0M513 900.2h0M465.2 916.4h0M534.2 891.7h0M459 964.9h0M489.9 911.4h0M394.6 1031.8h0M391.3 1033.7h0M536.1 877.1h0M364.3 1021.1h0M519.7 923.2h0M567.3 881.9h0M404.5 996.1h0M454.4 980h0M484.7 952.4h0M399.9 1013.6h0M499.8 947.7h0M534 874.9h0M504.1 895.8h0M365.7 1013.4h0M455.5 957.7h0M484.1 954.8h0M546.4 869.6h0M398.7 983.4h0M446.5 965.3h0M526.3 882.8h0M461.4 945.6h0M404 1021.1h0M446 972.4h0M435.2 992.3h0M574.6 871.6h0M467.7 969.5h0M375.4 1026.1h0M458.4 964.2h0M468.1 933.7h0M553 862.3h0M520.7 913.1h0M555.5 892.7h0M416.4 1017.3h0M529.5 879.8h0M465 967.3h0M475.3 963.7h0M532.2 878.4h0M449.1 966.3h0M457.6 967.8h0M448.9 935.2h0M396.7 1034.4h0M511.4 916.6h0M384 1007.7h0M434.9 958.7h0M474.2 968.9h0M368.5 1013.7h0" stroke="#d0d0d0" stroke-width="2.4" stroke-linecap="round"/>
<path d="M384.6 1027.1 398.5 1003.5 412.4 986.9 426.3 973 440.2 959.1 454 945.2 467.9 932.7 481.8 921.6 495.7 909.1 509.6 898 523.5 888.3 537.3 878.6 551.2 868.9 565.1 861.9 572 871.6 562.3 892.5 544.3 917.5 537.3 920.2 509.6 941 481.8 966 454 989.6 426.3 1016 409.6 1035.4 398.5 1046.5 391.6 1045.2Z" fill="#c5c6c8" filter="url(#blur2)"/>
<path d="M516.1 932.9h0M448.3 948.3h0M538.4 881.3h0M553.7 907.8h0M553 870.4h0M393.8 1019.6h0M394.6 1006.1h0M517.7 939.6h0M464.2 979.4h0M396.7 1001.5h0M474.1 928.8h0M419.9 1019.7h0M511.6 935.7h0M521.9 892.2h0M483.5 968.3h0M534 925.7h0M511.8 941.2h0M431.4 968.7h0M471.4 929.6h0M442.3 959.6h0M419.5 1022.9h0M535.8 922.3h0M425.7 979.4h0M505.5 899.6h0M426 978.8h0M402.5 1036.5h0M566.7 875.2h0M405.2 1000.9h0M397 1043.9h0M536.3 924.3h0M403.2 998.5h0M513.8 896.2h0M437.8 958.4h0M436.7 960.7h0M397.7 1003.8h0M417.3 1023.7h0M533.3 877.1h0M562 869h0M431.4 1001.7h0M552.7 867.3h0M404.9 988.6h0M402.2 996.8h0M427.3 966.7h0M435.1 1014.1h0M480.9 920.3h0M556.9 876.1h0M565 865.3h0M570.8 871.3h0M493.6 914.8h0M388.5 1019.1h0M552.8 901.1h0M485.8 961.4h0M562.4 894.4h0M394 1045.2h0M397.5 1006h0M460.5 934.7h0M556.9 902.6h0M443.7 999.5h0M557.9 866.5h0M514.5 932.2h0M439.7 996.6h0M451.3 994.9h0M511.9 939.7h0M574.9 871.4h0M484 917.6h0M448.6 986.1h0M464 978h0M565.7 888.1h0M392.2 1047.5h0M394.3 1043.5h0M392.4 1044.5h0M454.1 945.6h0M397.7 1003.2h0M530.5 932.5h0M429.5 1012.4h0M518.2 934.8h0M425.1 1012.8h0M572 869.6h0M547.1 916.3h0M389.8 1046.3h0M404.4 993.8h0M450.4 992.4h0M431.1 1014.6h0M510.9 943.8h0M391.2 1045.1h0M456.2 986.3h0M428.3 968.6h0M554.6 868.1h0M399 993.8h0M384.8 1023.3h0M561.8 899.1h0M463.4 938.2h0M479.9 926.7h0M390.4 1041.3h0M547.6 902.7h0M400 1046.2h0M411.5 1030.8h0M483.7 915.2h0M521 886.4h0M447.7 950h0M553.8 908.9h0M394 1015.6h0M565.8 882.9h0M497.3 907.7h0M503.3 944.4h0M472.7 932.2h0M407.4 993.6h0M414.7 988.1h0M519.9 898.4h0M546 874.1h0M459 983.8h0M544.9 875.2h0M532.2 926.5h0M502.9 901.4h0M516.1 892h0M496.5 951.7h0M420 1023.1h0M481.3 922.2h0M483.5 913.4h0M559.7 862.6h0M397.8 1045.6h0M490.8 913.4h0M407.6 1038h0M427.2 1017.5h0M482.4 958.1h0M489.4 916.1h0M433.7 967h0M500.7 910.6h0M439.5 956.2h0M554.4 905h0M403.8 992h0M411.8 1028.1h0M485.1 969.5h0M470.6 970.7h0M435 1011.9h0M427.5 1015h0M447.3 989.5h0M452.5 946.3h0M540.1 922.6h0M565.6 877.4h0M434.2 956.8h0M424.2 1020.6h0M388.4 1018.9h0M410.6 989.4h0M413.6 1031h0M472.1 926.3h0M396.1 1002.5h0M516.8 894.5h0M423.4 1015.8h0M461.4 977.8h0M447.6 993.1h0M469.1 974.2h0M549.9 866.8h0M499 948.7h0M402.1 1042.2h0M474.8 970.7h0M545.5 871.7h0M450.4 943.1h0M384.3 1042.1h0M488.2 951.1h0M456 993h0M485.3 922.2h0M557.8 865.1h0M482.5 964.6h0M432.7 1009.6h0M435.9 962.8h0M462.5 981.7h0M453 943h0M418.2 983.2h0M524.2 888.8h0M499.1 950.5h0M569.8 872.8h0M421.8 976.4h0M483.8 966.3h0M386.9 1030.9h0M467.7 975.8h0M494.8 956.8h0M422.5 1025.4h0M525.9 893.4h0M454.9 941.2h0M472.9 928.6h0M538.8 879.8h0M419.9 1022.8h0M518.9 927.5h0M403.2 1039.3h0M420.7 1016.7h0M561.9 883.5h0M402 993.2h0M396.7 1003.9h0M525.1 923h0M435.9 1011.2h0M423.9 1022h0M387 1033h0M440.2 955.4h0M536.6 916.9h0M409.2 1041h0M453.8 942.3h0M470.5 928.8h0M442.2 955.7h0M388.4 1019.5h0" stroke="#c5c6c8" stroke-width="2.4" stroke-linecap="round"/>
<path d="M405.5 1052.1 415.2 1035.4 429.1 1021.6 442.9 1010.5 456.8 996.6 470.7 985.5 484.6 973 498.5 961.9 512.4 949.4 523.5 938.3 530.4 935.5 540.1 941 534.6 954.9 526.2 968.8 515.1 982.7 502.6 996.6 488.8 1010.5 474.9 1021.6 461 1031.3 447.1 1041 433.2 1047.9 419.3 1054.9 409.6 1056.3Z" fill="#ec1c24" filter="url(#blur2)"/>
<path d="M513.5 981.5h0M508.7 966.6h0M463.2 1027.6h0M475.2 1006.2h0M461.6 1019.4h0M515.3 959.1h0M496.6 971.3h0M513.3 958.6h0M511.2 983.3h0M522.6 958.4h0M453.3 1021.3h0M476.6 984.1h0M492.7 977.3h0M470.6 1018h0M456.3 1033h0M460.6 994h0M531.1 954.1h0M522 947.8h0M426.7 1046.6h0M532 936.7h0M507.1 954.2h0M414.2 1043.9h0M511.6 980.7h0M480.8 990.9h0M448.4 1009.8h0M519.3 968.1h0M499 970.6h0M502.7 969.3h0M465.4 993.1h0M418.1 1049.2h0M499.1 968.2h0M470.5 1017.3h0M486.5 999.4h0M486.8 987.4h0M527.2 942.5h0M485.8 1002.7h0M535.7 950.6h0M475.9 1020.1h0M475.3 1013h0M497.3 983.9h0M421.9 1042.4h0M490 993.3h0M507.6 956.9h0M467.8 1009.9h0M477.4 1012.8h0M526.1 952.9h0M415.2 1043.3h0M516.8 945.7h0M475.1 997.6h0M527 941.4h0M477.5 1013.9h0M436.2 1027.2h0M431.6 1042h0M481.8 990.4h0M436.4 1029.6h0M420.9 1047.8h0M416.5 1042.9h0M489.7 980.9h0M500.6 980h0M459.1 1020.6h0M432.3 1038.7h0M523.2 959h0M481.3 999.4h0M462.5 1019.8h0M446.3 1030.4h0M469 990.4h0M417.2 1046.6h0M528.8 944.5h0M452.4 1007.9h0M520.7 973.3h0M510.8 955.2h0M511.7 967.8h0M450.6 1031.2h0M437.8 1029.5h0M443.6 1025h0M453.4 1029.8h0M508.5 980.1h0M502.5 968.3h0M490.6 973.5h0M489.6 1003.3h0M514.5 952.9h0M481.8 989.5h0M437.7 1042.4h0M527.9 952.6h0M470.4 1012.4h0M471.2 1002.5h0M537.8 946.4h0M507.9 981.2h0M528.1 963.4h0M490.1 993.4h0M434.9 1025.9h0M504.8 957.1h0M449 1032.4h0M507.2 959.4h0M516.7 964.2h0M431 1048.1h0M425.1 1051.1h0M481.4 1001.8h0M495.4 1003.1h0M437.4 1045.2h0M460.5 994.2h0M519.8 954.7h0M490.2 987.8h0M486.8 982.6h0M446.7 1040.1h0M455.7 1021.9h0M525.7 969.3h0M473.3 986.9h0M443.3 1012.4h0M498.8 968.3h0M524.9 954.9h0M505.7 958h0M482.9 1003.6h0M487.2 980.1h0M451.2 1020.3h0M464 1010.8h0M496.2 994h0M450.7 1023.8h0M450.3 1026.2h0M496.1 984.3h0M498.5 983h0M515 949.6h0M465.1 994.3h0M454.1 1004h0M495.3 991.9h0M428.3 1040.5h0M474.4 1012.9h0M497.1 964.6h0M423.6 1051.2h0M528.6 943.5h0M444.7 1015.3h0M451 1036.1h0M449.6 1018.1h0M528.2 948.1h0M416.7 1045.1h0M528.3 961.4h0M425.4 1047.5h0M444.8 1034.3h0M485.9 983.2h0M487.6 1008.8h0M431.9 1031.3h0M431.9 1024.2h0M530 948h0M483.4 1006h0M508.6 973.3h0M495.4 992.4h0M438.8 1040.7h0M493.2 995.9h0M525.2 954.2h0M431.9 1028.7h0M478.7 1002.9h0M500.3 994.6h0M492 978.6h0M421.7 1050.9h0M515.5 955.4h0M535.7 948.8h0M435.7 1041.3h0M520.3 955.6h0M466.5 1014.6h0M453.6 1034.9h0" stroke="#ec1c24" stroke-width="2.6" stroke-linecap="round"/>
<path d="M473.9 1030.9h0M409.7 1049.2h0M426.7 1026.1h0M462.6 1033.9h0M469.5 1039.7h0M467 992.1h0M495.3 974.2h0M506.9 984.4h0M474.4 1010.1h0M509.6 998.8h0M443.1 1015.5h0M523.9 938h0M506.8 975.4h0M434.4 1056.1h0M468.9 1050.4h0M423.5 1034.1h0M471.2 1005.6h0M513.2 970.5h0M416.8 1045.8h0M453.9 1031h0M448.7 1006.5h0M534.3 965.5h0M514.1 981.5h0M472.5 1036.4h0M514 974.7h0M426.8 1069.5h0M510.2 968.6h0M408.3 1052.9h0M433.5 1043.7h0M504.9 1012.9h0M508.7 965.5h0M507.1 1006.3h0M455.7 995.2h0M540.3 931.1h0M499.8 959.3h0M524.7 970.7h0M440.6 1062.2h0M464.4 1036.2h0M452.3 1060.2h0M476.3 984h0M439.7 1044.2h0M425.6 1046.9h0M498.5 961.7h0M459 1059.2h0M426.9 1032h0M477.3 1020.4h0M543.9 943.8h0M543 942.9h0M540.6 927.8h0M451.4 1002.8h0M532.3 950.5h0M483.6 1013.1h0M415.4 1047.6h0M492.5 967h0M415.6 1067.6h0M429.6 1058.6h0M489.1 989.9h0M476.8 981.3h0M470.2 1006.2h0M464.1 1001.8h0M515.1 970.1h0M494.2 989.7h0M509.7 959.2h0M495.7 979.1h0M491.9 993.9h0M462 1011.1h0M514.7 954.9h0M442.1 1018.2h0M463.1 1042.2h0M494.4 1004h0M420.3 1059.7h0M468.4 1034.3h0M546.2 952.8h0M471.3 987.1h0M477.3 987h0M417.8 1051.5h0M473.7 1013.1h0M410.9 1047h0M452.4 1046.7h0M406.9 1051.1h0M492.1 985.3h0M471.8 1015h0M437.5 1036.8h0M438.1 1026.4h0M457.4 1015.5h0M431.5 1050h0M472 1017.5h0M481.7 1033.7h0M467.1 1048.5h0M418.2 1050.1h0M493.9 985.6h0M473.5 1025.4h0M454.3 999.7h0M541.6 925.9h0M442 1029.6h0M487.3 1011.4h0M500.6 1003.7h0M473.2 1041.7h0M459.3 994.2h0M449.5 1039h0M453.8 1025.9h0M524.6 948.5h0M444.1 1041.4h0M508.6 978.6h0M548.4 941h0M470.8 1019.9h0M461.1 1003.9h0M446.3 1006.1h0M511.4 968.4h0M515.6 987.1h0M422.6 1045.7h0M455.8 1059.2h0M541.8 963.2h0M519.2 963.3h0M429.5 1024.2h0M450 1045.8h0M474.1 983.7h0M513.7 994.3h0M499.1 980.9h0M434.4 1052.6h0M480.4 1016h0M505 982.4h0M495.2 987.8h0M537.9 963h0M489.1 1018.9h0M434.4 1026.1h0M531.3 960.4h0M512.1 950.2h0M500.4 979.3h0M504.6 993.3h0M516.7 973.5h0M452.4 1004.6h0M490.7 964h0M438.4 1056.3h0M507.1 973h0M496.9 1019.5h0M523 949h0M507 994.4h0M536.4 962.4h0M474 1014.5h0M533.6 970.8h0M411.5 1060.8h0M445.1 1059.5h0M420.2 1037.2h0M486 981.3h0M547.9 946.8h0M511.8 982.1h0M492.9 987.8h0M462.1 1043.8h0M509.9 964.7h0M453 1047.5h0M540.4 949h0M454.4 1064.9h0M438 1026.9h0M454.5 1028.8h0M412.3 1053.3h0M449.5 1036.7h0M537.8 947.9h0M540.4 962.2h0M443.7 1025.2h0M503.8 1007.4h0M552.2 944.9h0M423.9 1037.6h0M493.3 995.7h0M499.1 988.1h0M469.5 993h0M519.3 947.1h0M523.2 942h0M449.6 1003.3h0M478.1 1008.1h0M486.4 1029h0M501.5 966.6h0M465.2 1008h0M467 1047.6h0M476.9 1001.2h0M444.2 1028.6h0M455.2 1027.1h0M476.9 988.9h0M497.5 1013.2h0M500.4 1010.3h0M483.5 1027.9h0M468.4 983.1h0M455.6 1025.9h0M460.8 1020.8h0M542.9 961.5h0M453.1 1041.1h0M439.4 1056.4h0M422 1039.5h0M513.3 965.8h0M554.5 935.5h0M518.4 967.4h0M453.1 1012.9h0M417.6 1059.6h0M478 1008h0M480.8 995.8h0M493.3 990.4h0M499.3 958.6h0M545 947.8h0M453.7 1056.9h0M436.4 1063.4h0M436.5 1032h0M476.7 977.4h0M492.6 1026.9h0M505.5 964.5h0M409.8 1048.8h0M539.1 933.3h0M443.2 1016.2h0M429.1 1048.4h0M555.4 928.9h0M440.9 1019.9h0M495.5 993.6h0M474 1018.2h0M466.8 1032.2h0M488.5 978.3h0M511.4 966h0M506.2 958.8h0M475.2 1022.9h0M488.8 983.5h0M491.1 969.2h0M426.4 1029.1h0M449.7 1050.4h0M515.6 994.2h0M490 991.1h0M423 1029.5h0M460.5 996.2h0M535 938.7h0M497.8 1002.8h0M454.7 1022.7h0M409.5 1060.7h0M413.8 1061.7h0M436.9 1027h0M477.2 1037.2h0M450 1042.5h0M449 1038.9h0M421.7 1041.7h0M530.6 973.8h0M504.6 1013.5h0M439 1037.6h0M519.6 973.4h0M446.1 1011.9h0M465.4 987h0M487.7 1006.5h0M469.6 1020.3h0M453.7 997h0M456.9 997.5h0M450.4 1034.1h0M510.9 960.9h0M535.2 961.4h0M431.8 1052.7h0M449.6 1050.4h0M488.6 969.3h0M433.5 1067.9h0M462.6 1048.8h0M461.7 1046h0M539.8 965.4h0M448.5 1043.4h0M519.3 974.9h0M446 1064.7h0M444.3 1062.1h0M445.8 1018.3h0M455.6 1011.9h0M433.3 1027.3h0M454.3 1011.7h0M486 1032.2h0M446.7 1065.2h0M484.8 1015.4h0M472.3 1023.1h0M449.5 1036.6h0M514.1 987.1h0M529.9 957h0M428 1063.2h0M428.1 1040.5h0M423.8 1044.2h0M461.1 1003.3h0M464.6 1040.3h0M522.6 960.1h0M517.1 973h0M480.2 1036.1h0M522.4 959.6h0M527.3 975h0M472.8 1046.4h0M548.9 931.1h0M488.9 1022.7h0M530 943.8h0M460.9 1000.3h0M480.6 988.9h0M534.5 961.4h0M482.2 1018h0M483.7 975.1h0M427.3 1037.1h0M506.6 960.1h0M494.9 968.8h0M478.4 991.1h0M530.5 954h0M465.9 1024.6h0M414.1 1054h0M481.3 1012.7h0M466.1 1052.7h0M426.1 1061.7h0M497 960.9h0M466.3 1023.5h0M530.4 971.2h0M450 1061.9h0M423.6 1047.2h0M450.5 1063.7h0M449.8 1050.6h0M539.5 947.1h0M494.5 1019.6h0M424.7 1047.4h0M483.9 1018.1h0M477.7 1033.6h0M533.6 951.1h0M490.2 964.8h0M445.4 1027.5h0M407.7 1050.5h0M474.9 1020.4h0M452.1 1058h0M475.5 1003.4h0M446.4 1035.2h0M433.5 1051.6h0" stroke="#ec1c24" stroke-width="2.6" stroke-linecap="round"/>
<path d="M576.2 905h0M573.4 905.7h0M566.5 917.5h0M562.3 909.1h0M554 960.5h0M545.7 964.6h0M524.8 1017.4h0M509.6 1022.9h0M487.4 1049.3h0M473.5 1052.1h0M454 1070.1h0M434.6 1070.1h0M424.9 1068.8h0" stroke="#ec1c24" stroke-width="2.8" stroke-linecap="round"/>
<line x1="345.8" y1="1074.3" x2="579" y2="835.6" stroke="#111" stroke-width="2" stroke-dasharray="9 6"/>
<line x1="357.6" y1="1068.1" x2="583.8" y2="886.2" stroke="#3f6fb5" stroke-width="1.6"/>
</g>
<rect x="346" y="834.9" width="249" height="245.7" fill="none" stroke="#000" stroke-width="2"/>
<line x1="344" y1="843.7" x2="346" y2="843.7" stroke="#000" stroke-width="2"/>
<text x="336.3" y="847.5" text-anchor="end">6</text>
<line x1="344" y1="922.2" x2="346" y2="922.2" stroke="#000" stroke-width="2"/>
<text x="336.3" y="926" text-anchor="end">4</text>
<line x1="344" y1="1001.1" x2="346" y2="1001.1" stroke="#000" stroke-width="2"/>
<text x="336.3" y="1004" text-anchor="end">2</text>
<line x1="344" y1="1078.3" x2="346" y2="1078.3" stroke="#000" stroke-width="2"/>
<text x="336.3" y="1077" text-anchor="end">0</text>
<line x1="348.4" y1="1080.6" x2="348.4" y2="1083" stroke="#000" stroke-width="2"/>
<text x="350.4" y="1106" text-anchor="middle">0</text>
<line x1="417.6" y1="1080.6" x2="417.6" y2="1083" stroke="#000" stroke-width="2"/>
<text x="417.6" y="1106" text-anchor="middle">2</text>
<line x1="494.8" y1="1080.6" x2="494.8" y2="1083" stroke="#000" stroke-width="2"/>
<text x="494.8" y="1106" text-anchor="middle">4</text>
<line x1="572.3" y1="1080.6" x2="572.3" y2="1083" stroke="#000" stroke-width="2"/>
<text x="572.3" y="1106" text-anchor="middle">6</text>
<text x="463.4" y="826.8" text-anchor="middle">ESRRB Cut&amp;Run</text>
<text x="370.4" y="883.3">R<tspan style="font-size:12.6px" dy="-7.8">2</tspan><tspan dy="7.8"> = 0.69</tspan></text>
<g clip-path="url(#cl9)">
<path d="M648.3 1038.2 667.8 1010.5 695.5 982.7 723.3 954.9 751 927.2 778.8 903.6 806.6 884.1 834.3 875.8 862.1 880 856.5 896.6 834.3 920.2 806.6 950.8 778.8 982.7 751 1017.4 730.2 1052.1 709.4 1059 681.6 1057.7 656.7 1052.1Z" fill="#dcdddf" filter="url(#blur4)"/>
<path d="M826.6 917.8h0M725.5 1035.9h0M718.6 979.6h0M786.3 956.6h0M707.9 976.6h0M815.5 922.1h0M652.8 1041.7h0M710.2 975.2h0M772.1 980h0M723.7 1026h0M761 919h0M700.6 1018.4h0M691.2 999.1h0M712 1047.2h0M809.3 915.4h0M789.7 900.5h0M748.5 998.2h0M838.9 909.7h0M699.1 1044.8h0M757.7 961.6h0M820 897.3h0M663 1043.3h0M672.8 1045.6h0M727.2 966.4h0M701.7 1016.2h0M701.2 996.7h0M688.9 1028.5h0M691.1 1001.9h0M759.9 925.5h0M792.7 965.6h0M816.3 939.6h0M755.5 1009.3h0M796.8 928.8h0M811.9 906.3h0M723.3 1002.8h0M682.5 1049.5h0M749.9 973h0M732.5 1003.1h0M690 1054.4h0M798.1 916.6h0M682.9 1033.4h0M702.2 1051.1h0M837 884.1h0M803.6 937.6h0M757.7 958.3h0M661.4 1039.4h0M820.6 889.2h0M730.5 1020.8h0M848.8 883.3h0M724 1002.5h0M660.7 1050.7h0M694.8 1045.3h0M722.4 1001.2h0M828.4 900.8h0M807 924.1h0M663.3 1033.3h0M657.6 1049.9h0M678 1034.7h0M688.1 1013.1h0M703.4 1012.3h0M782.6 933.7h0M728.9 1031.4h0M760.1 934.2h0M748.2 1011.7h0M748 993.8h0M837.2 913h0M841.9 887.7h0M776.5 984.1h0M662.4 1045.6h0M711.5 1039.1h0M670.1 1052.7h0M785.3 926.1h0M755.5 936.9h0M717.9 1011.7h0M750.9 958.9h0M726.9 985.3h0M723.9 1008h0M757.9 970.6h0M667.2 1011.8h0M830.5 923.6h0M712.6 993.7h0M827.3 921.8h0M759.3 939.7h0M729.6 1004.2h0M773.7 988h0M791 905.3h0M807.9 914.3h0M771.8 966.9h0M772.3 979.3h0M658 1032h0M690.7 1055.5h0M671.9 1013.8h0M741.5 978.4h0M800.3 903.2h0M731.4 997.4h0M693.9 1024.2h0M789.4 968.9h0M739.5 968.5h0M715.6 1010.1h0M725.6 977.7h0M829.6 896.8h0M740.1 1021.7h0M708.1 1026.6h0M672.7 1019.7h0M765.4 985.6h0M750.3 979h0M845.1 888.4h0M742.4 959.5h0M759.4 976h0M736.5 973.4h0M737.3 962.2h0M716.8 1032.6h0M793.4 953.1h0M828.1 885.1h0M770.5 966.8h0M772.5 955.1h0M751.9 981.5h0M700.1 981.2h0M834.5 914.6h0M754.3 1006.8h0M751.9 987h0M752.8 943.4h0M746.3 984.1h0M699.8 1028.3h0M809.2 919.2h0M803.7 895.6h0M811.4 935h0M748.5 1013.2h0M738.3 1017.6h0M680.9 1038.4h0M743.1 995.5h0M761 991.2h0M766 969.9h0M778.8 916.5h0M719.8 1014.2h0M701.1 1001.1h0M742.8 974.5h0M715 1042.3h0M729.9 1050.3h0M800.1 933.6h0M677.5 1036.7h0M727.6 950.8h0M774.3 986h0M697.6 981.3h0M785.5 934.4h0M684.5 1023.4h0M708.1 990h0M724.5 975.9h0M707.1 994.9h0M792.7 901.8h0" stroke="#d0d0d0" stroke-width="2.4" stroke-linecap="round"/>
<path d="M653.9 1038.2 667.8 1021.6 681.6 1006.3 692.7 992.4 705.2 979.9 717.7 967.4 731.6 952.2 745.5 938.3 760.8 924.4 776 911.9 792.7 899.4 810.7 888.3 828.8 881.4 845.4 885.5 856.5 888.3 848.2 899.4 834.3 913.3 820.5 927.2 806.6 942.4 792.7 957.7 778.8 974.4 764.9 989.6 751 1007.7 737.2 1027.1 723.3 1042.4 709.4 1046.5 695.5 1047.9 681.6 1046.5 667.8 1041Z" fill="#c5c6c8" filter="url(#blur2)"/>
<path d="M696.2 1049.5h0M673 1044.6h0M688.7 993.8h0M822.6 917.3h0M658.2 1037.7h0M800.5 952.3h0M740.3 1025.6h0M773.9 915.9h0M679.2 1007.4h0M801.2 898.3h0M754.6 1008.3h0M830.7 885.2h0M760.7 928.4h0M716.2 1049.7h0M713.5 1047h0M656.1 1039.7h0M678.8 1010.7h0M857.5 886.1h0M729.2 1036.3h0M730.9 1042.5h0M833.2 880.5h0M701.8 978.2h0M679.4 1009.2h0M823.8 915.2h0M782.8 908.9h0M855.1 892.6h0M821.2 884.5h0M667.2 1037.3h0M734.7 950.7h0M826.5 919.5h0M693.9 989.8h0M815.5 883.2h0M801.3 949.1h0M809.9 889.1h0M711.3 1047.6h0M801.9 896.5h0M736.2 943.1h0M816.4 930.1h0M677.4 1039.6h0M661.8 1037.6h0M758 998.8h0M845.9 904.2h0M659.8 1039.5h0M804.7 891.6h0M760.9 926.9h0M699.3 984.4h0M680.9 1004.9h0M716.9 1041.2h0M822.2 918.8h0M687.2 1050.2h0M694.8 984.3h0M836.2 901.9h0M693.6 993.4h0M804.7 935.1h0M855.3 887.8h0M810.8 943.3h0M707.6 982.1h0M789.1 961.5h0M735.4 952.3h0M815.3 927.3h0M830.4 881.1h0M707.8 973.8h0M783.6 972.6h0M708.9 1051h0M797 894.4h0M702.9 979.7h0M785.4 906.2h0M773.3 920.6h0M814 930.8h0M667.6 1019.9h0M724.8 1035h0M729.7 1032.1h0M756.8 1002.3h0M698.4 1043.2h0M730.7 1039.7h0M821.7 922.2h0M855 892.5h0M681.2 1048h0M723.6 961h0M794.6 956.4h0M667 1043.2h0M671.9 1036.8h0M764 993.9h0M728.9 1042h0M660.7 1046.6h0M686.9 998.6h0M754.3 1013.1h0M696.2 1047.9h0M759.5 1002.1h0M773.5 978.3h0M680.1 1000.3h0M689 997.5h0M681 1003.8h0M781.8 903.6h0M755 998.9h0M775.9 976.4h0M817.6 936.1h0M735.2 1039.6h0M701.4 985.5h0M816.6 929.2h0M746.3 1020.9h0M749.9 1007.9h0M789.6 960.7h0M825.1 915.4h0M779.5 901.7h0M835.1 916.1h0M749.1 1006.5h0M713.8 1048.5h0M673 1045.7h0M722.9 962.7h0M752.6 1008.6h0M736.9 1032.2h0M732.7 1033.9h0M669 1041.9h0M772 908.7h0M818.8 886.5h0M786.7 967.9h0M670 1044.1h0M830.8 881.2h0M729.8 1033.5h0M688.6 1050.1h0M759.4 994h0M780.9 975.3h0M839.5 885.9h0M777.3 977.8h0M761.4 991.3h0M836.3 905.8h0M766.7 986.7h0M837.8 886.9h0M676.4 1050.3h0M760.1 922.1h0M673.5 1011.6h0M778.4 914h0M848.1 889.6h0M722.4 966.8h0M676.8 1048.4h0M775.9 982.2h0M698.9 984h0M691.8 995.9h0M826.5 925.7h0M777.6 973.7h0M673 1042.5h0M846.8 900h0M769.7 985.2h0M800.5 896.1h0M675.3 1038.8h0M828.2 915.9h0M663.4 1024.1h0M802.6 899.6h0M745.7 938h0M701.7 1043.6h0M695.4 1049.6h0M793.5 900.7h0M834.1 887.5h0M847.4 893.7h0M833.1 919.1h0M860.2 887h0M721.1 969.4h0M753.6 935h0M724.4 1041.6h0M830.8 922.5h0M655.3 1041.7h0M669.9 1041.6h0M812.8 893.3h0M652.5 1034.7h0M768 978.7h0M692.3 1002.2h0M825.2 916.2h0M729 954h0M696.3 982.9h0M822.3 888.9h0M761 931.7h0M819 880.3h0M668.9 1042.7h0M848 905.4h0M784.7 907.2h0M669.7 1018.6h0M787.4 903.9h0M814.2 888.9h0M730.5 955.4h0M716.4 970.1h0M725 1045.4h0M698.4 988.6h0M674.6 1042.9h0M783.6 966.5h0M729.6 948.6h0M742.8 941.8h0M739.9 952h0M735.2 1028.1h0M710.5 971.1h0M775.9 913h0M745.4 939.8h0M721.5 951.8h0M826.2 882.4h0M676.3 1013h0M849.4 883.8h0M753.6 1007.2h0M845.8 884.5h0M730.6 1033.3h0M673.7 1044.3h0" stroke="#c5c6c8" stroke-width="2.4" stroke-linecap="round"/>
<path d="M878.1 914h0M817.7 995.2h0M784.4 979.9h0M770.5 998.7h0M773.3 1033.4h0M744.1 1044.5h0M728.8 1069.5h0M712.2 1067.4h0M705.2 1049.3h0M762.2 1010.5h0M756.6 1003.5h0M726.1 1041h0M717.7 1046.5h0M712.2 1052.1h0M720.5 1052.1h0M723.3 1059h0M731.6 1052.1h0" stroke="#ec1c24" stroke-width="2.8" stroke-linecap="round"/>
<path d="M715 975.8 723.3 963.3 737.2 949.4 751 935.5 764.9 923 778.8 911.9 787.1 904.3 792 900.1 790.6 913.3 778.8 924.4 764.9 936.2 751 948 737.2 959.8 726.1 970.2 719.1 979.2Z" fill="#3a3aa0" fill-opacity="0.5" filter="url(#blur2)"/>
<path d="M757 934.6h0M729 966.3h0M748.1 944h0M731.3 956.7h0M788.7 909.6h0M766.8 933.4h0M779.6 917.1h0M761.1 938.9h0M763 927.4h0M749 944.1h0M747.8 946.6h0M781.7 910.9h0M764.8 924.2h0M720 968.6h0M768 928.1h0M745.1 945.8h0M730.1 960.8h0M789 912.6h0M759.8 933.6h0M733.9 955.7h0M768.7 928.1h0M774.3 917.7h0M767.2 932.8h0M779.2 922.8h0M744.7 944.2h0M737.6 954.2h0M769.9 921h0M750.6 937.8h0M750 945h0M781.9 914.8h0M749.9 945.7h0M776.9 913.6h0M738.2 952.2h0M754.9 937.2h0M777.4 916.2h0M749.1 947.4h0M765.5 925.2h0M759.7 934.1h0M743.3 953.9h0M776.6 921.4h0M775.7 926.2h0M746.1 941.9h0M734.4 953.1h0M749.9 947.3h0M754.1 944.2h0M753.4 944.5h0M756.4 942.2h0M719.1 969.7h0M763 936.9h0M748.3 943.1h0M746.8 949.9h0M771.6 922.3h0M724.5 967.7h0M757.3 937.7h0M719.2 975.9h0M732.7 961.2h0M741.8 953.1h0M768 921h0M774.1 920.5h0M726.6 963.8h0M725.2 969h0M757.4 932.2h0M780.7 916.5h0M748.3 940h0M778.6 921.1h0M723.1 963.9h0M728.7 964.2h0M787.8 914.3h0M767.4 933.4h0M767.3 929.9h0M756.5 933.1h0M721.8 968.2h0M748.5 947.4h0M780.3 913.9h0M763.4 925.8h0M736.5 956.5h0M790 905.2h0M754.3 939.7h0M740.8 955.7h0M758.6 929.5h0M756.3 937.6h0M781.7 918h0M774.8 925.8h0M749.8 948.8h0M728.6 965.9h0M776.8 916.7h0M785.3 911.5h0M768.3 923h0M787 913.3h0M725 964.2h0M746.9 950.1h0M751.9 946h0M717.7 978h0M764 929h0M764.6 928.6h0M731.7 963.4h0M728.8 963.3h0M787.1 905h0M779.5 919.2h0M723.1 970.5h0M753.8 935.9h0M750.2 946.4h0M741.2 953.9h0M755.5 942.8h0M752.6 934.2h0M774.4 926.1h0M767.6 927.7h0M783.1 910.4h0M782.1 913.8h0M782.5 910.3h0M766.8 928.7h0M738.5 954h0M772.8 926h0M775 917.6h0M765.7 924.5h0M757.5 929.7h0M722.5 973.6h0M739.1 950.3h0M763.2 937.4h0M746.7 948.7h0M766.9 930.4h0M739.6 948.1h0M783.6 914.2h0M762.6 928.5h0M721.2 972.2h0M779.2 912.6h0M723.6 970.3h0M755.7 938.3h0M766.6 928.7h0M735 954h0M784.2 913h0M786.1 906h0M752 937.1h0M767.9 922.3h0M757.6 940.6h0M780.6 915.2h0M771.6 930.3h0M764.5 934.8h0M736.4 957.1h0M767.8 923.3h0M753.6 944.3h0M773.8 918.6h0M741.5 954.4h0M786.7 916.4h0M732 963.6h0M718.7 978.9h0M789.8 907.5h0M735.4 956.3h0M779.9 915.6h0M788.6 915.1h0M791 902.7h0M784.9 918.5h0M750.2 936.5h0M717 972.8h0M760.3 934.3h0M768.4 928.3h0M774 927h0M733.1 954.9h0M749.1 948.7h0M763.4 926.5h0M724.8 968.5h0M748.9 948.7h0M749.8 938.4h0M728.3 961.3h0M729.7 962.1h0M759.4 928.7h0M738.8 951.1h0M736.1 958.9h0M756.5 941.8h0M776.3 915.6h0M749.2 946.3h0M752.6 942.7h0M725.1 961.8h0M736.8 957.7h0M779.4 923.1h0M722.7 972.4h0M726.7 968.4h0M770.9 920.7h0M764.5 926.8h0M726.3 968.7h0M768.7 928.3h0M732.2 960.4h0M774.3 922.7h0M735.6 957.9h0M722.3 972.2h0M724.5 963.3h0M775.8 925.4h0M718.9 977.2h0M790.3 904.4h0M741.1 949h0M751.1 937.2h0M760.6 933.1h0M780.6 920.1h0M787.6 911.3h0M769.9 922.2h0M721 976h0M782.4 910.8h0M791.3 903.3h0M749.7 944.4h0M757.8 934.6h0M743.4 953.2h0M786 911.4h0M780 913.2h0M757.3 933.6h0M779.4 911.5h0M738.8 951h0M784.5 914.7h0M750 941.2h0M755 939.5h0M768.8 926.9h0M747.7 943.4h0M776 924.4h0M746.2 941.7h0M762.5 936h0M778.5 924.3h0M725.8 963.3h0M737.6 956.2h0M771.2 922.2h0M772.7 920.1h0M723.9 964.2h0M773.6 923.8h0M763.9 936.4h0M778.3 917.7h0M734.3 959.2h0M755.5 944.2h0M770.5 922.5h0M761.8 929.4h0M787.9 910.8h0M732.1 961.1h0M744.2 947.7h0M767.1 921.3h0M751.8 937.9h0M732.3 963h0M756.4 938.7h0M774.8 915.1h0M780.5 914h0M765.2 934.6h0M753.6 933.3h0M776.2 924.3h0M759.7 929.4h0M764.1 936.2h0M772.3 924.6h0M777 916.6h0M759.8 931.4h0M727.1 968.9h0M759.8 928h0M725 970.9h0M776.5 914.2h0M718.4 974.7h0M769.1 928h0M753.8 938.7h0M787.2 905.5h0M744.2 949.6h0M767.2 925.9h0M740.1 948.5h0M744 950.8h0M785.7 916.1h0M763 928.1h0M758.7 931.3h0M748.3 949.4h0" stroke="#3a3aa0" stroke-width="2.6" stroke-linecap="round"/>
<path d="M775.1 913.4h0M734.2 955.4h0M734.2 945.2h0M734 957.6h0M709.1 979h0M714.3 975.8h0M708 971.4h0M777.1 913.5h0M749.9 934.9h0M770.9 919.4h0M685.8 1000.8h0M778.8 914.3h0M746.9 931h0M753.4 943.4h0M744.6 948.7h0M744.7 933.9h0M723.8 959.1h0M745.2 940.5h0M766.9 931h0M743.2 944.2h0M721.2 957.3h0M673.7 1003h0M779.7 915h0M723.4 960.4h0M775.2 922h0M734.1 942.8h0M771.8 917.8h0M735.8 950.3h0M743.8 947.7h0M761.7 928.3h0M757 922.8h0M759.1 938.7h0M762.9 924.5h0M706.2 974.7h0M753.4 941.3h0M693.2 993.4h0M737.5 953.4h0M761.7 932.1h0M784.3 914.4h0M746.2 939h0M717.2 964.2h0M762.2 917.8h0M767.2 914.9h0M746.4 944.9h0M698.1 983.8h0M695.4 986h0M706.1 972.4h0M781.9 907.3h0M724.9 953.6h0M773.2 923.7h0M764.1 931.4h0M706.9 979.5h0M722.1 961.6h0M701.4 985.4h0M758.4 927.9h0M683.3 995.6h0M777.1 918.8h0M691.2 989.2h0M753.7 937.8h0M754.5 929.9h0M765 915.2h0M716.7 965.3h0M769.8 911.3h0M732.5 953.1h0M753.7 937.7h0M715.7 966.8h0M729.6 963.7h0M732 945.2h0M718.3 960.3h0M678.9 1001.2h0" stroke="#3a3aa0" stroke-width="2.6" stroke-linecap="round"/>
<path d="M802.4 886.9h0M785.1 893.9h0M792 898.7h0M764.9 899.4h0M754.5 907h0M696.9 961.9h0M695.5 971.6h0M701.1 972.3h0M690 984.1h0M681.6 996.6h0M676.1 1006.3h0M669.2 1009.1h0M660.8 1011.8h0M664.3 1015.3h0" stroke="#3a3aa0" stroke-width="2.8" stroke-linecap="round"/>
<line x1="644.2" y1="1077.1" x2="885.7" y2="835.6" stroke="#111" stroke-width="2" stroke-dasharray="9 6"/>
<line x1="652.5" y1="1067.4" x2="878.8" y2="847.4" stroke="#3f6fb5" stroke-width="1.6"/>
</g>
<rect x="641.1" y="834.9" width="247.5" height="245.8" fill="none" stroke="#000" stroke-width="2"/>
<path d="M712.1 1044.2h0M731 1045.3h0M757.7 1018.2h0M715.4 1043.5h0M729.4 1031.6h0M743.1 1029.8h0M735.8 1027h0M716.5 1049.4h0M744.6 1015.8h0M724.6 1042h0M752.5 1010.4h0M754.7 1008.1h0M744.5 1036.1h0M742 1037h0M739.6 1031.3h0M728.5 1035.4h0M725.7 1054.5h0M733.9 1034.1h0M715.7 1046.1h0M718.7 1056.8h0M732.7 1038.9h0M726 1033.1h0M742.5 1038.3h0M712.6 1042.3h0M722 1045.1h0M722.2 1040.5h0M745.2 1036.9h0M729.2 1042.3h0M728.3 1055h0M725.5 1037.3h0M717.6 1050.5h0M716.5 1046.9h0M730.2 1033.7h0M735.9 1028.9h0M706.9 1051.4h0M719 1046.4h0M726.7 1046.5h0M751.3 1027.9h0M731.2 1030.7h0M726.3 1038.7h0M731.1 1030.1h0M735.1 1045.8h0M738.5 1042h0M722.6 1049.2h0M724.6 1044.9h0M758 1018h0M743.8 1020.7h0M710.5 1049.9h0M724.1 1053.4h0M722.9 1036.9h0M716.9 1056h0M755.4 1009.1h0M724.9 1046.9h0M730.7 1032.5h0M737.1 1031.6h0M713.7 1051.2h0M724.4 1031.5h0M733.4 1036.9h0M756.1 1010.1h0M741.6 1035.4h0M737.1 1021.6h0M734.8 1030.5h0M734.1 1039.2h0M740.4 1039.3h0M747 1022.7h0M740 1039.6h0M711 1050.4h0M718.6 1056.8h0M752.2 1028.9h0M725.6 1041.1h0M707.3 1051.8h0M732.4 1034.9h0M745.8 1035.7h0M753 1012.3h0M730.3 1052.8h0M743.7 1036.4h0M751.4 1021.2h0M741.9 1016.9h0M710.8 1044.7h0M728.1 1041.9h0M727.4 1040.7h0M730.3 1042h0M726.9 1038.3h0M721.7 1053.2h0M716.9 1049.1h0M726.4 1044.6h0M730.5 1034.3h0M729.9 1051.4h0M749.5 1025.5h0M760.4 1010.1h0" stroke="#ec1c24" stroke-width="2.6" stroke-linecap="round"/>
<line x1="639" y1="878.5" x2="641" y2="878.5" stroke="#000" stroke-width="2"/>
<text x="630" y="881.5" text-anchor="end">6</text>
<line x1="639" y1="944.6" x2="641" y2="944.6" stroke="#000" stroke-width="2"/>
<text x="630" y="947.6" text-anchor="end">4</text>
<line x1="639" y1="1011" x2="641" y2="1011" stroke="#000" stroke-width="2"/>
<text x="630" y="1014" text-anchor="end">2</text>
<line x1="639" y1="1077.8" x2="641" y2="1077.8" stroke="#000" stroke-width="2"/>
<text x="630" y="1080.8" text-anchor="end">0</text>
<line x1="642.4" y1="1080.7" x2="642.4" y2="1083" stroke="#000" stroke-width="2"/>
<text x="645.4" y="1104" text-anchor="middle">0</text>
<line x1="708.9" y1="1080.7" x2="708.9" y2="1083" stroke="#000" stroke-width="2"/>
<text x="708.9" y="1104" text-anchor="middle">2</text>
<line x1="776.1" y1="1080.7" x2="776.1" y2="1083" stroke="#000" stroke-width="2"/>
<text x="776.1" y="1104" text-anchor="middle">4</text>
<line x1="843.1" y1="1080.7" x2="843.1" y2="1083" stroke="#000" stroke-width="2"/>
<text x="843.1" y="1104" text-anchor="middle">6</text>
<text x="765.4" y="826.8" text-anchor="middle">EZH2 Cut&amp;Run</text>
<text x="663" y="886">R<tspan style="font-size:12.6px" dy="-7.8">2</tspan><tspan dy="7.8"> = 0.82</tspan></text>
<text x="914" y="440" style="font-size:31px;font-weight:bold;">e</text>
<text x="955.9" y="461.9">mitotic release at <tspan style="fill:#d0202a;stroke:#d0202a">90min</tspan></text>
<line x1="949.5" y1="470" x2="1188.4" y2="470" stroke="#222" stroke-width="2"/>
<text x="879" y="497"><tspan font-style="italic">Smarce1</tspan>-MD(R42A)</text>
<text x="1073.2" y="497"><tspan font-style="italic">Smarce1</tspan>-MD30</text>
<line x1="949" y1="510.5" x2="1065.7" y2="510.5" stroke="#222" stroke-width="2"/>
<line x1="1072" y1="510.5" x2="1188.4" y2="510.5" stroke="#222" stroke-width="2"/>
<text x="979.3" y="528.4" text-anchor="middle">A04</text>
<text x="1038" y="528.4" text-anchor="middle">A10</text>
<text x="1099.8" y="528.4" text-anchor="middle">09</text>
<text x="1157.9" y="528.4" text-anchor="middle">30</text>
<text x="1196.5" y="525.9">(kDa)</text>
<g clip-path="url(#cbl0)">
<rect x="948.8" y="536" width="239.6" height="51.6" fill="#aaaaaa"/>
<rect x="948.8" y="536" width="239.6" height="51.6" fill="url(#smgr)"/>
<ellipse cx="948.8" cy="587.6" rx="45" ry="30" fill="url(#smcorner)"/>
<rect x="963" y="560.5" width="22" height="6" rx="3" fill="#0a0a0a" filter="url(#bb1)"/>
<path d="M966 560 L990 560.5 L1000 562.5 L1000 564.5 L990 566.5 L966 567 Z" fill="#111" filter="url(#bb1)"/>
<path d="M1024 560.5 L1040 560.5 L1062 562.5 L1062 564.5 L1040 567 L1024 567 Z" fill="#111" filter="url(#bb1)"/>
</g>
<rect x="948.8" y="536" width="239.6" height="51.6" fill="none" stroke="#111" stroke-width="2"/>
<text x="937" y="567.4" text-anchor="end">SMARCE1</text>
<g clip-path="url(#cbl1)">
<rect x="948.8" y="592.8" width="239.6" height="67.2" fill="#dadada"/>
<rect x="959" y="619" width="41.6" height="10" rx="5" fill="#0a0a0a" filter="url(#bb1)"/>
<rect x="1016.6" y="619.2" width="41.4" height="9.5" rx="4.8" fill="#0a0a0a" filter="url(#bb1)"/>
<rect x="1073" y="619.5" width="41.8" height="8" rx="4" fill="#0a0a0a" filter="url(#bb1)"/>
<rect x="1130.8" y="619" width="42.6" height="8" rx="4" fill="#0a0a0a" filter="url(#bb1)"/>
</g>
<rect x="948.8" y="592.8" width="239.6" height="67.2" fill="none" stroke="#111" stroke-width="2"/>
<text x="937" y="630" text-anchor="end">GAPDH</text>
<g clip-path="url(#cbl2)">
<rect x="948.8" y="665.3" width="239.6" height="50.2" fill="#d0d0d0"/>
<rect x="961" y="681.5" width="44" height="22" rx="6" fill="#0a0a0a" filter="url(#bb1)"/>
<rect x="1020" y="681.5" width="41" height="22" rx="6" fill="#0a0a0a" filter="url(#bb1)"/>
<rect x="1077.4" y="681.5" width="41.6" height="19" rx="6" fill="#0a0a0a" filter="url(#bb1)"/>
<rect x="1135" y="681.5" width="45" height="19" rx="6" fill="#0a0a0a" filter="url(#bb1)"/>
</g>
<rect x="948.8" y="665.3" width="239.6" height="50.2" fill="none" stroke="#111" stroke-width="2"/>
<text x="937" y="700.5" text-anchor="end">EZH2</text>
<g clip-path="url(#cbl3)">
<rect x="948.8" y="721.2" width="239.6" height="50.3" fill="#d6d6d6"/>
<rect x="958" y="740.2" width="44.8" height="12.5" rx="6.2" fill="#0a0a0a" filter="url(#bb1)"/>
<rect x="1017" y="740.8" width="45" height="11.5" rx="5.8" fill="#0a0a0a" filter="url(#bb1)"/>
<rect x="1077" y="740.8" width="41" height="10.5" rx="5.2" fill="#0a0a0a" filter="url(#bb1)"/>
<path d="M1137 741 L1175 739.5 L1176 744 L1145 752 L1137 751 Z" fill="#0a0a0a" filter="url(#bb1)"/>
</g>
<rect x="948.8" y="721.2" width="239.6" height="50.3" fill="none" stroke="#111" stroke-width="2"/>
<text x="937" y="755.3" text-anchor="end">SOX2</text>
<g clip-path="url(#cbl4)">
<rect x="948.8" y="777.3" width="239.6" height="50.1" fill="#a9a9a9"/>
<rect x="961" y="777.3" width="39" height="50.1" fill="#b6b6b6" filter="url(#bb2)"/>
<rect x="1020" y="777.3" width="40" height="50.1" fill="#b6b6b6" filter="url(#bb2)"/>
<rect x="1077" y="777.3" width="40" height="50.1" fill="#b6b6b6" filter="url(#bb2)"/>
<rect x="1134" y="777.3" width="43" height="50.1" fill="#b6b6b6" filter="url(#bb2)"/>
<rect x="961" y="800" width="39" height="9" rx="4.5" fill="#222" fill-opacity="0.9" filter="url(#bb1)"/>
<rect x="1020" y="800.5" width="40" height="9" rx="4.5" fill="#1a1a1a" fill-opacity="0.95" filter="url(#bb1)"/>
<rect x="1077" y="800.2" width="40" height="9.5" rx="4.8" fill="#111" filter="url(#bb1)"/>
<rect x="1134" y="800.2" width="43" height="9.5" rx="4.8" fill="#151515" filter="url(#bb1)"/>
</g>
<rect x="948.8" y="777.3" width="239.6" height="50.1" fill="none" stroke="#111" stroke-width="2"/>
<text x="937" y="812.5" text-anchor="end">ESRRB</text>
<g clip-path="url(#cbl5)">
<rect x="948.8" y="833.4" width="239.6" height="42" fill="#d2d2d2"/>
<path d="M963 850 Q1020 846 1070 848 Q1125 846 1178 845 L1179 857 Q1125 858 1070 859 Q1020 860 963 861 Z" fill="#333" filter="url(#bb2)"/>
<rect x="963" y="850" width="215" height="9" rx="4.5" fill="#3a3a3a" fill-opacity="0.9" filter="url(#bb2)"/>
</g>
<rect x="948.8" y="833.4" width="239.6" height="42" fill="none" stroke="#111" stroke-width="2"/>
<text x="937" y="859.4" text-anchor="end">H3</text>
<line x1="1188.4" y1="584.5" x2="1198.4" y2="584.5" stroke="#000" stroke-width="2"/>
<text x="1198.4" y="591">50</text>
<line x1="1188.4" y1="615.2" x2="1198.4" y2="615.2" stroke="#000" stroke-width="2"/>
<text x="1198.4" y="622.7">37</text>
<line x1="1188.4" y1="700.5" x2="1198.4" y2="700.5" stroke="#000" stroke-width="2"/>
<text x="1198.4" y="708">75</text>
<line x1="1188.4" y1="750.6" x2="1198.4" y2="750.6" stroke="#000" stroke-width="2"/>
<text x="1198.4" y="758">37</text>
<line x1="1188.4" y1="800.8" x2="1198.4" y2="800.8" stroke="#000" stroke-width="2"/>
<text x="1198.4" y="808.7">50</text>
<line x1="1188.4" y1="863.7" x2="1198.4" y2="863.7" stroke="#000" stroke-width="2"/>
<text x="1198.4" y="871.2">15</text>
<text x="1253.5" y="441.6" style="font-size:31px;font-weight:bold;">f</text>
<g clip-path="url(#cl10)">
<line x1="1294" y1="784.5" x2="1532.6" y2="545.8" stroke="#bdbdbd" stroke-width="2"/>
<path d="M1371.7 657 1377.1 650.2 1385.3 643.4 1393.4 635.3 1397.5 628.5 1405.7 629.8 1408.4 633.9 1396.2 646.2 1385.3 659.8 1379.8 667.9 1374.4 669.3Z" fill="#1a1aff"/>
<path d="M1395.2 639.3h0M1369.2 663.6h0M1382.2 647.9h0M1399.7 627.7h0M1393.9 651.8h0M1381.4 648.3h0M1380.6 667.4h0M1375.9 652.5h0M1377.5 662.9h0M1384.5 645h0M1402.5 637.1h0M1399.4 629.2h0M1402.3 640.4h0M1395.9 648.6h0" stroke="#1a1aff" stroke-width="5" stroke-linecap="round" stroke-opacity="0.5"/>
<path d="M1390.3 629.3h0M1388.6 650.1h0M1398.5 631.5h0M1380.7 644h0M1390.5 659h0M1403.2 643.5h0M1375.5 666.7h0M1390.1 641.9h0M1403.7 628.5h0M1382.3 646h0M1399 640.3h0M1393.9 629.9h0M1391.8 637.6h0M1372.3 650.5h0" stroke="#1a1aff" stroke-width="5" stroke-linecap="round" stroke-opacity="0.5"/>
<path d="M1375.6 671.3h0M1395.8 640h0M1389.6 644.7h0M1377.5 656.2h0M1409.7 625.7h0M1375 655.3h0M1380.4 648.8h0M1369.5 657.2h0M1395.5 649.7h0M1381.3 645.2h0M1409.9 633.2h0M1378.5 662.8h0M1400.2 637.3h0M1401 625.2h0" stroke="#1a1aff" stroke-width="5" stroke-linecap="round" stroke-opacity="0.5"/>
<path d="M1387.4 647.1h0M1387.6 661h0M1405.3 634.7h0M1384.1 658.1h0M1376.8 664.7h0M1374.4 664.9h0M1403 638h0M1393.8 631.9h0M1370.2 671.4h0M1381.4 651.4h0M1390.2 642.1h0M1378.7 670.3h0M1393.8 636h0M1390.8 651.8h0" stroke="#1a1aff" stroke-width="5" stroke-linecap="round" stroke-opacity="0.5"/>
<path d="M1395.5 642.4h0M1391.2 637.8h0M1402 638.3h0M1403.6 644.4h0M1406.2 635.2h0M1379.7 654.2h0M1378.1 651.3h0M1379.2 660.2h0M1393.5 627.3h0M1377.4 665.9h0M1398.6 625.8h0M1398.6 630.1h0M1406.1 633.5h0M1394.2 649.8h0" stroke="#1a1aff" stroke-width="5" stroke-linecap="round" stroke-opacity="0.5"/>
<path d="M1393.1 651.4h0M1401.6 642.5h0M1373.8 651.1h0M1372 661.4h0M1388 657.9h0M1383.2 664.6h0M1377.9 649.3h0M1404.3 634h0M1395 652.6h0M1385.1 642.4h0M1376.7 667h0M1383.8 662.4h0M1372.3 659.8h0M1403.3 644.4h0" stroke="#1a1aff" stroke-width="5" stroke-linecap="round" stroke-opacity="0.5"/>
<path d="M1408.8 638.7h0M1387.2 642.6h0M1388.4 666h0M1405 627.1h0M1390.1 633.2h0M1402.2 624.3h0M1379.3 663h0M1395.8 649.1h0M1373.9 659.5h0M1371.3 667.7h0M1409.2 631.6h0M1391 657.4h0M1387 640.1h0" stroke="#1a1aff" stroke-width="5" stroke-linecap="round" stroke-opacity="0.5"/>
<path d="M1381.5 660.5h0M1376.3 664.9h0M1369.6 654.9h0M1381.6 652.4h0M1390.5 647.8h0M1381.9 667.6h0M1393.7 649.9h0M1384 665.5h0M1408.6 632.6h0M1400 635.4h0M1401.2 640.9h0M1398.8 628.8h0M1394.6 634.6h0" stroke="#1a1aff" stroke-width="5" stroke-linecap="round" stroke-opacity="0.5"/>
<path d="M1351.9 648.9h0M1371.7 642.1h0M1355.3 657h0M1360.1 667.9h0M1334.9 680.2h0M1302.9 687h0M1369.6 647.5h0M1385.3 639.3h0" stroke="#1a1aff" stroke-width="5" stroke-linecap="round" stroke-opacity="0.45"/>
<path d="M1364.2 646.8h0M1349.9 655.7h0M1358 661.1h0M1366.2 670.6h0M1354 681.5h0M1360.8 654.3h0M1378.5 646.2h0" stroke="#1a1aff" stroke-width="5" stroke-linecap="round" stroke-opacity="0.45"/>
<path d="M1409.8 703.3 1416.6 696.5 1426.1 689.7 1439.7 681.5 1450.6 670.6 1457.4 659.8 1462.8 653 1465.6 659.8 1460.1 669.3 1453.3 680.2 1446.5 689.7 1437 700.6 1426.1 710.1 1419.3 716.9 1409.8 716.9 1407 710.1Z" fill="#ff1a1a"/>
<path d="M1437.4 704.2h0M1439 700.6h0M1457.7 673h0M1421.6 709.3h0M1464.7 667.4h0M1430 707.8h0M1410.2 716.7h0M1411.9 709.1h0M1412.9 714.5h0M1444.8 692.6h0M1429.7 692.1h0M1433.6 702.6h0M1458.4 657.2h0M1448.9 679h0" stroke="#ff1a1a" stroke-width="5" stroke-linecap="round" stroke-opacity="0.5"/>
<path d="M1434.8 687.1h0M1417.2 714h0M1430.9 708.2h0M1420.2 693.3h0M1427.1 705.2h0M1444.3 695.4h0M1404.5 704.6h0M1434.2 711.7h0M1431.4 685.2h0M1406.3 706.9h0M1455.9 664.7h0M1410.9 712.3h0M1452.7 683.8h0M1419 695h0" stroke="#ff1a1a" stroke-width="5" stroke-linecap="round" stroke-opacity="0.5"/>
<path d="M1405.5 713.7h0M1423.6 713.2h0M1457.2 670.7h0M1441.8 680h0M1405.5 708.5h0M1430.7 682.5h0M1417.5 715.9h0M1436.5 713.1h0M1419.4 713.1h0M1452.8 679.8h0M1451.8 670.2h0M1432.6 705.8h0M1466.5 660.3h0M1429.3 713.8h0" stroke="#ff1a1a" stroke-width="5" stroke-linecap="round" stroke-opacity="0.5"/>
<path d="M1457.5 661.7h0M1422.1 712.9h0M1440.3 696.9h0M1443.7 681.3h0M1430.7 708.1h0M1422.1 707.1h0M1440 678.4h0M1415.5 717h0M1438.6 687.1h0M1415.2 698.5h0M1411.6 709.8h0M1450.5 661h0M1436.4 680h0M1469.4 659.1h0" stroke="#ff1a1a" stroke-width="5" stroke-linecap="round" stroke-opacity="0.5"/>
<path d="M1448.2 693.5h0M1439.1 695.3h0M1461.5 670.3h0M1440.4 686h0M1416.4 719.4h0M1415.8 715.8h0M1453.7 666.5h0M1425.6 704.3h0M1465 658.4h0M1413.6 703.2h0M1458.7 674.5h0M1460.5 645.9h0M1428.3 689.2h0M1426.9 718.2h0" stroke="#ff1a1a" stroke-width="5" stroke-linecap="round" stroke-opacity="0.5"/>
<path d="M1439.8 699.3h0M1449.9 686.2h0M1455 660.1h0M1460.6 675h0M1451.7 686.8h0M1436.3 681.3h0M1466 661.8h0M1415 694.5h0M1462.7 650.5h0M1448.4 671.9h0M1413.5 720.5h0M1459.9 657.5h0M1448.8 692.7h0M1465.1 658.8h0" stroke="#ff1a1a" stroke-width="5" stroke-linecap="round" stroke-opacity="0.5"/>
<path d="M1453.3 677.1h0M1440.4 674.5h0M1448.7 676.6h0M1427.5 685.3h0M1458.7 660.7h0M1452.3 687.3h0M1414.6 720.7h0M1438.6 702.6h0M1458.1 669.2h0M1409.6 719.6h0M1430.7 706.1h0M1454 678.6h0M1454.4 655.1h0" stroke="#ff1a1a" stroke-width="5" stroke-linecap="round" stroke-opacity="0.5"/>
<path d="M1443.1 686.3h0M1440.5 682.7h0M1463.6 648.5h0M1404.1 710.1h0M1445.9 690.9h0M1463 657.2h0M1410.5 709.2h0M1456.7 662.2h0M1415.3 695.6h0M1412 706h0M1429.6 700.4h0M1448.9 674.6h0M1439.3 699.2h0" stroke="#ff1a1a" stroke-width="5" stroke-linecap="round" stroke-opacity="0.5"/>
<path d="M1472.4 645.5h0M1451.9 687h0M1439.7 716.9h0M1412.5 721h0M1392.1 730.5h0M1434.3 716.9h0" stroke="#ff1a1a" stroke-width="5" stroke-linecap="round" stroke-opacity="0.45"/>
<path d="M1465.6 653h0M1443.8 703.3h0M1430.2 715.6h0M1403 722.4h0M1416.6 750.9h0M1420.6 714.2h0" stroke="#ff1a1a" stroke-width="5" stroke-linecap="round" stroke-opacity="0.45"/>
<path d="M1466.9 659.8h0M1437 708.8h0M1423.4 722.4h0M1401.6 730.5h0M1426.8 751.6h0M1428.8 703.3h0" stroke="#ff1a1a" stroke-width="5" stroke-linecap="round" stroke-opacity="0.45"/>
<path d="M1377.1 673.4 1382.5 659.8 1393.4 646.2 1407 628.5 1419.3 620.3 1430.2 610.8 1439.7 604 1453.3 597.2 1466.9 584.9 1480.5 582.2 1487.3 586.3 1490.1 597.2 1480.5 608 1476.4 618.9 1471 632.5 1464.2 646.2 1458.8 659.8 1450.6 670.6 1439.7 681.5 1426.1 689.7 1416.6 696.5 1409.8 703.3 1403 701.9 1394.8 693.8 1386.6 684.3 1379.8 677.5Z" fill="#000"/>
<path d="M1427.5 612.3h0M1380.7 684h0M1451.4 599.5h0M1433.5 607h0M1483.4 611.6h0M1452.6 662.7h0M1479.2 606.5h0M1432 617.2h0M1477.8 607.3h0M1428.5 689.9h0M1464.2 642.5h0M1408.2 700.9h0M1460.6 660.4h0M1453 662.6h0M1464.7 589.5h0M1448.9 664h0M1380.7 676.2h0M1377.8 658.5h0M1483.5 604.6h0M1488.3 588.1h0M1376.4 669.8h0M1398 698.6h0M1464.5 593.5h0M1441.5 604.6h0M1396.4 692h0M1383 660.1h0M1418.6 693.4h0M1378.6 665.5h0M1387.6 682.9h0M1459.4 654h0M1464.4 654.6h0M1467.2 640.5h0M1443.7 677.7h0" stroke="#000" stroke-width="5" stroke-linecap="round" stroke-opacity="0.45"/>
<path d="M1484.1 587.6h0M1427.2 693.1h0M1439.8 604.6h0M1414.5 697.6h0M1423.8 616h0M1381.9 677.4h0M1425 683.6h0M1466.1 629.2h0M1469.6 628.6h0M1480.7 585h0M1404.2 635.2h0M1479.1 608.4h0M1419.6 612.5h0M1423.1 610.5h0M1451 594.7h0M1457 648.8h0M1441 602.6h0M1467.1 644.9h0M1456.3 588.4h0M1450.5 607.4h0M1462.1 650.1h0M1424.4 620.2h0M1488.1 590.2h0M1376 674.6h0M1395.6 642.4h0M1431.4 607.6h0M1395.6 696.7h0M1401.9 696.5h0M1428 610.9h0M1452.4 595.3h0M1419.3 625.3h0M1489.3 590.2h0M1440.1 674.6h0" stroke="#000" stroke-width="5" stroke-linecap="round" stroke-opacity="0.45"/>
<path d="M1418.6 700.7h0M1490.5 591h0M1446.8 673.2h0M1388.1 684h0M1445.8 596.8h0M1432.9 680h0M1468.2 623.2h0M1459 659.3h0M1494.1 598.8h0M1445.3 602.9h0M1474.5 604.3h0M1409.7 699.3h0M1428.8 612.6h0M1389.6 646.1h0M1394.7 645.7h0M1449.2 673.4h0M1478.8 582.6h0M1408.8 627.3h0M1456.2 588.8h0M1430 610.2h0M1443.4 678.7h0M1485.7 582h0M1423.5 611.9h0M1471.8 586.1h0M1438 603.7h0M1396.7 696.2h0M1438.6 605.5h0M1466.5 585.6h0M1400.7 647.3h0M1379.2 676.8h0M1423.7 689.9h0M1431.8 686h0M1436.2 684.5h0" stroke="#000" stroke-width="5" stroke-linecap="round" stroke-opacity="0.45"/>
<path d="M1410.2 627.5h0M1412.7 699.5h0M1451.5 669.6h0M1425.4 604.9h0M1456.4 653.7h0M1457.4 598.2h0M1460.1 661.1h0M1446.3 602.9h0M1428.5 613.9h0M1440.8 684.9h0M1423.4 694.7h0M1462.6 597.7h0M1486.4 582.7h0M1381 673.4h0M1408 702.9h0M1466.9 630.2h0M1384.5 679.9h0M1408.1 702.2h0M1454.1 666.3h0M1486.6 596.2h0M1439.7 680.4h0M1469 584h0M1406.9 623.4h0M1408.8 629.3h0M1417.6 689.3h0M1400.5 632.6h0M1385.6 660.8h0M1390.8 688.3h0M1403.5 698.1h0M1483.1 619.9h0M1416.1 621.2h0M1435.8 684.6h0M1420.2 619h0" stroke="#000" stroke-width="5" stroke-linecap="round" stroke-opacity="0.45"/>
<path d="M1462.5 658.5h0M1451.5 672.1h0M1471.3 626.5h0M1461.6 648.3h0M1438.2 605.9h0M1421.1 690.4h0M1415.8 627.9h0M1473.8 632.9h0M1438 680.4h0M1408.3 629.8h0M1418.6 621.5h0M1412.4 619.5h0M1414.7 701.6h0M1446.7 669.6h0M1384.4 686.4h0M1448.6 601.3h0M1482.8 587h0M1479.6 605.1h0M1477.8 583.7h0M1474.5 628.7h0M1400 636.3h0M1481.2 606.7h0M1391 644.6h0M1457.9 596.4h0M1460.1 647.2h0M1456 670h0M1403.7 707.3h0M1449.6 673.9h0M1428.1 611.7h0M1411.5 631.7h0M1438.3 605.2h0M1403.5 638h0" stroke="#000" stroke-width="5" stroke-linecap="round" stroke-opacity="0.45"/>
<path d="M1420.4 704.1h0M1397.3 689.8h0M1401 694.9h0M1486.5 593.1h0M1381.7 662.8h0M1400.2 634.1h0M1492.7 597.5h0M1390.8 688.9h0M1478.2 606.2h0M1394.3 694.9h0M1485.4 615.1h0M1469.4 634.7h0M1415.5 695.3h0M1382.2 660h0M1440.3 685.6h0M1483 584.9h0M1386.6 684.3h0M1439.2 678.8h0M1488.4 581.8h0M1454.3 665.3h0M1377.9 662.3h0M1466.7 584h0M1468 588.4h0M1466 642.9h0M1409.6 697.7h0M1454 672.8h0M1468 587.2h0M1471.2 633.4h0M1430.1 613.1h0M1436.1 608.7h0M1477.8 629.8h0M1409.4 699.4h0" stroke="#000" stroke-width="5" stroke-linecap="round" stroke-opacity="0.45"/>
<path d="M1379.7 655h0M1442.2 682.5h0M1478.1 614.9h0M1387 685h0M1476.9 577h0M1383.3 665.3h0M1472.7 635.3h0M1488 597.9h0M1435.4 602.3h0M1457.4 594.8h0M1380.2 668.6h0M1461 662.1h0M1484.8 602.1h0M1395.9 648.3h0M1409.1 703.4h0M1437.3 601.7h0M1470.7 632.3h0M1469.8 626.2h0M1414.4 618.1h0M1475.7 587.7h0M1406.6 703.9h0M1472.1 636.1h0M1394.4 646.7h0M1464.6 655.3h0M1413 623.6h0M1438.5 685.9h0M1427.1 615.3h0M1399.2 635.9h0M1467.4 589.5h0M1484.8 600h0M1413.3 627.6h0M1439.4 605.7h0" stroke="#000" stroke-width="5" stroke-linecap="round" stroke-opacity="0.45"/>
<path d="M1437 678.5h0M1450.6 601.2h0M1404.1 702.3h0M1461.3 650.6h0M1409.7 629.7h0M1463.4 584.1h0M1458.1 597h0M1379.7 671.9h0M1408 632h0M1472 584.5h0M1414.6 703.3h0M1436 681.3h0M1399.5 692h0M1430 683.8h0M1407.2 628.7h0M1421.7 696.6h0M1473.9 578.6h0M1386.1 684.5h0M1431.4 610.6h0M1407 622.6h0M1471.7 634.3h0M1492.4 588.7h0M1382.8 677.6h0M1417 696.7h0M1378.3 678.9h0M1379.3 671.3h0M1468.4 585.5h0M1412.8 626.9h0M1394.7 695.6h0M1481.8 604.1h0M1383.8 658.9h0M1485.6 588.4h0" stroke="#000" stroke-width="5" stroke-linecap="round" stroke-opacity="0.45"/>
<path d="M1515.9 553.6h0M1514.6 565.9h0M1496.9 576.7h0M1456 599.9h0M1382.5 715.6h0M1371.7 667.9h0M1469.6 628.5h0M1390.7 689.7h0" stroke="#000" stroke-width="5" stroke-linecap="round" stroke-opacity="0.4"/>
<path d="M1505 555h0M1494.1 569.9h0M1503.7 576.7h0M1385.3 695.1h0M1393.4 719.6h0M1370.3 677.5h0M1484.6 589h0" stroke="#000" stroke-width="5" stroke-linecap="round" stroke-opacity="0.4"/>
<path d="M1502.3 559.1h0M1505 572.7h0M1495.5 595.8h0M1393.4 700.6h0M1398.9 716.9h0M1375.7 674.7h0M1488.7 580.8h0" stroke="#000" stroke-width="5" stroke-linecap="round" stroke-opacity="0.4"/>
<path d="M1507.7 564.5h0M1490.1 576.7h0M1471 584.9h0M1398.9 704.7h0M1396.2 684.3h0M1473.7 621.7h0M1405.7 696.5h0" stroke="#000" stroke-width="5" stroke-linecap="round" stroke-opacity="0.4"/>
<line x1="1371" y1="688.3" x2="1516.6" y2="586.3" stroke="#b8222a" stroke-width="1.6"/>
</g>
<rect x="1293" y="544.8" width="240.6" height="240.7" fill="none" stroke="#000" stroke-width="2"/>
<line x1="1286" y1="546.8" x2="1293" y2="546.8" stroke="#000" stroke-width="2"/>
<line x1="1286" y1="782.5" x2="1293" y2="782.5" stroke="#000" stroke-width="2"/>
<line x1="1295" y1="785.5" x2="1295" y2="791.5" stroke="#000" stroke-width="2"/>
<line x1="1531.6" y1="785.5" x2="1531.6" y2="791.5" stroke="#000" stroke-width="2"/>
<text x="1268" y="552" text-anchor="middle">6</text>
<text x="1268" y="788" text-anchor="middle">0</text>
<text x="1295.5" y="814" text-anchor="middle">0</text>
<text x="1531.5" y="814" text-anchor="middle">6</text>
<text x="1420" y="529.8" text-anchor="middle">SOX2 Cut&amp;Run</text>
<text x="1336.3" y="589.8">R<tspan style="font-size:12.6px" dy="-7.8">2</tspan><tspan dy="7.8"> = 0.57</tspan></text>
<text x="1257" y="668" text-anchor="middle" transform="rotate(-90 1257 668)">5-Ph-IAA_log2(FPKM)</text>
<text x="1312.3" y="836">DMSO_log2(FPKM)</text>
<line x1="1518" y1="830" x2="2085" y2="830" stroke="#000" stroke-width="2"/>
<path d="M2097.5 830 2076 823.5 2076 836.5Z" fill="#111"/>
<g clip-path="url(#cl11)">
<line x1="1582.6" y1="784.5" x2="1821.3" y2="545.8" stroke="#bdbdbd" stroke-width="2"/>
<path d="M1642 669.3 1646 657 1654.2 648.9 1665.1 639.3 1676 633.9 1686.9 627.1 1697.8 621.7 1708.6 616.2 1711.4 620.3 1697.8 632.5 1686.9 644.8 1673.3 658.4 1662.4 670.6 1651.5 677.5 1643.3 676.1Z" fill="#1a1aff"/>
<path d="M1644 653.2h0M1663 673.2h0M1706 617h0M1680.7 651.1h0M1668.3 638h0M1666.6 642.5h0M1690.5 636.1h0M1694.5 635h0M1670 661.7h0M1697.4 624.8h0M1645.2 660.5h0M1676.2 630.2h0M1690.8 622h0M1672.8 662.4h0" stroke="#1a1aff" stroke-width="5" stroke-linecap="round" stroke-opacity="0.5"/>
<path d="M1690.7 624.6h0M1683.2 642.6h0M1715.1 617.9h0M1674.6 625.6h0M1664.8 644.1h0M1659.8 639.4h0M1704.2 611.2h0M1698 630.6h0M1692.2 645.6h0M1684.1 629.6h0M1685.6 637.9h0M1648.1 654.1h0M1681.9 650h0M1688.4 643.3h0" stroke="#1a1aff" stroke-width="5" stroke-linecap="round" stroke-opacity="0.5"/>
<path d="M1689.2 626.8h0M1703.3 615.7h0M1654 646.5h0M1701.9 624.1h0M1680.2 653.9h0M1660.2 642.5h0M1644.1 668.6h0M1686.7 622.7h0M1703.3 617h0M1663.1 668.4h0M1652.2 675.3h0M1671.8 630.9h0M1657.6 642.6h0M1699.4 625.6h0" stroke="#1a1aff" stroke-width="5" stroke-linecap="round" stroke-opacity="0.5"/>
<path d="M1667.3 640.8h0M1685.4 624.3h0M1710.1 624.3h0M1646.2 662.9h0M1682.8 649.8h0M1707.5 623.5h0M1661 667.6h0M1673.8 632.8h0M1661.4 672.5h0M1636.5 674h0M1680.3 632.3h0M1639.6 669.7h0M1672.3 643h0M1685.9 630h0" stroke="#1a1aff" stroke-width="5" stroke-linecap="round" stroke-opacity="0.5"/>
<path d="M1694.4 636.4h0M1689.5 625.5h0M1709.2 622.5h0M1667.1 641.7h0M1651.1 674h0M1668.8 643.1h0M1670.3 635.7h0M1650.8 659.6h0M1701.6 626.4h0M1692.1 641.5h0M1675.1 643.3h0M1671.1 670.1h0M1665.2 666.8h0M1702.8 615.4h0" stroke="#1a1aff" stroke-width="5" stroke-linecap="round" stroke-opacity="0.5"/>
<path d="M1680.5 638h0M1683.2 630.3h0M1657.6 674.2h0M1669.9 660.5h0M1676.7 636.5h0M1653.7 675.7h0M1674.1 632.2h0M1687.3 646.3h0M1705.5 623.9h0M1684.3 630.2h0M1698.8 632.1h0M1643.8 660.2h0M1669 666.8h0M1653.7 658.5h0" stroke="#1a1aff" stroke-width="5" stroke-linecap="round" stroke-opacity="0.5"/>
<path d="M1681.9 658.6h0M1652.8 650.5h0M1662.9 643.8h0M1642.9 674.2h0M1649.6 672.8h0M1664.8 670.5h0M1695.8 636.4h0M1670 638.8h0M1661.6 672.6h0M1689.6 625.8h0M1661.1 668.4h0M1668.6 640.8h0M1665 638.3h0" stroke="#1a1aff" stroke-width="5" stroke-linecap="round" stroke-opacity="0.5"/>
<path d="M1681.1 645.4h0M1693.2 621.9h0M1674.3 630.4h0M1661.6 638.3h0M1658.9 671.6h0M1644 671.9h0M1668.3 669.4h0M1689.3 626.1h0M1680.4 627.7h0M1708.8 611h0M1679.5 631.5h0M1647.6 677.2h0M1642 664.1h0" stroke="#1a1aff" stroke-width="5" stroke-linecap="round" stroke-opacity="0.5"/>
<path d="M1651.5 636.6h0M1685.5 625.7h0M1634.5 658.4h0M1613.4 654.3h0M1608.6 670.6h0M1611.3 687.7h0M1632.4 687.7h0M1695 623h0" stroke="#1a1aff" stroke-width="5" stroke-linecap="round" stroke-opacity="0.45"/>
<path d="M1667.8 632.5h0M1632.4 650.2h0M1627.7 662.5h0M1615.4 658.4h0M1598.4 681.5h0M1628.4 682.2h0M1661 642.1h0M1705.9 616.2h0" stroke="#1a1aff" stroke-width="5" stroke-linecap="round" stroke-opacity="0.45"/>
<path d="M1693.7 707.4 1700.5 697.9 1714.1 687 1727.7 676.1 1744 662.5 1749.5 658.4 1752.2 662.5 1745.4 674.7 1739.9 687 1734.5 700.6 1725 710.1 1714.1 721 1704.6 725.1 1693.7 721 1689.6 714.2Z" fill="#ff1a1a"/>
<path d="M1737 691.7h0M1747.8 659.7h0M1730.6 705.2h0M1734.3 672.3h0M1721.8 676.5h0M1690.1 717.1h0M1741.2 666.5h0M1704.8 720.4h0M1742.7 669.7h0M1690.1 713.1h0M1752.3 671.6h0M1702.2 693.1h0M1698.1 699.1h0M1744.6 667.4h0" stroke="#ff1a1a" stroke-width="5" stroke-linecap="round" stroke-opacity="0.5"/>
<path d="M1727.5 705.4h0M1687.5 714.2h0M1732.9 674.1h0M1740.3 666.2h0M1719.5 671.8h0M1744 672.1h0M1732.1 672.4h0M1741 693.3h0M1730.3 706.4h0M1717 684.1h0M1710 722.3h0M1713 687.3h0M1736.1 703.5h0M1732.6 708h0" stroke="#ff1a1a" stroke-width="5" stroke-linecap="round" stroke-opacity="0.5"/>
<path d="M1719.7 686.4h0M1698 707h0M1712.4 723.6h0M1747.8 666.7h0M1740.5 677.9h0M1746.9 658.4h0M1709.1 720.1h0M1741.6 681.9h0M1719.4 689.1h0M1750.2 671.4h0M1726.9 705.3h0M1704.4 695.7h0M1731.7 699.2h0M1724.9 677.2h0" stroke="#ff1a1a" stroke-width="5" stroke-linecap="round" stroke-opacity="0.5"/>
<path d="M1749.3 658h0M1704.8 691.1h0M1702.2 688.9h0M1733.3 672.1h0M1743.7 686.7h0M1689.9 711h0M1750.8 663.5h0M1693.9 718.5h0M1717.3 720.8h0M1744.3 674.1h0M1703.8 724.9h0M1740.2 689.8h0M1718.3 687.3h0M1692.4 717.1h0" stroke="#ff1a1a" stroke-width="5" stroke-linecap="round" stroke-opacity="0.5"/>
<path d="M1743 685.7h0M1729.7 667.9h0M1734.7 673.6h0M1749.9 673.5h0M1698.3 694.5h0M1703.5 698h0M1693.2 703.4h0M1694.3 720.3h0M1692.2 708.9h0M1715.3 714.6h0M1731.8 699.2h0M1724.4 674.9h0M1694.3 709.5h0M1705.2 694.7h0" stroke="#ff1a1a" stroke-width="5" stroke-linecap="round" stroke-opacity="0.5"/>
<path d="M1705 726h0M1751.8 661h0M1742.5 671.7h0M1741.3 663.8h0M1748.7 658h0M1694.3 718.5h0M1746.9 660.5h0M1730.1 668.6h0M1715.4 714.9h0M1730.2 710.1h0M1728.2 678.2h0M1733.2 699.1h0M1736.8 669.7h0M1686.8 716h0" stroke="#ff1a1a" stroke-width="5" stroke-linecap="round" stroke-opacity="0.5"/>
<path d="M1742.3 676h0M1735.7 674.7h0M1737.8 689.8h0M1745.2 658.5h0M1748.6 669.7h0M1732.7 663.4h0M1709.1 688.1h0M1711.7 727.9h0M1697.7 703.7h0M1691.2 709.1h0M1694.1 715.7h0M1713.3 726.9h0M1707.7 730.2h0" stroke="#ff1a1a" stroke-width="5" stroke-linecap="round" stroke-opacity="0.5"/>
<path d="M1757 655.2h0M1746.1 676.3h0M1741.5 683.1h0M1733.9 674.9h0M1748.8 658h0M1728.6 678.6h0M1733.1 691.1h0M1722 721.7h0M1723.6 715.6h0M1711.4 725.4h0M1745 680.3h0M1692.7 724.4h0M1717.2 722.6h0" stroke="#ff1a1a" stroke-width="5" stroke-linecap="round" stroke-opacity="0.5"/>
<path d="M1756.3 650.2h0M1735.2 726.4h0M1725.7 737.3h0M1686.9 718.3h0M1716.8 729.2h0M1708.6 741.4h0M1712.1 763.2h0M1727.7 703.3h0M1719.5 716.9h0" stroke="#ff1a1a" stroke-width="5" stroke-linecap="round" stroke-opacity="0.45"/>
<path d="M1738.6 712.2h0M1741.3 736h0M1680.7 726.4h0M1705.9 729.2h0M1700.5 744.1h0M1700.5 760.5h0M1741.3 669.3h0M1746.8 676.1h0" stroke="#ff1a1a" stroke-width="5" stroke-linecap="round" stroke-opacity="0.45"/>
<path d="M1648.8 677.5 1662.4 669.3 1673.3 657 1686.9 643.4 1697.8 631.2 1708.6 619.6 1720.9 611.4 1734.5 603.3 1748.1 593.8 1761.7 584.2 1772.6 574.7 1784.9 569.3 1791 575.4 1783.5 587.6 1778.1 601.2 1769.9 616.2 1763.1 628.5 1759 643.4 1752.2 655.7 1745.4 662.5 1729.1 676.1 1715.5 687 1701.8 697.9 1695 707.4 1689.6 707.4 1685.5 697.9 1676 689.7 1662.4 685.6Z" fill="#000"/>
<path d="M1672.2 687.3h0M1697.8 709.8h0M1759.1 643.3h0M1733 671.8h0M1772.1 605.4h0M1665.2 686.2h0M1730.1 612.1h0M1670.4 654.5h0M1756.4 642h0M1692.6 707.1h0M1730.5 670.4h0M1779 597.1h0M1699 707.9h0M1781.5 569.9h0M1725.3 676.9h0M1653.5 680.5h0M1660.9 688.8h0M1783.5 580.5h0M1714.4 612.3h0M1659.4 674.4h0M1720.3 615.1h0M1744.6 599.7h0M1713.2 619.2h0M1789.2 569.6h0M1767.4 576.9h0M1671.4 663.8h0M1783.2 598.7h0M1761.6 626.4h0M1748.9 667h0M1746.6 671.5h0M1781.6 591.6h0M1776.9 573.5h0M1767 621.1h0" stroke="#000" stroke-width="5" stroke-linecap="round" stroke-opacity="0.45"/>
<path d="M1762.2 579.1h0M1680.3 648.3h0M1682 694.3h0M1721.4 613.3h0M1667.5 664.1h0M1773.3 614.3h0M1669.1 684.9h0M1786.5 593h0M1673.1 685.1h0M1646.4 677.7h0M1774.4 621.1h0M1727.7 672.8h0M1770.3 575.4h0M1750.3 596.6h0M1778.3 598.9h0M1788.6 572h0M1667.8 692.6h0M1776 603.6h0M1703.8 621.5h0M1779.5 596.5h0M1736.4 602.9h0M1652.2 677.3h0M1717 676.5h0M1716.1 685.8h0M1762.4 583.7h0M1772.3 605.6h0M1773.9 573.4h0M1673.5 665.1h0M1734.6 603h0M1751.4 593.3h0M1695.7 627.4h0M1766.7 610.6h0M1745 656.4h0" stroke="#000" stroke-width="5" stroke-linecap="round" stroke-opacity="0.45"/>
<path d="M1697.5 696.9h0M1766.1 615.8h0M1701.6 629.4h0M1756.9 646.6h0M1674 686h0M1756.6 638.3h0M1757.9 653.9h0M1772.7 610.6h0M1766.7 577.9h0M1758.6 645.9h0M1709.3 684.5h0M1729.8 610.9h0M1723.5 607.7h0M1704.6 627.3h0M1755.6 649.1h0M1705.4 622.1h0M1679.9 701.2h0M1753.3 588.4h0M1652.2 673.9h0M1671.4 656.2h0M1687.9 696.8h0M1747.6 588.7h0M1653.2 687.3h0M1764.3 636.4h0M1752.4 656h0M1729.8 608.2h0M1661.5 667.9h0M1707.1 701.2h0M1763.4 578.2h0M1750.1 592.3h0M1769.6 622.1h0M1678.8 649.3h0M1748.4 593.7h0" stroke="#000" stroke-width="5" stroke-linecap="round" stroke-opacity="0.45"/>
<path d="M1738.6 602.1h0M1712.1 617.9h0M1688 701.4h0M1679.8 694.4h0M1744.3 597h0M1771.8 618.2h0M1719.2 683.4h0M1738.7 662.3h0M1671.6 661.2h0M1786.6 573.2h0M1729.1 609.8h0M1782.6 597.8h0M1682.4 697.5h0M1670.9 694.8h0M1671 688.2h0M1683.9 700.2h0M1673.4 663.2h0M1676.4 649.4h0M1736.7 671.5h0M1715.5 614.7h0M1718.7 614.2h0M1658.5 669.7h0M1770.5 577.5h0M1669.9 681.8h0M1693.5 639.8h0M1684.9 699.4h0M1711.6 623.5h0M1711.4 620.1h0M1682.7 692h0M1711.2 692.3h0M1706.5 613.9h0M1664.9 654.7h0M1773.6 593.9h0" stroke="#000" stroke-width="5" stroke-linecap="round" stroke-opacity="0.45"/>
<path d="M1672.2 661.5h0M1767.8 578.7h0M1672.7 693h0M1735.5 608.2h0M1679.8 695.5h0M1740.5 667.1h0M1681.2 646.5h0M1668.1 662.5h0M1687.2 639.6h0M1720.5 607.6h0M1673.8 660.3h0M1722.7 679.3h0M1770.4 582.6h0M1784.2 572.5h0M1695.7 709.8h0M1730.4 602.3h0M1667 670.3h0M1778.2 598.8h0M1776.2 571.9h0M1726.3 676.4h0M1655.3 666.7h0M1739.9 601.3h0M1743.5 599.5h0M1661.3 682.2h0M1759 620.7h0M1779.8 574.6h0M1667.1 691.4h0M1726.1 606.3h0M1730.1 675.6h0M1767.3 579.2h0M1765 630.6h0M1652.4 675.9h0" stroke="#000" stroke-width="5" stroke-linecap="round" stroke-opacity="0.45"/>
<path d="M1738.6 599.9h0M1653.7 679.1h0M1652.7 678.1h0M1758.2 647.9h0M1786.9 569.7h0M1720.7 611.2h0M1658.1 674.9h0M1656.5 691.4h0M1779.4 572.5h0M1709.6 684.1h0M1720.5 694.1h0M1720.5 610.2h0M1773.4 573.5h0M1719.3 684.7h0M1699.3 705h0M1772.7 583.8h0M1749.5 655h0M1693.6 708.2h0M1756.6 656.8h0M1751.3 656.9h0M1698.1 632.9h0M1707.3 616.7h0M1693 704.4h0M1698.4 704.4h0M1745.5 661.8h0M1705.3 628.3h0M1710.6 693.9h0M1783.8 564.3h0M1771 577.6h0M1678.5 652.8h0M1784.8 587.8h0M1748.5 651.3h0" stroke="#000" stroke-width="5" stroke-linecap="round" stroke-opacity="0.45"/>
<path d="M1775.9 594.1h0M1744.5 653.6h0M1704.5 621.7h0M1692.6 631.3h0M1673.9 655.4h0M1717.2 613h0M1672.5 690.2h0M1718.9 610.4h0M1732.1 603.8h0M1720.7 680.4h0M1674.9 665h0M1737.6 604.5h0M1672.1 689.9h0M1724.2 606.3h0M1737.3 601.5h0M1660.9 684.3h0M1683.3 647h0M1729.4 601.6h0M1743.9 595.1h0M1758.3 590.1h0M1748.3 597.7h0M1777 603.3h0M1755.9 651.5h0M1704.6 694.1h0M1743 599.4h0M1741.7 671.3h0M1721.2 608h0M1656.5 688.8h0M1719.5 607.9h0M1773.9 572.6h0M1780.1 567.1h0M1709.4 616.7h0" stroke="#000" stroke-width="5" stroke-linecap="round" stroke-opacity="0.45"/>
<path d="M1770.3 579.6h0M1719.2 613.4h0M1680.3 694.7h0M1677.1 688.9h0M1758.6 632.5h0M1779 579.3h0M1768 591.5h0M1786.6 567.2h0M1785.1 577h0M1711.2 615.4h0M1793.4 574.7h0M1747.9 655.9h0M1776.4 569.2h0M1725.5 681.5h0M1709.1 691h0M1765.2 586.3h0M1765.3 582.2h0M1699.4 637.3h0M1767.3 604.8h0M1696.9 705.5h0M1777.6 603.3h0M1723.7 677.9h0M1772.8 604.8h0M1783.9 585.1h0M1787 590.2h0M1764.5 583.9h0M1742.8 592.9h0M1750.4 590.9h0M1695.7 698.5h0M1713.3 692.2h0M1647.2 682.5h0M1732.6 673.8h0" stroke="#000" stroke-width="5" stroke-linecap="round" stroke-opacity="0.45"/>
<path d="M1640.6 686.3h0M1667.1 693.8h0M1689.6 710.1h0M1787.6 584.9h0M1774 616.2h0M1763.1 632.5h0M1673.3 684.3h0M1727.7 599.9h0" stroke="#000" stroke-width="5" stroke-linecap="round" stroke-opacity="0.4"/>
<path d="M1655.6 695.8h0M1681.4 706.7h0M1748.1 589.7h0M1784.2 605.3h0M1769.9 621.7h0M1648.8 681.5h0M1790.3 572.7h0M1733.1 599.9h0" stroke="#000" stroke-width="5" stroke-linecap="round" stroke-opacity="0.4"/>
<line x1="1641.3" y1="698.5" x2="1793" y2="596.5" stroke="#b8222a" stroke-width="1.6"/>
</g>
<rect x="1581.6" y="544.8" width="240.7" height="240.7" fill="none" stroke="#000" stroke-width="2"/>
<line x1="1574.6" y1="546.8" x2="1581.6" y2="546.8" stroke="#000" stroke-width="2"/>
<line x1="1574.6" y1="782.5" x2="1581.6" y2="782.5" stroke="#000" stroke-width="2"/>
<line x1="1583.6" y1="785.5" x2="1583.6" y2="791.5" stroke="#000" stroke-width="2"/>
<line x1="1820.3" y1="785.5" x2="1820.3" y2="791.5" stroke="#000" stroke-width="2"/>
<text x="1556.6" y="552" text-anchor="middle">6</text>
<text x="1556.6" y="788" text-anchor="middle">0</text>
<text x="1584" y="814" text-anchor="middle">0</text>
<text x="1820.6" y="814" text-anchor="middle">6</text>
<text x="1698.7" y="529" text-anchor="middle">ESRRB Cut&amp;Run</text>
<text x="1615.5" y="589.9">R<tspan style="font-size:12.6px" dy="-7.8">2</tspan><tspan dy="7.8"> = 0.56</tspan></text>
<g clip-path="url(#cl12)">
<line x1="1877.1" y1="784.5" x2="2115.3" y2="545.8" stroke="#bdbdbd" stroke-width="2"/>
<path d="M1885.6 685.6 1899.2 676.1 1912.8 672 1926.4 665.2 1940 658.4 1953.7 655.7 1967.3 651.6 1972.7 651.6 1960.5 662.5 1948.2 673.4 1937.3 684.3 1930.5 697.9 1926.4 700.6 1912.8 703.3 1899.2 701.9 1892.4 699.2Z" fill="#1a1aff"/>
<path d="M1897.3 704.7h0M1957.2 658.3h0M1954.5 652.5h0M1892.5 693.4h0M1938.6 662.7h0M1943.7 654.6h0M1936.7 656.2h0M1917.2 703.6h0M1943 680h0M1915.3 667.7h0M1935.5 666.3h0M1940.2 681.7h0M1954.5 662.4h0M1931.5 660.5h0" stroke="#1a1aff" stroke-width="5" stroke-linecap="round" stroke-opacity="0.5"/>
<path d="M1936 685h0M1911 702.5h0M1912.3 672.9h0M1952 668.9h0M1929.2 662.1h0M1903.3 702.8h0M1911.6 707.2h0M1919.7 675.2h0M1935.9 688.4h0M1960.3 654.2h0M1936.3 688.6h0M1903.3 673.8h0M1908.9 705.1h0M1916.4 701.1h0" stroke="#1a1aff" stroke-width="5" stroke-linecap="round" stroke-opacity="0.5"/>
<path d="M1887.2 699.8h0M1929.2 698h0M1896.9 700.5h0M1960.6 651.8h0M1939.8 682.5h0M1883.2 697.3h0M1955.9 662.7h0M1965.3 660.6h0M1949.8 654.9h0M1889.6 686.4h0M1909.3 698h0M1911.8 668.6h0M1900 674.4h0M1889.2 690.6h0" stroke="#1a1aff" stroke-width="5" stroke-linecap="round" stroke-opacity="0.5"/>
<path d="M1914.3 703.4h0M1966.9 658h0M1956.9 671.6h0M1893.2 681.1h0M1887.5 686.8h0M1927.6 660.9h0M1895.1 701.3h0M1924.5 669.1h0M1955.6 669.5h0M1899.6 700.3h0M1906.5 702.9h0M1901.8 704.2h0M1959.3 653h0M1953.3 654.9h0" stroke="#1a1aff" stroke-width="5" stroke-linecap="round" stroke-opacity="0.5"/>
<path d="M1929.1 695.9h0M1897.6 676.7h0M1898.3 679.1h0M1964.8 654.7h0M1962.6 654.6h0M1911.4 673.7h0M1927.2 697.5h0M1969.3 648h0M1924.6 667.9h0M1900.4 708.1h0M1894.7 694.7h0M1911.8 673.9h0M1963.7 655h0M1895.2 702.3h0" stroke="#1a1aff" stroke-width="5" stroke-linecap="round" stroke-opacity="0.5"/>
<path d="M1918.3 703.2h0M1883.7 689.3h0M1889.1 696.1h0M1921.5 670.4h0M1944.8 675.4h0M1888.1 684.5h0M1953.5 666.1h0M1949.6 673.8h0M1892 674.2h0M1929.5 662.4h0M1902.3 671.5h0M1957.8 654.7h0M1901.5 671.9h0M1971.4 657.7h0" stroke="#1a1aff" stroke-width="5" stroke-linecap="round" stroke-opacity="0.5"/>
<path d="M1906 696.3h0M1912.8 667.3h0M1930.9 667.8h0M1899.9 677.6h0M1928.5 665.7h0M1889.6 681.4h0M1885.4 682.8h0M1944 657.3h0M1968.6 654.8h0M1970.2 648.8h0M1965.1 650.2h0M1948.8 672.7h0M1968.2 650.2h0" stroke="#1a1aff" stroke-width="5" stroke-linecap="round" stroke-opacity="0.5"/>
<path d="M1886.8 696.2h0M1931.6 660.3h0M1932.9 663.7h0M1941.8 657.5h0M1954 656.1h0M1908.4 672.8h0M1967.6 660.9h0M1886.3 690.4h0M1954.4 674h0M1900.6 679.1h0M1944.1 674.2h0M1942.4 658.5h0M1968.9 655.9h0" stroke="#1a1aff" stroke-width="5" stroke-linecap="round" stroke-opacity="0.5"/>
<path d="M1885.6 685.6h0M1896.5 681.5h0M1904.7 674.7h0M1923.7 669.3h0M1945.5 657h0M1970 650.2h0M1895.1 700.6h0" stroke="#1a1aff" stroke-width="5" stroke-linecap="round" stroke-opacity="0.45"/>
<path d="M1987.7 712.8 1994.5 704.7 2005.4 693.8 2014.9 682.9 2019 678.8 2021.7 682.9 2016.3 696.5 2010.8 710.1 2002.6 719.6 1994.5 725.1 1983.6 729.2 1979.5 726.4 1983.6 718.3Z" fill="#ff1a1a"/>
<path d="M2003.6 701.3h0M2014.9 699.6h0M2011 697.5h0M2014.5 683.6h0M2016.1 707.7h0M2007 717.7h0M2017.3 675.8h0M1992.8 727.1h0M2019.8 681.6h0M2006.1 689.8h0M2014 699.8h0M2012.5 702.1h0M1988.6 706.2h0M2016.4 680.3h0" stroke="#ff1a1a" stroke-width="5" stroke-linecap="round" stroke-opacity="0.5"/>
<path d="M2004.2 716.6h0M2008.2 689.9h0M2023 687.5h0M2005.9 706.8h0M1998.9 722.1h0M2013.3 710.1h0M1979.4 723.3h0M1988.4 704.8h0M1999.6 692.9h0M2003.3 699.7h0M2012.7 702.1h0M1980.7 714.3h0M2006.1 712.2h0M1974.4 722h0" stroke="#ff1a1a" stroke-width="5" stroke-linecap="round" stroke-opacity="0.5"/>
<path d="M2014 698.8h0M2016.6 700.3h0M2013.4 703.3h0M2008.6 707.6h0M2001.3 726h0M2002.8 713h0M2014.1 680.4h0M2012.8 705.7h0M1992.9 699.8h0M2006.8 716.5h0M1996.4 717.4h0M1979.1 720.7h0M2003.2 695.8h0M2013.4 680.6h0" stroke="#ff1a1a" stroke-width="5" stroke-linecap="round" stroke-opacity="0.5"/>
<path d="M1998.6 730.1h0M1996.1 708.5h0M2009.6 685.5h0M2008.3 702.6h0M1992.9 727.7h0M2011.9 690.6h0M2009.7 695.8h0M2016.7 688.1h0M2006.2 711.9h0M1986.2 728.4h0M2021.6 695.7h0M1997.9 728.5h0M1991.2 705.5h0M2004.1 720h0" stroke="#ff1a1a" stroke-width="5" stroke-linecap="round" stroke-opacity="0.5"/>
<path d="M1994.4 702.4h0M1980.2 722.2h0M2007 712.6h0M2015.3 678.4h0M1999.7 721.5h0M1991.8 724.7h0M2019.9 683.9h0M2002.3 722.5h0M2020.8 676.6h0M2012.7 698.9h0M2015.9 693.6h0M2020.3 690.4h0M2022.3 684.5h0M1995.7 724.5h0" stroke="#ff1a1a" stroke-width="5" stroke-linecap="round" stroke-opacity="0.5"/>
<path d="M2016.9 684.6h0M1986 715.7h0M1989.2 712.9h0M1984.4 727.2h0M2003.1 723.6h0M2014.4 703.3h0M2001.3 701.2h0M2021.8 682.4h0M1998.6 724.7h0M1985.9 719.6h0M2022.3 679h0M2010 709.8h0M2020.6 676.8h0M1994.1 707h0" stroke="#ff1a1a" stroke-width="5" stroke-linecap="round" stroke-opacity="0.5"/>
<path d="M2019.1 684.9h0M1993.2 704.3h0M1985.1 719.6h0M1994 717.3h0M2016.5 686.2h0M1999.2 703.7h0M1976.7 730.9h0M2005.6 701.4h0M2019.4 680.2h0M1995.2 716.8h0M1980.5 721.3h0M2013.3 706.8h0M2009 716.2h0" stroke="#ff1a1a" stroke-width="5" stroke-linecap="round" stroke-opacity="0.5"/>
<path d="M2019.7 689.1h0M2012.6 691.8h0M2002.3 700.6h0M2013.9 692.9h0M2010.5 688.4h0M2014.1 703.5h0M2021.2 682.3h0M1988.6 732.7h0M2015.1 703.7h0M1986.7 708h0M2017.7 690.8h0M2002.3 699.1h0M2017.4 692.4h0" stroke="#ff1a1a" stroke-width="5" stroke-linecap="round" stroke-opacity="0.5"/>
<path d="M2038.7 663.2h0M2045.5 697.9h0M2053.7 720.3h0M2048.9 733.2h0M2006.7 736h0M1969.3 732.6h0M1985 765.2h0" stroke="#ff1a1a" stroke-width="5" stroke-linecap="round" stroke-opacity="0.45"/>
<path d="M2076.1 674.7h0M2048.9 701.9h0M2020.3 717.6h0M2023.1 730.5h0M1999.9 740.1h0M1973.4 744.8h0M2021 770h0" stroke="#ff1a1a" stroke-width="5" stroke-linecap="round" stroke-opacity="0.45"/>
<path d="M2053 676.8h0M2057.8 708.8h0M2014.9 721h0M2021.7 736h0M1997.2 731.9h0M1986.3 747.5h0M2005.4 726.4h0" stroke="#ff1a1a" stroke-width="5" stroke-linecap="round" stroke-opacity="0.45"/>
<path d="M2030.5 689.7h0M2020.3 704.7h0M2044.8 734.6h0M2012.2 736.7h0M1988.4 738h0M2002.6 761.1h0M1980.9 727.8h0" stroke="#ff1a1a" stroke-width="5" stroke-linecap="round" stroke-opacity="0.45"/>
<path d="M1929.2 699.2 1938.7 678.8 1953.7 665.9 1967.3 656.4 1980.9 649.6 1994.5 642.7 2005.4 634.6 2016.3 626.4 2027.1 615.5 2038 607.4 2048.9 596.5 2059.8 587 2070.7 577.4 2081.6 566.5 2092.5 559.7 2098.6 563.1 2090.4 575.4 2080.9 584.9 2072.7 594.4 2063.2 605.3 2052.3 617.6 2042.8 628.5 2033.9 643.4 2026.5 657 2021 676.1 2016.3 684.3 2006.7 695.1 1995.8 705.4 1989 714.2 1980.9 716.9 1967.3 715.6 1953.7 714.2 1940 712.8 1931.9 707.4Z" fill="#000"/>
<path d="M1937.8 715.9h0M1997.2 706.2h0M1976.7 716.9h0M2083.5 562.2h0M2024.5 654.7h0M2048.5 597.6h0M2031.4 608.8h0M2040.5 601.3h0M1963.5 719.7h0M1940.7 711.3h0M1927.4 708.3h0M2079.5 588.4h0M2020.3 614.4h0M2050.9 622.3h0M2000.1 646h0M2018.1 679.9h0M1968.4 716.5h0M2074.7 593.9h0M2032.3 603.1h0M2092 562.4h0M2044.1 625.7h0M2023 676.1h0M2052.9 594.4h0M2047.5 602.7h0M2020.3 662.5h0M2018.1 628.1h0M1928.3 691.9h0M1989.6 649.5h0M1999.8 637.3h0M2018.5 690.2h0M2017.7 619.9h0M2056 581.4h0M1953.1 666.7h0" stroke="#000" stroke-width="5" stroke-linecap="round" stroke-opacity="0.45"/>
<path d="M2093.2 569.5h0M2092.2 572.9h0M1984.8 642.9h0M1933.5 688.8h0M1954.6 712.5h0M2011.8 683.7h0M1949.9 711.1h0M1951 713.8h0M1970 660h0M2090.9 567.8h0M2080.9 572.3h0M2028.6 651.9h0M1950 672.2h0M1966.8 654.7h0M2032.2 648.1h0M1991 642.9h0M2040.2 626.6h0M1998.1 701.5h0M1947.7 715.9h0M2016.5 692.4h0M1999.1 701.4h0M1933.1 704.9h0M1954.8 709.6h0M2095.1 579.6h0M2005 694.6h0M1988 712h0M2036.4 604.4h0M1945.4 671h0M1955.9 709.8h0M2023 679.9h0M2062.8 583.7h0M2086.5 568.5h0M2024.2 655h0" stroke="#000" stroke-width="5" stroke-linecap="round" stroke-opacity="0.45"/>
<path d="M2084 568h0M2027.8 613.7h0M1934.7 694.4h0M2038.2 655.1h0M1948.9 713.9h0M1959.6 716.9h0M1945.3 671.2h0M2077.3 576.8h0M1965.8 653.4h0M2061.9 607.7h0M1982.4 715h0M2077.1 591.2h0M2024 671.1h0M1941.4 682.2h0M1954 709.7h0M2036.1 632.2h0M1995 702.2h0M2005.4 704.4h0M2026.7 619.4h0M1968.7 718.1h0M1988.3 646h0M2076.9 580.1h0M2078.6 580.4h0M2038.4 640.1h0M1940.1 711.8h0M2008.2 691.4h0M2026.8 652.6h0M1954.8 715.7h0M2018.9 631.5h0M2016.8 629.1h0M2031.2 607.4h0M1970.8 654.1h0M1930.9 677h0" stroke="#000" stroke-width="5" stroke-linecap="round" stroke-opacity="0.45"/>
<path d="M2066.6 607.5h0M2081 559.8h0M2071.6 572.5h0M1969.9 713.8h0M2063.8 595.9h0M1926.1 699.9h0M1995.5 706.7h0M2059.6 606.3h0M1996.1 637.4h0M1984 712.1h0M2015.4 689.7h0M2028.3 663.7h0M2076.2 584.8h0M2073.7 598.3h0M2069 585.1h0M2039.8 626.7h0M2037 607.9h0M1966.7 660.2h0M2026.4 655.6h0M1965.9 715.6h0M1962.2 659.8h0M2048.9 600.8h0M2072.4 595.9h0M1934.7 710.6h0M2070.8 598.1h0M2051.5 624.3h0M2003.7 690.6h0M2032.4 653.7h0M1927.3 686.3h0M1980.1 714h0M2097.1 562.8h0M1994.5 634.8h0M1983.9 714h0" stroke="#000" stroke-width="5" stroke-linecap="round" stroke-opacity="0.45"/>
<path d="M2038.9 603.6h0M2010.1 692.9h0M2085.2 578.1h0M2036.7 634.6h0M2031.3 609.1h0M2044.3 594.5h0M1940.8 676h0M1944.1 710.6h0M2084.3 584.9h0M2009.1 628.5h0M2083.8 569.8h0M1995.7 710.6h0M2057.5 616.4h0M1961.9 714.5h0M2080.5 583.5h0M1954.4 711.6h0M1979.7 720.2h0M2082.8 562.5h0M1995.5 705h0M2061.7 590.6h0M1954 710.2h0M2026.1 613.4h0M2010.1 633.6h0M2052.8 597.3h0M1987.5 710.1h0M1935 692.9h0M1950.1 664h0M1936.6 689.8h0M1930.2 708.4h0M2046.4 619.6h0M1991.9 711.9h0M1926.7 698.5h0" stroke="#000" stroke-width="5" stroke-linecap="round" stroke-opacity="0.45"/>
<path d="M1966.4 661.2h0M2001.2 701.6h0M2093.1 569.3h0M2080.7 587h0M2058 606.3h0M2015.8 631.5h0M1947.1 710.2h0M2022.9 655.2h0M2090.6 574.1h0M2091.7 569.7h0M1936.6 688.3h0M2037.9 636.8h0M2058.6 604.1h0M1927.5 701.9h0M2083.4 563.8h0M1978 653.4h0M2068.9 593.4h0M2035 648.2h0M2044.2 601.8h0M1953 717.7h0M2022.4 668.8h0M1939 714.5h0M2055.7 610.3h0M1995.5 641.3h0M2018.8 664.4h0M1991.3 644.2h0M1984.3 713.3h0M2025.8 616.8h0M2007.1 696.1h0M1935.6 698.1h0M2043.3 636.8h0M2100.2 568.1h0" stroke="#000" stroke-width="5" stroke-linecap="round" stroke-opacity="0.45"/>
<path d="M2026.3 664.1h0M2086 555.1h0M1961.5 657.4h0M2033.5 655.2h0M1966.6 719h0M2010.9 634.9h0M2025.5 616.3h0M2045.8 598.8h0M2081.2 563.1h0M1942.5 713.9h0M2084.4 565h0M1949.5 711.8h0M2042.8 595h0M1977.8 716.6h0M2094.6 561.8h0M1943.9 676h0M2058.5 588.5h0M2005.2 638h0M2058.5 585.5h0M2060.6 585h0M2029.3 644.8h0M1995.1 642.3h0M2061.1 608.3h0M2005.5 689.6h0M2062.7 606.6h0M1997 645.6h0M2095.3 566.6h0M1978.9 718.9h0M1967.9 662h0M1933.9 709h0M2037.4 642.7h0M1930.3 698h0" stroke="#000" stroke-width="5" stroke-linecap="round" stroke-opacity="0.45"/>
<path d="M1935.2 685.5h0M2070.2 573.2h0M2018.7 625.9h0M2031.9 649.4h0M2073.1 591.6h0M1936.9 676h0M1975.4 650.7h0M2084.6 586.7h0M2057.7 588.2h0M2084.7 567.8h0M2020.5 620.4h0M2055.2 590.7h0M1945.4 670.9h0M1999.8 697.5h0M2010.9 693.5h0M2053.3 619.1h0M2075.3 572.4h0M1931.5 706.5h0M2012.2 625.8h0M1952.7 714.3h0M2019.9 619.1h0M2064.8 604.7h0M2061.2 582h0M1934.8 686.7h0M2074.6 576.2h0M1979 649.9h0M2027.7 661.7h0M2064 604.6h0M2062.9 586.5h0M2042.8 609.7h0M1976.9 653.1h0M2055.5 580.1h0" stroke="#000" stroke-width="5" stroke-linecap="round" stroke-opacity="0.45"/>
<path d="M1887.7 710.8h0M1916.9 711.5h0M1955.7 727.1h0M2035.3 654.3h0M1922.4 731.9h0M2028.5 612.1h0M2103.4 557.7h0" stroke="#000" stroke-width="5" stroke-linecap="round" stroke-opacity="0.4"/>
<path d="M1897.2 713.5h0M1926.4 712.8h0M1967.3 718.3h0M2039.4 657h0M2102 555h0M2002.6 631.2h0" stroke="#000" stroke-width="5" stroke-linecap="round" stroke-opacity="0.4"/>
<path d="M1904.7 712.2h0M1941.4 731.2h0M1973.4 716.9h0M2029.9 667.9h0M2069.3 576.7h0M2042.1 640.7h0" stroke="#000" stroke-width="5" stroke-linecap="round" stroke-opacity="0.4"/>
<line x1="1888.3" y1="757.7" x2="2103.4" y2="569.9" stroke="#b8222a" stroke-width="1.6"/>
</g>
<rect x="1876.1" y="544.8" width="240.2" height="240.7" fill="none" stroke="#000" stroke-width="2"/>
<line x1="1869.1" y1="546.8" x2="1876.1" y2="546.8" stroke="#000" stroke-width="2"/>
<line x1="1869.1" y1="782.5" x2="1876.1" y2="782.5" stroke="#000" stroke-width="2"/>
<line x1="1878.1" y1="785.5" x2="1878.1" y2="791.5" stroke="#000" stroke-width="2"/>
<line x1="2114.3" y1="785.5" x2="2114.3" y2="791.5" stroke="#000" stroke-width="2"/>
<text x="1851" y="552" text-anchor="middle">6</text>
<text x="1851" y="788" text-anchor="middle">0</text>
<text x="1878.1" y="814" text-anchor="middle">0</text>
<text x="2113" y="814" text-anchor="middle">6</text>
<text x="2000" y="529" text-anchor="middle">EZH2 Cut&amp;Run</text>
<text x="1901.4" y="589.9">R<tspan style="font-size:12.6px" dy="-7.8">2</tspan><tspan dy="7.8"> = 0.92</tspan></text>
<text x="914.4" y="924.8" style="font-size:31px;font-weight:bold;">g</text>
<circle cx="976.9" cy="1044" r="29.8" fill="#9ca1c9" stroke="#000" stroke-width="0"/>
<circle cx="1090.4" cy="1043.9" r="116.3" fill="#f47d7d" stroke="#000" stroke-width="0"/>
<circle cx="1090.4" cy="1043.9" r="116.3" fill="#b0324e" clip-path="url(#cg1)"/>
<circle cx="976.9" cy="1044" r="29.8" fill="none" stroke="#000" stroke-width="2"/>
<circle cx="1090.4" cy="1043.9" r="116.3" fill="none" stroke="#000" stroke-width="2"/>
<text x="921.2" y="1004.6">SOX2</text>
<text x="1056.7" y="1004.6">SMARCE1</text>
<text x="928" y="1063" text-anchor="middle">537</text>
<text x="928.3" y="1087.3" text-anchor="middle">(45%)</text>
<text x="1022.3" y="1072.7" text-anchor="middle">655</text>
<text x="1022.3" y="1096.7" text-anchor="middle">(55%)</text>
<text x="1026.9" y="1187.3">p= 1.93x10<tspan style="font-size:12.6px" dy="-7.8">-233</tspan></text>
<text x="1026.9" y="1211.2">obs/exp: 7.38</text>
<circle cx="1290.6" cy="1042.7" r="71.5" fill="#9ca1c9" stroke="#000" stroke-width="0"/>
<circle cx="1430.2" cy="1042.3" r="116.6" fill="#f47d7d" stroke="#000" stroke-width="0"/>
<circle cx="1430.2" cy="1042.3" r="116.6" fill="#b0324e" clip-path="url(#cg2)"/>
<circle cx="1290.6" cy="1042.7" r="71.5" fill="none" stroke="#000" stroke-width="2"/>
<circle cx="1430.2" cy="1042.3" r="116.6" fill="none" stroke="#000" stroke-width="2"/>
<text x="1272.9" y="1012.9" text-anchor="middle">ESRRB</text>
<text x="1266.2" y="1043.5" text-anchor="middle">5193</text>
<text x="1266.2" y="1068.5" text-anchor="middle">(74.9%)</text>
<text x="1440.6" y="1000.4" text-anchor="middle">SMARCE1</text>
<text x="1378" y="1090" text-anchor="middle">1741</text>
<text x="1378" y="1114.4" text-anchor="middle">(25.1%)</text>
<text x="1383.3" y="1185.2">p= 2.28x10<tspan style="font-size:12.6px" dy="-7.8">-124</tspan></text>
<text x="1383.3" y="1210.2">obs/exp: 2.06</text>
<text x="1604.9" y="930.8" style="font-size:31px;font-weight:bold;">h</text>
<circle cx="1820.6" cy="1166.5" r="75.6" fill="#f47d7d" stroke="#000" stroke-width="0"/>
<circle cx="1820.6" cy="1067.3" r="35" fill="#9ca1c9" stroke="#000" stroke-width="0"/>
<circle cx="1820.6" cy="1166.5" r="75.6" fill="#b0324e" clip-path="url(#chb)"/>
<circle cx="1820.6" cy="1166.5" r="75.6" fill="#f4946e" clip-path="url(#chl)"/>
<circle cx="1820.6" cy="1166.5" r="75.6" fill="#f4946e" clip-path="url(#chr)"/>
<circle cx="1705" cy="1057" r="102" fill="none" stroke="#000" stroke-width="2"/>
<circle cx="1983.5" cy="1060.8" r="131.5" fill="none" stroke="#000" stroke-width="2"/>
<circle cx="1820.6" cy="1067.3" r="35" fill="none" stroke="#000" stroke-width="2"/>
<circle cx="1820.6" cy="1166.5" r="75.6" fill="none" stroke="#000" stroke-width="2"/>
<text x="1827.4" y="897.8" text-anchor="middle">lost</text>
<text x="1827.4" y="922.7" text-anchor="middle">SOX2 peaks</text>
<text x="1827.4" y="947" text-anchor="middle">bound genes</text>
<line x1="1826.5" y1="956" x2="1826.5" y2="982" stroke="#000" stroke-width="2"/>
<path d="M1826.5 995.2 1819.5 977.5 1833.5 977.5Z" fill="#111"/>
<text x="1703" y="1010" text-anchor="middle">downregulated</text>
<text x="1705" y="1034.4" text-anchor="middle">in <tspan font-style="italic">Smarce1</tspan>-MD</text>
<text x="1991" y="1010" text-anchor="middle">upregulated</text>
<text x="1993.6" y="1034.4" text-anchor="middle">in <tspan font-style="italic">Smarce1</tspan>-MD</text>
<text x="1696.2" y="1081.7" text-anchor="middle">662</text>
<text x="1767.9" y="1072.2" text-anchor="middle">18</text>
<text x="1826.5" y="1072.2" text-anchor="middle">56</text>
<text x="1866.6" y="1072.2" text-anchor="middle">1</text>
<text x="1987.7" y="1081.7" text-anchor="middle">1154</text>
<text x="1820" y="1119.5" text-anchor="middle">7</text>
<text x="1734" y="1139.8" text-anchor="middle">20</text>
<text x="1907" y="1139.8" text-anchor="middle">12</text>
<text x="1821.4" y="1177.7" text-anchor="middle">346</text>
<text x="1826" y="1265.5" text-anchor="middle">gained</text>
<text x="1826" y="1291.2" text-anchor="middle">EZH2 peaks</text>
<text x="1826" y="1315.5" text-anchor="middle">bound genes</text>
<text x="19.7" y="1190.5" style="font-size:31px;font-weight:bold;">i</text>
<text x="500" y="1199.1" text-anchor="middle">SOX2 Cut&amp;Run</text>
<text x="166" y="1234.1" text-anchor="middle"><tspan font-style="italic">Smarce1</tspan>-MD(R42A)</text>
<text x="166" y="1258.6" text-anchor="middle">+DMSO</text>
<text x="386.5" y="1234.1" text-anchor="middle"><tspan font-style="italic">Smarce1</tspan>-MD(R42A)</text>
<text x="386.5" y="1258.6" text-anchor="middle">+BRM014</text>
<text x="607.6" y="1234.1" text-anchor="middle"><tspan font-style="italic">Smarce1</tspan>-MD</text>
<text x="607.6" y="1258.6" text-anchor="middle">+DMSO</text>
<text x="820" y="1234.1" text-anchor="middle"><tspan font-style="italic">Smarce1</tspan>-MD</text>
<text x="820" y="1258.6" text-anchor="middle">+BRM014</text>
<g clip-path="url(#cI0)">
<rect x="55.5" y="1386.3" width="101.8" height="237.3" fill="url(#hmI)"/>
<g opacity="1">
<ellipse cx="105.9" cy="1386.3" rx="75" ry="55" fill="url(#haloI)"/>
<rect x="55.5" y="1386.3" width="101.8" height="12" fill="url(#topI)"/>
<path d="M78.9 1386.3 80.7 1396.2 82.4 1406.1 84 1416 85.5 1425.8 86.9 1435.7 88.3 1445.6 89.5 1455.5 90.7 1465.4 91.8 1475.3 92.8 1485.2 93.7 1495.1 94.5 1504.9 95.3 1514.8 96 1524.7 96.6 1534.6 97.1 1544.5 97.6 1554.4 98 1564.3 98.3 1574.2 98.5 1584 98.7 1593.9 98.8 1603.8 98.9 1613.7 98.9 1623.6 112.9 1623.6 112.9 1613.7 113 1603.8 113.1 1593.9 113.3 1584 113.5 1574.2 113.8 1564.3 114.2 1554.4 114.7 1544.5 115.2 1534.6 115.8 1524.7 116.5 1514.8 117.3 1504.9 118.1 1495.1 119 1485.2 120 1475.3 121.1 1465.4 122.3 1455.5 123.5 1445.6 124.9 1435.7 126.3 1425.8 127.8 1416 129.4 1406.1 131.1 1396.2 132.9 1386.3Z" fill="#f08a74" fill-opacity="0.45" filter="url(#blurI3)"/>
<path d="M94.4 1386.3 94.9 1396.2 95.4 1406.1 95.9 1416 96.4 1425.8 96.9 1435.7 97.4 1445.6 97.8 1455.5 98.2 1465.4 98.6 1475.3 99 1485.2 99.4 1495.1 99.8 1504.9 100.1 1514.8 100.4 1524.7 100.7 1534.6 101 1544.5 101.3 1554.4 101.5 1564.3 101.7 1574.2 101.9 1584 102.1 1593.9 102.2 1603.8 102.4 1613.7 102.4 1623.6 109.4 1623.6 109.4 1613.7 109.6 1603.8 109.7 1593.9 109.9 1584 110.1 1574.2 110.3 1564.3 110.5 1554.4 110.8 1544.5 111.1 1534.6 111.4 1524.7 111.7 1514.8 112 1504.9 112.4 1495.1 112.8 1485.2 113.2 1475.3 113.6 1465.4 114 1455.5 114.4 1445.6 114.9 1435.7 115.4 1425.8 115.9 1416 116.4 1406.1 116.9 1396.2 117.4 1386.3Z" fill="url(#bandI)" filter="url(#blurI)"/>
<path d="M102.7 1386.3 102.8 1396.2 102.8 1406.1 102.9 1416 103 1425.8 103.1 1435.7 103.1 1445.6 103.2 1455.5 103.3 1465.4 103.3 1475.3 103.4 1485.2 103.5 1495.1 103.6 1504.9 103.6 1514.8 103.7 1524.7 103.8 1534.6 103.8 1544.5 103.9 1554.4 104 1564.3 104 1574.2 104.1 1584 104.2 1593.9 104.3 1603.8 104.3 1613.7 104.4 1623.6 107.4 1623.6 107.5 1613.7 107.5 1603.8 107.6 1593.9 107.7 1584 107.8 1574.2 107.8 1564.3 107.9 1554.4 108 1544.5 108 1534.6 108.1 1524.7 108.2 1514.8 108.2 1504.9 108.3 1495.1 108.4 1485.2 108.5 1475.3 108.5 1465.4 108.6 1455.5 108.7 1445.6 108.7 1435.7 108.8 1425.8 108.9 1416 109 1406.1 109 1396.2 109.1 1386.3Z" fill="url(#coreI)" filter="url(#blurI2)"/>
</g>
<rect x="55.5" y="1386.3" width="101.8" height="237.3" fill="url(#strp)"/>
</g>
<rect x="55.5" y="1386.3" width="101.8" height="237.3" fill="none" stroke="#000" stroke-width="2.2"/>
<g clip-path="url(#cI1)">
<rect x="165.5" y="1386.3" width="101.8" height="237.3" fill="url(#hmI)"/>
<g opacity="1">
<ellipse cx="215.9" cy="1386.3" rx="75" ry="55" fill="url(#haloI)"/>
<rect x="165.5" y="1386.3" width="101.8" height="12" fill="url(#topI)"/>
<path d="M188.9 1386.3 190.7 1396.2 192.4 1406.1 194 1416 195.5 1425.8 196.9 1435.7 198.3 1445.6 199.5 1455.5 200.7 1465.4 201.8 1475.3 202.8 1485.2 203.7 1495.1 204.5 1504.9 205.3 1514.8 206 1524.7 206.6 1534.6 207.1 1544.5 207.6 1554.4 208 1564.3 208.3 1574.2 208.5 1584 208.7 1593.9 208.8 1603.8 208.9 1613.7 208.9 1623.6 222.9 1623.6 222.9 1613.7 223 1603.8 223.1 1593.9 223.3 1584 223.5 1574.2 223.8 1564.3 224.2 1554.4 224.7 1544.5 225.2 1534.6 225.8 1524.7 226.5 1514.8 227.3 1504.9 228.1 1495.1 229 1485.2 230 1475.3 231.1 1465.4 232.3 1455.5 233.5 1445.6 234.9 1435.7 236.3 1425.8 237.8 1416 239.4 1406.1 241.1 1396.2 242.9 1386.3Z" fill="#f08a74" fill-opacity="0.45" filter="url(#blurI3)"/>
<path d="M204.4 1386.3 204.9 1396.2 205.4 1406.1 205.9 1416 206.4 1425.8 206.9 1435.7 207.4 1445.6 207.8 1455.5 208.2 1465.4 208.6 1475.3 209 1485.2 209.4 1495.1 209.8 1504.9 210.1 1514.8 210.4 1524.7 210.7 1534.6 211 1544.5 211.3 1554.4 211.5 1564.3 211.7 1574.2 211.9 1584 212.1 1593.9 212.2 1603.8 212.4 1613.7 212.4 1623.6 219.4 1623.6 219.4 1613.7 219.6 1603.8 219.7 1593.9 219.9 1584 220.1 1574.2 220.3 1564.3 220.5 1554.4 220.8 1544.5 221.1 1534.6 221.4 1524.7 221.7 1514.8 222 1504.9 222.4 1495.1 222.8 1485.2 223.2 1475.3 223.6 1465.4 224 1455.5 224.4 1445.6 224.9 1435.7 225.4 1425.8 225.9 1416 226.4 1406.1 226.9 1396.2 227.4 1386.3Z" fill="url(#bandI)" filter="url(#blurI)"/>
<path d="M212.7 1386.3 212.8 1396.2 212.8 1406.1 212.9 1416 213 1425.8 213.1 1435.7 213.1 1445.6 213.2 1455.5 213.3 1465.4 213.3 1475.3 213.4 1485.2 213.5 1495.1 213.6 1504.9 213.6 1514.8 213.7 1524.7 213.8 1534.6 213.8 1544.5 213.9 1554.4 214 1564.3 214 1574.2 214.1 1584 214.2 1593.9 214.3 1603.8 214.3 1613.7 214.4 1623.6 217.4 1623.6 217.5 1613.7 217.5 1603.8 217.6 1593.9 217.7 1584 217.8 1574.2 217.8 1564.3 217.9 1554.4 218 1544.5 218 1534.6 218.1 1524.7 218.2 1514.8 218.2 1504.9 218.3 1495.1 218.4 1485.2 218.5 1475.3 218.5 1465.4 218.6 1455.5 218.7 1445.6 218.7 1435.7 218.8 1425.8 218.9 1416 219 1406.1 219 1396.2 219.1 1386.3Z" fill="url(#coreI)" filter="url(#blurI2)"/>
</g>
<rect x="165.5" y="1386.3" width="101.8" height="237.3" fill="url(#strp)"/>
</g>
<rect x="165.5" y="1386.3" width="101.8" height="237.3" fill="none" stroke="#000" stroke-width="2.2"/>
<g clip-path="url(#cI2)">
<rect x="276.3" y="1386.3" width="101.8" height="237.3" fill="url(#hmI)"/>
<g opacity="0.95">
<ellipse cx="326.7" cy="1386.3" rx="75" ry="55" fill="url(#haloI)"/>
<rect x="276.3" y="1386.3" width="101.8" height="12" fill="url(#topI)"/>
<path d="M299.7 1386.3 301.5 1396.2 303.2 1406.1 304.8 1416 306.3 1425.8 307.7 1435.7 309.1 1445.6 310.3 1455.5 311.5 1465.4 312.6 1475.3 313.6 1485.2 314.5 1495.1 315.3 1504.9 316.1 1514.8 316.8 1524.7 317.4 1534.6 317.9 1544.5 318.4 1554.4 318.8 1564.3 319.1 1574.2 319.3 1584 319.5 1593.9 319.6 1603.8 319.7 1613.7 319.7 1623.6 333.7 1623.6 333.7 1613.7 333.8 1603.8 333.9 1593.9 334.1 1584 334.3 1574.2 334.6 1564.3 335 1554.4 335.5 1544.5 336 1534.6 336.6 1524.7 337.3 1514.8 338.1 1504.9 338.9 1495.1 339.8 1485.2 340.8 1475.3 341.9 1465.4 343.1 1455.5 344.3 1445.6 345.7 1435.7 347.1 1425.8 348.6 1416 350.2 1406.1 351.9 1396.2 353.7 1386.3Z" fill="#f08a74" fill-opacity="0.45" filter="url(#blurI3)"/>
<path d="M315.2 1386.3 315.7 1396.2 316.2 1406.1 316.7 1416 317.2 1425.8 317.7 1435.7 318.2 1445.6 318.6 1455.5 319 1465.4 319.4 1475.3 319.8 1485.2 320.2 1495.1 320.6 1504.9 320.9 1514.8 321.2 1524.7 321.5 1534.6 321.8 1544.5 322.1 1554.4 322.3 1564.3 322.5 1574.2 322.7 1584 322.9 1593.9 323 1603.8 323.2 1613.7 323.2 1623.6 330.2 1623.6 330.2 1613.7 330.4 1603.8 330.5 1593.9 330.7 1584 330.9 1574.2 331.1 1564.3 331.3 1554.4 331.6 1544.5 331.9 1534.6 332.2 1524.7 332.5 1514.8 332.8 1504.9 333.2 1495.1 333.6 1485.2 334 1475.3 334.4 1465.4 334.8 1455.5 335.2 1445.6 335.7 1435.7 336.2 1425.8 336.7 1416 337.2 1406.1 337.7 1396.2 338.2 1386.3Z" fill="url(#bandI)" filter="url(#blurI)"/>
<path d="M323.5 1386.3 323.6 1396.2 323.6 1406.1 323.7 1416 323.8 1425.8 323.9 1435.7 323.9 1445.6 324 1455.5 324.1 1465.4 324.1 1475.3 324.2 1485.2 324.3 1495.1 324.3 1504.9 324.4 1514.8 324.5 1524.7 324.6 1534.6 324.6 1544.5 324.7 1554.4 324.8 1564.3 324.8 1574.2 324.9 1584 325 1593.9 325.1 1603.8 325.1 1613.7 325.2 1623.6 328.2 1623.6 328.3 1613.7 328.3 1603.8 328.4 1593.9 328.5 1584 328.6 1574.2 328.6 1564.3 328.7 1554.4 328.8 1544.5 328.8 1534.6 328.9 1524.7 329 1514.8 329.1 1504.9 329.1 1495.1 329.2 1485.2 329.3 1475.3 329.3 1465.4 329.4 1455.5 329.5 1445.6 329.5 1435.7 329.6 1425.8 329.7 1416 329.8 1406.1 329.8 1396.2 329.9 1386.3Z" fill="url(#coreI)" filter="url(#blurI2)"/>
</g>
<rect x="276.3" y="1386.3" width="101.8" height="237.3" fill="url(#strp)"/>
</g>
<rect x="276.3" y="1386.3" width="101.8" height="237.3" fill="none" stroke="#000" stroke-width="2.2"/>
<g clip-path="url(#cI3)">
<rect x="386.3" y="1386.3" width="101.8" height="237.3" fill="url(#hmI)"/>
<g opacity="0.95">
<ellipse cx="436.7" cy="1386.3" rx="75" ry="55" fill="url(#haloI)"/>
<rect x="386.3" y="1386.3" width="101.8" height="12" fill="url(#topI)"/>
<path d="M409.7 1386.3 411.5 1396.2 413.2 1406.1 414.8 1416 416.3 1425.8 417.7 1435.7 419.1 1445.6 420.3 1455.5 421.5 1465.4 422.6 1475.3 423.6 1485.2 424.5 1495.1 425.3 1504.9 426.1 1514.8 426.8 1524.7 427.4 1534.6 427.9 1544.5 428.4 1554.4 428.8 1564.3 429.1 1574.2 429.3 1584 429.5 1593.9 429.6 1603.8 429.7 1613.7 429.7 1623.6 443.7 1623.6 443.7 1613.7 443.8 1603.8 443.9 1593.9 444.1 1584 444.3 1574.2 444.6 1564.3 445 1554.4 445.5 1544.5 446 1534.6 446.6 1524.7 447.3 1514.8 448.1 1504.9 448.9 1495.1 449.8 1485.2 450.8 1475.3 451.9 1465.4 453.1 1455.5 454.3 1445.6 455.7 1435.7 457.1 1425.8 458.6 1416 460.2 1406.1 461.9 1396.2 463.7 1386.3Z" fill="#f08a74" fill-opacity="0.45" filter="url(#blurI3)"/>
<path d="M425.2 1386.3 425.7 1396.2 426.2 1406.1 426.7 1416 427.2 1425.8 427.7 1435.7 428.2 1445.6 428.6 1455.5 429 1465.4 429.4 1475.3 429.8 1485.2 430.2 1495.1 430.6 1504.9 430.9 1514.8 431.2 1524.7 431.5 1534.6 431.8 1544.5 432.1 1554.4 432.3 1564.3 432.5 1574.2 432.7 1584 432.9 1593.9 433 1603.8 433.2 1613.7 433.2 1623.6 440.2 1623.6 440.2 1613.7 440.4 1603.8 440.5 1593.9 440.7 1584 440.9 1574.2 441.1 1564.3 441.3 1554.4 441.6 1544.5 441.9 1534.6 442.2 1524.7 442.5 1514.8 442.8 1504.9 443.2 1495.1 443.6 1485.2 444 1475.3 444.4 1465.4 444.8 1455.5 445.2 1445.6 445.7 1435.7 446.2 1425.8 446.7 1416 447.2 1406.1 447.7 1396.2 448.2 1386.3Z" fill="url(#bandI)" filter="url(#blurI)"/>
<path d="M433.5 1386.3 433.6 1396.2 433.6 1406.1 433.7 1416 433.8 1425.8 433.9 1435.7 433.9 1445.6 434 1455.5 434.1 1465.4 434.1 1475.3 434.2 1485.2 434.3 1495.1 434.3 1504.9 434.4 1514.8 434.5 1524.7 434.6 1534.6 434.6 1544.5 434.7 1554.4 434.8 1564.3 434.8 1574.2 434.9 1584 435 1593.9 435.1 1603.8 435.1 1613.7 435.2 1623.6 438.2 1623.6 438.3 1613.7 438.3 1603.8 438.4 1593.9 438.5 1584 438.6 1574.2 438.6 1564.3 438.7 1554.4 438.8 1544.5 438.8 1534.6 438.9 1524.7 439 1514.8 439.1 1504.9 439.1 1495.1 439.2 1485.2 439.3 1475.3 439.3 1465.4 439.4 1455.5 439.5 1445.6 439.5 1435.7 439.6 1425.8 439.7 1416 439.8 1406.1 439.8 1396.2 439.9 1386.3Z" fill="url(#coreI)" filter="url(#blurI2)"/>
</g>
<rect x="386.3" y="1386.3" width="101.8" height="237.3" fill="url(#strp)"/>
</g>
<rect x="386.3" y="1386.3" width="101.8" height="237.3" fill="none" stroke="#000" stroke-width="2.2"/>
<g clip-path="url(#cI4)">
<rect x="496.9" y="1386.3" width="101.8" height="237.3" fill="url(#hmI)"/>
<g opacity="1">
<ellipse cx="547.3" cy="1386.3" rx="75" ry="55" fill="url(#haloI)"/>
<rect x="496.9" y="1386.3" width="101.8" height="12" fill="url(#topI)"/>
<path d="M520.3 1386.3 522.1 1396.2 523.8 1406.1 525.4 1416 526.9 1425.8 528.3 1435.7 529.7 1445.6 530.9 1455.5 532.1 1465.4 533.2 1475.3 534.2 1485.2 535.1 1495.1 535.9 1504.9 536.7 1514.8 537.4 1524.7 538 1534.6 538.5 1544.5 539 1554.4 539.4 1564.3 539.7 1574.2 539.9 1584 540.1 1593.9 540.2 1603.8 540.3 1613.7 540.3 1623.6 554.3 1623.6 554.3 1613.7 554.4 1603.8 554.5 1593.9 554.7 1584 554.9 1574.2 555.2 1564.3 555.6 1554.4 556.1 1544.5 556.6 1534.6 557.2 1524.7 557.9 1514.8 558.7 1504.9 559.5 1495.1 560.4 1485.2 561.4 1475.3 562.5 1465.4 563.7 1455.5 564.9 1445.6 566.3 1435.7 567.7 1425.8 569.2 1416 570.8 1406.1 572.5 1396.2 574.3 1386.3Z" fill="#f08a74" fill-opacity="0.45" filter="url(#blurI3)"/>
<path d="M535.8 1386.3 536.3 1396.2 536.8 1406.1 537.3 1416 537.8 1425.8 538.3 1435.7 538.8 1445.6 539.2 1455.5 539.6 1465.4 540 1475.3 540.4 1485.2 540.8 1495.1 541.2 1504.9 541.5 1514.8 541.8 1524.7 542.1 1534.6 542.4 1544.5 542.7 1554.4 542.9 1564.3 543.1 1574.2 543.3 1584 543.5 1593.9 543.6 1603.8 543.8 1613.7 543.8 1623.6 550.8 1623.6 550.8 1613.7 551 1603.8 551.1 1593.9 551.3 1584 551.5 1574.2 551.7 1564.3 551.9 1554.4 552.2 1544.5 552.5 1534.6 552.8 1524.7 553.1 1514.8 553.4 1504.9 553.8 1495.1 554.2 1485.2 554.6 1475.3 555 1465.4 555.4 1455.5 555.8 1445.6 556.3 1435.7 556.8 1425.8 557.3 1416 557.8 1406.1 558.3 1396.2 558.8 1386.3Z" fill="url(#bandI)" filter="url(#blurI)"/>
<path d="M544.1 1386.3 544.2 1396.2 544.2 1406.1 544.3 1416 544.4 1425.8 544.5 1435.7 544.5 1445.6 544.6 1455.5 544.7 1465.4 544.7 1475.3 544.8 1485.2 544.9 1495.1 544.9 1504.9 545 1514.8 545.1 1524.7 545.2 1534.6 545.2 1544.5 545.3 1554.4 545.4 1564.3 545.4 1574.2 545.5 1584 545.6 1593.9 545.7 1603.8 545.7 1613.7 545.8 1623.6 548.8 1623.6 548.9 1613.7 548.9 1603.8 549 1593.9 549.1 1584 549.2 1574.2 549.2 1564.3 549.3 1554.4 549.4 1544.5 549.4 1534.6 549.5 1524.7 549.6 1514.8 549.6 1504.9 549.7 1495.1 549.8 1485.2 549.9 1475.3 549.9 1465.4 550 1455.5 550.1 1445.6 550.1 1435.7 550.2 1425.8 550.3 1416 550.4 1406.1 550.4 1396.2 550.5 1386.3Z" fill="url(#coreI)" filter="url(#blurI2)"/>
</g>
<rect x="496.9" y="1386.3" width="101.8" height="237.3" fill="url(#strp)"/>
</g>
<rect x="496.9" y="1386.3" width="101.8" height="237.3" fill="none" stroke="#000" stroke-width="2.2"/>
<g clip-path="url(#cI5)">
<rect x="607.1" y="1386.3" width="101.8" height="237.3" fill="url(#hmI)"/>
<g opacity="1">
<ellipse cx="657.5" cy="1386.3" rx="75" ry="55" fill="url(#haloI)"/>
<rect x="607.1" y="1386.3" width="101.8" height="12" fill="url(#topI)"/>
<path d="M630.5 1386.3 632.3 1396.2 634 1406.1 635.6 1416 637.1 1425.8 638.5 1435.7 639.9 1445.6 641.1 1455.5 642.3 1465.4 643.4 1475.3 644.4 1485.2 645.3 1495.1 646.1 1504.9 646.9 1514.8 647.6 1524.7 648.2 1534.6 648.7 1544.5 649.2 1554.4 649.6 1564.3 649.9 1574.2 650.1 1584 650.3 1593.9 650.4 1603.8 650.5 1613.7 650.5 1623.6 664.5 1623.6 664.5 1613.7 664.6 1603.8 664.7 1593.9 664.9 1584 665.1 1574.2 665.4 1564.3 665.8 1554.4 666.3 1544.5 666.8 1534.6 667.4 1524.7 668.1 1514.8 668.9 1504.9 669.7 1495.1 670.6 1485.2 671.6 1475.3 672.7 1465.4 673.9 1455.5 675.1 1445.6 676.5 1435.7 677.9 1425.8 679.4 1416 681 1406.1 682.7 1396.2 684.5 1386.3Z" fill="#f08a74" fill-opacity="0.45" filter="url(#blurI3)"/>
<path d="M646 1386.3 646.5 1396.2 647 1406.1 647.5 1416 648 1425.8 648.5 1435.7 649 1445.6 649.4 1455.5 649.8 1465.4 650.2 1475.3 650.6 1485.2 651 1495.1 651.4 1504.9 651.7 1514.8 652 1524.7 652.3 1534.6 652.6 1544.5 652.9 1554.4 653.1 1564.3 653.3 1574.2 653.5 1584 653.7 1593.9 653.8 1603.8 654 1613.7 654 1623.6 661 1623.6 661 1613.7 661.2 1603.8 661.3 1593.9 661.5 1584 661.7 1574.2 661.9 1564.3 662.1 1554.4 662.4 1544.5 662.7 1534.6 663 1524.7 663.3 1514.8 663.6 1504.9 664 1495.1 664.4 1485.2 664.8 1475.3 665.2 1465.4 665.6 1455.5 666 1445.6 666.5 1435.7 667 1425.8 667.5 1416 668 1406.1 668.5 1396.2 669 1386.3Z" fill="url(#bandI)" filter="url(#blurI)"/>
<path d="M654.3 1386.3 654.4 1396.2 654.4 1406.1 654.5 1416 654.6 1425.8 654.7 1435.7 654.7 1445.6 654.8 1455.5 654.9 1465.4 654.9 1475.3 655 1485.2 655.1 1495.1 655.1 1504.9 655.2 1514.8 655.3 1524.7 655.4 1534.6 655.4 1544.5 655.5 1554.4 655.6 1564.3 655.6 1574.2 655.7 1584 655.8 1593.9 655.9 1603.8 655.9 1613.7 656 1623.6 659 1623.6 659.1 1613.7 659.1 1603.8 659.2 1593.9 659.3 1584 659.4 1574.2 659.4 1564.3 659.5 1554.4 659.6 1544.5 659.6 1534.6 659.7 1524.7 659.8 1514.8 659.9 1504.9 659.9 1495.1 660 1485.2 660.1 1475.3 660.1 1465.4 660.2 1455.5 660.3 1445.6 660.3 1435.7 660.4 1425.8 660.5 1416 660.6 1406.1 660.6 1396.2 660.7 1386.3Z" fill="url(#coreI)" filter="url(#blurI2)"/>
</g>
<rect x="607.1" y="1386.3" width="101.8" height="237.3" fill="url(#strp)"/>
</g>
<rect x="607.1" y="1386.3" width="101.8" height="237.3" fill="none" stroke="#000" stroke-width="2.2"/>
<g clip-path="url(#cI6)">
<rect x="718.8" y="1386.3" width="101.8" height="237.3" fill="url(#hmI)"/>
<g opacity="0.78">
<ellipse cx="769.2" cy="1386.3" rx="75" ry="55" fill="url(#haloI)"/>
<rect x="718.8" y="1386.3" width="101.8" height="12" fill="url(#topI)"/>
<path d="M742.2 1386.3 744 1396.2 745.7 1406.1 747.3 1416 748.8 1425.8 750.2 1435.7 751.6 1445.6 752.8 1455.5 754 1465.4 755.1 1475.3 756.1 1485.2 757 1495.1 757.8 1504.9 758.6 1514.8 759.3 1524.7 759.9 1534.6 760.4 1544.5 760.9 1554.4 761.3 1564.3 761.6 1574.2 761.8 1584 762 1593.9 762.1 1603.8 762.2 1613.7 762.2 1623.6 776.2 1623.6 776.2 1613.7 776.3 1603.8 776.4 1593.9 776.6 1584 776.8 1574.2 777.1 1564.3 777.5 1554.4 778 1544.5 778.5 1534.6 779.1 1524.7 779.8 1514.8 780.6 1504.9 781.4 1495.1 782.3 1485.2 783.3 1475.3 784.4 1465.4 785.6 1455.5 786.8 1445.6 788.2 1435.7 789.6 1425.8 791.1 1416 792.7 1406.1 794.4 1396.2 796.2 1386.3Z" fill="#f08a74" fill-opacity="0.45" filter="url(#blurI3)"/>
<path d="M757.7 1386.3 758.2 1396.2 758.7 1406.1 759.2 1416 759.7 1425.8 760.2 1435.7 760.7 1445.6 761.1 1455.5 761.5 1465.4 761.9 1475.3 762.3 1485.2 762.7 1495.1 763.1 1504.9 763.4 1514.8 763.7 1524.7 764 1534.6 764.3 1544.5 764.6 1554.4 764.8 1564.3 765 1574.2 765.2 1584 765.4 1593.9 765.5 1603.8 765.7 1613.7 765.7 1623.6 772.7 1623.6 772.7 1613.7 772.9 1603.8 773 1593.9 773.2 1584 773.4 1574.2 773.6 1564.3 773.8 1554.4 774.1 1544.5 774.4 1534.6 774.7 1524.7 775 1514.8 775.3 1504.9 775.7 1495.1 776.1 1485.2 776.5 1475.3 776.9 1465.4 777.3 1455.5 777.7 1445.6 778.2 1435.7 778.7 1425.8 779.2 1416 779.7 1406.1 780.2 1396.2 780.7 1386.3Z" fill="url(#bandI)" filter="url(#blurI)"/>
<path d="M766 1386.3 766.1 1396.2 766.1 1406.1 766.2 1416 766.3 1425.8 766.4 1435.7 766.4 1445.6 766.5 1455.5 766.6 1465.4 766.6 1475.3 766.7 1485.2 766.8 1495.1 766.8 1504.9 766.9 1514.8 767 1524.7 767.1 1534.6 767.1 1544.5 767.2 1554.4 767.3 1564.3 767.3 1574.2 767.4 1584 767.5 1593.9 767.6 1603.8 767.6 1613.7 767.7 1623.6 770.7 1623.6 770.8 1613.7 770.8 1603.8 770.9 1593.9 771 1584 771.1 1574.2 771.1 1564.3 771.2 1554.4 771.3 1544.5 771.3 1534.6 771.4 1524.7 771.5 1514.8 771.5 1504.9 771.6 1495.1 771.7 1485.2 771.8 1475.3 771.8 1465.4 771.9 1455.5 772 1445.6 772 1435.7 772.1 1425.8 772.2 1416 772.3 1406.1 772.3 1396.2 772.4 1386.3Z" fill="url(#coreI)" filter="url(#blurI2)"/>
</g>
<rect x="718.8" y="1386.3" width="101.8" height="237.3" fill="url(#strp)"/>
</g>
<rect x="718.8" y="1386.3" width="101.8" height="237.3" fill="none" stroke="#000" stroke-width="2.2"/>
<g clip-path="url(#cI7)">
<rect x="827.9" y="1386.3" width="101.8" height="237.3" fill="url(#hmI)"/>
<g opacity="0.85">
<ellipse cx="878.3" cy="1386.3" rx="75" ry="55" fill="url(#haloI)"/>
<rect x="827.9" y="1386.3" width="101.8" height="12" fill="url(#topI)"/>
<path d="M851.3 1386.3 853.1 1396.2 854.8 1406.1 856.4 1416 857.9 1425.8 859.3 1435.7 860.7 1445.6 861.9 1455.5 863.1 1465.4 864.2 1475.3 865.2 1485.2 866.1 1495.1 866.9 1504.9 867.7 1514.8 868.4 1524.7 869 1534.6 869.5 1544.5 870 1554.4 870.4 1564.3 870.7 1574.2 870.9 1584 871.1 1593.9 871.2 1603.8 871.3 1613.7 871.3 1623.6 885.3 1623.6 885.3 1613.7 885.4 1603.8 885.5 1593.9 885.7 1584 885.9 1574.2 886.2 1564.3 886.6 1554.4 887.1 1544.5 887.6 1534.6 888.2 1524.7 888.9 1514.8 889.7 1504.9 890.5 1495.1 891.4 1485.2 892.4 1475.3 893.5 1465.4 894.7 1455.5 895.9 1445.6 897.3 1435.7 898.7 1425.8 900.2 1416 901.8 1406.1 903.5 1396.2 905.3 1386.3Z" fill="#f08a74" fill-opacity="0.45" filter="url(#blurI3)"/>
<path d="M866.8 1386.3 867.3 1396.2 867.8 1406.1 868.3 1416 868.8 1425.8 869.3 1435.7 869.8 1445.6 870.2 1455.5 870.6 1465.4 871 1475.3 871.4 1485.2 871.8 1495.1 872.2 1504.9 872.5 1514.8 872.8 1524.7 873.1 1534.6 873.4 1544.5 873.7 1554.4 873.9 1564.3 874.1 1574.2 874.3 1584 874.5 1593.9 874.6 1603.8 874.8 1613.7 874.8 1623.6 881.8 1623.6 881.8 1613.7 882 1603.8 882.1 1593.9 882.3 1584 882.5 1574.2 882.7 1564.3 882.9 1554.4 883.2 1544.5 883.5 1534.6 883.8 1524.7 884.1 1514.8 884.4 1504.9 884.8 1495.1 885.2 1485.2 885.6 1475.3 886 1465.4 886.4 1455.5 886.8 1445.6 887.3 1435.7 887.8 1425.8 888.3 1416 888.8 1406.1 889.3 1396.2 889.8 1386.3Z" fill="url(#bandI)" filter="url(#blurI)"/>
<path d="M875.1 1386.3 875.2 1396.2 875.2 1406.1 875.3 1416 875.4 1425.8 875.5 1435.7 875.5 1445.6 875.6 1455.5 875.7 1465.4 875.7 1475.3 875.8 1485.2 875.9 1495.1 875.9 1504.9 876 1514.8 876.1 1524.7 876.2 1534.6 876.2 1544.5 876.3 1554.4 876.4 1564.3 876.4 1574.2 876.5 1584 876.6 1593.9 876.7 1603.8 876.7 1613.7 876.8 1623.6 879.8 1623.6 879.9 1613.7 879.9 1603.8 880 1593.9 880.1 1584 880.2 1574.2 880.2 1564.3 880.3 1554.4 880.4 1544.5 880.4 1534.6 880.5 1524.7 880.6 1514.8 880.6 1504.9 880.7 1495.1 880.8 1485.2 880.9 1475.3 880.9 1465.4 881 1455.5 881.1 1445.6 881.1 1435.7 881.2 1425.8 881.3 1416 881.4 1406.1 881.4 1396.2 881.5 1386.3Z" fill="url(#coreI)" filter="url(#blurI2)"/>
</g>
<rect x="827.9" y="1386.3" width="101.8" height="237.3" fill="url(#strp)"/>
</g>
<rect x="827.9" y="1386.3" width="101.8" height="237.3" fill="none" stroke="#000" stroke-width="2.2"/>
<rect x="55.5" y="1274" width="101.8" height="95" fill="none" stroke="#000" stroke-width="2.2"/>
<path d="M56.5 1359.7 58 1359.6 59.5 1359.5 61 1359.3 62.5 1359.2 64 1359.1 65.5 1358.9 67 1358.8 68.5 1358.6 70 1358.4 71.5 1358.2 73 1358 74.5 1357.8 76 1357.6 77.5 1357.3 79 1357 80.5 1356.7 82 1356.3 83.5 1355.9 85 1355.4 86.5 1354.7 88 1353.9 89.5 1352.8 91 1351.3 92.5 1349.1 94 1346.1 94.5 1344.8 95 1343.4 95.5 1341.9 96 1340.3 96.5 1338.5 97 1336.6 97.5 1334.7 98 1332.8 98.5 1331 99 1329.3 99.5 1327.7 100 1326.4 100.5 1325.3 101 1324.4 101.5 1323.7 102 1321 102.5 1317.1 103 1312.5 103.5 1307.3 104 1301.7 104.5 1295.7 105 1289.2 105.4 1283.8 105.5 1285.2 106 1291.8 106.5 1298.1 107 1304 107.5 1309.5 108 1314.4 108.5 1318.8 109 1322.3 109.5 1323.9 110 1324.7 110.5 1325.7 111 1326.9 111.5 1328.3 112 1330 112.5 1331.7 113 1333.6 113.5 1335.5 114 1337.4 114.5 1339.2 115 1340.9 115.5 1342.5 116 1344 116.5 1345.4 117 1346.6 117.5 1347.6 119 1350.2 120.5 1352 122 1353.3 123.5 1354.3 125 1355 126.5 1355.6 128 1356.1 129.5 1356.5 131 1356.9 132.5 1357.2 134 1357.4 135.5 1357.7 137 1357.9 138.5 1358.1 140 1358.3 141.5 1358.5 143 1358.7 144.5 1358.8 146 1359 147.5 1359.1 149 1359.3 150.5 1359.4 152 1359.5 153.5 1359.7 155 1359.8" fill="none" stroke="#161664" stroke-width="2.2" stroke-linejoin="round"/>
<rect x="165.5" y="1274" width="101.8" height="95" fill="none" stroke="#000" stroke-width="2.2"/>
<path d="M166.5 1359.8 168 1359.7 169.5 1359.5 171 1359.4 172.5 1359.3 174 1359.1 175.5 1359 177 1358.8 178.5 1358.7 180 1358.5 181.5 1358.3 183 1358.1 184.5 1357.9 186 1357.7 187.5 1357.5 189 1357.2 190.5 1356.9 192 1356.5 193.5 1356.1 195 1355.6 196.5 1355 198 1354.2 199.5 1353.1 201 1351.7 202.5 1349.6 204 1346.7 204.5 1345.6 205 1344.2 205.5 1342.8 206 1341.2 206.5 1339.5 207 1337.7 207.5 1335.9 208 1334.1 208.5 1332.4 209 1330.7 209.5 1329.2 210 1328 210.5 1326.9 211 1326 211.5 1325.4 212 1322.8 212.5 1319.1 213 1314.8 213.5 1309.9 214 1304.6 214.5 1298.9 215 1292.8 215.4 1287.7 215.5 1289 216 1295.3 216.5 1301.2 217 1306.8 217.5 1311.9 218 1316.6 218.5 1320.7 219 1324 219.5 1325.6 220 1326.3 220.5 1327.3 221 1328.4 221.5 1329.8 222 1331.4 222.5 1333 223 1334.8 223.5 1336.6 224 1338.4 224.5 1340.2 225 1341.8 225.5 1343.4 226 1344.8 226.5 1346 227 1347.2 227.5 1348.2 229 1350.7 230.5 1352.4 232 1353.7 233.5 1354.6 235 1355.3 236.5 1355.9 238 1356.3 239.5 1356.7 241 1357 242.5 1357.3 244 1357.6 245.5 1357.8 247 1358 248.5 1358.2 250 1358.4 251.5 1358.6 253 1358.8 254.5 1358.9 256 1359.1 257.5 1359.2 259 1359.3 260.5 1359.5 262 1359.6 263.5 1359.7 265 1359.8" fill="none" stroke="#161664" stroke-width="2.2" stroke-linejoin="round"/>
<rect x="276.3" y="1274" width="101.8" height="95" fill="none" stroke="#000" stroke-width="2.2"/>
<path d="M277.3 1359.9 278.8 1359.8 280.3 1359.7 281.8 1359.6 283.3 1359.5 284.8 1359.4 286.3 1359.3 287.8 1359.2 289.3 1359 290.8 1358.9 292.3 1358.8 293.8 1358.6 295.3 1358.5 296.8 1358.3 298.3 1358.1 299.8 1357.9 301.3 1357.6 302.8 1357.3 304.3 1357 305.8 1356.6 307.3 1356.1 308.8 1355.4 310.3 1354.6 311.8 1353.4 313.3 1351.8 314.8 1349.5 315.3 1348.5 315.8 1347.5 316.3 1346.3 316.8 1345.1 317.3 1343.7 317.8 1342.3 318.3 1340.8 318.8 1339.4 319.3 1338 319.8 1336.7 320.3 1335.5 320.8 1334.5 321.3 1333.6 321.8 1332.9 322.3 1332.4 322.8 1330.5 323.3 1327.7 323.8 1324.4 324.3 1320.7 324.8 1316.7 325.3 1312.4 325.8 1307.9 326.2 1304 326.3 1305 326.8 1309.7 327.3 1314.2 327.8 1318.4 328.3 1322.2 328.8 1325.8 329.3 1328.9 329.8 1331.4 330.3 1332.6 330.8 1333.2 331.3 1333.9 331.8 1334.9 332.3 1336 332.8 1337.2 333.3 1338.6 333.8 1340 334.3 1341.4 334.8 1342.9 335.3 1344.3 335.8 1345.6 336.3 1346.8 336.8 1347.9 337.3 1348.9 337.8 1349.9 338.3 1350.7 339.8 1352.6 341.3 1354 342.8 1355 344.3 1355.8 345.8 1356.3 347.3 1356.8 348.8 1357.2 350.3 1357.5 351.8 1357.7 353.3 1358 354.8 1358.2 356.3 1358.4 357.8 1358.5 359.3 1358.7 360.8 1358.8 362.3 1359 363.8 1359.1 365.3 1359.2 366.8 1359.3 368.3 1359.5 369.8 1359.6 371.3 1359.7 372.8 1359.8 374.3 1359.9 375.8 1360" fill="none" stroke="#161664" stroke-width="2.2" stroke-linejoin="round"/>
<rect x="386.3" y="1274" width="101.8" height="95" fill="none" stroke="#000" stroke-width="2.2"/>
<path d="M387.3 1359.8 388.8 1359.7 390.3 1359.6 391.8 1359.5 393.3 1359.4 394.8 1359.3 396.3 1359.1 397.8 1359 399.3 1358.9 400.8 1358.7 402.3 1358.6 403.8 1358.4 405.3 1358.2 406.8 1358 408.3 1357.8 409.8 1357.5 411.3 1357.3 412.8 1356.9 414.3 1356.6 415.8 1356.1 417.3 1355.5 418.8 1354.8 420.3 1353.9 421.8 1352.6 423.3 1350.7 424.8 1348.1 425.3 1347.1 425.8 1345.9 426.3 1344.6 426.8 1343.1 427.3 1341.6 427.8 1340 428.3 1338.4 428.8 1336.8 429.3 1335.2 429.8 1333.7 430.3 1332.4 430.8 1331.2 431.3 1330.3 431.8 1329.5 432.3 1328.9 432.8 1326.7 433.3 1323.4 433.8 1319.6 434.3 1315.4 434.8 1310.7 435.3 1305.7 435.8 1300.4 436.2 1295.9 436.3 1297 436.8 1302.6 437.3 1307.8 437.8 1312.6 438.3 1317.1 438.8 1321.2 439.3 1324.8 439.8 1327.7 440.3 1329.1 440.8 1329.8 441.3 1330.6 441.8 1331.7 442.3 1332.9 442.8 1334.3 443.3 1335.8 443.8 1337.4 444.3 1339 444.8 1340.7 445.3 1342.2 445.8 1343.7 446.3 1345.1 446.8 1346.4 447.3 1347.5 447.8 1348.5 448.3 1349.5 449.8 1351.7 451.3 1353.2 452.8 1354.3 454.3 1355.2 455.8 1355.8 457.3 1356.3 458.8 1356.7 460.3 1357.1 461.8 1357.4 463.3 1357.6 464.8 1357.9 466.3 1358.1 467.8 1358.3 469.3 1358.5 470.8 1358.6 472.3 1358.8 473.8 1358.9 475.3 1359.1 476.8 1359.2 478.3 1359.3 479.8 1359.4 481.3 1359.6 482.8 1359.7 484.3 1359.8 485.8 1359.9" fill="none" stroke="#161664" stroke-width="2.2" stroke-linejoin="round"/>
<rect x="496.9" y="1274" width="101.8" height="95" fill="none" stroke="#000" stroke-width="2.2"/>
<path d="M497.9 1359.9 499.4 1359.8 500.9 1359.7 502.4 1359.6 503.9 1359.5 505.4 1359.4 506.9 1359.3 508.4 1359.1 509.9 1359 511.4 1358.9 512.9 1358.7 514.4 1358.6 515.9 1358.4 517.4 1358.2 518.9 1358 520.4 1357.8 521.9 1357.5 523.4 1357.2 524.9 1356.9 526.4 1356.5 527.9 1356 529.4 1355.3 530.9 1354.4 532.4 1353.2 533.9 1351.5 535.4 1349.2 535.9 1348.2 536.4 1347.1 536.9 1345.9 537.4 1344.6 537.9 1343.2 538.4 1341.7 538.9 1340.2 539.4 1338.7 539.9 1337.3 540.4 1336 540.9 1334.7 541.4 1333.7 541.9 1332.8 542.4 1332.1 542.9 1331.5 543.4 1329.5 543.9 1326.6 544.4 1323.2 544.9 1319.4 545.4 1315.3 545.9 1310.8 546.4 1306 546.8 1302 546.9 1303 547.4 1307.9 547.9 1312.6 548.4 1317 548.9 1321 549.4 1324.6 549.9 1327.9 550.4 1330.5 550.9 1331.7 551.4 1332.3 551.9 1333.1 552.4 1334.1 552.9 1335.2 553.4 1336.5 553.9 1337.9 554.4 1339.3 554.9 1340.8 555.4 1342.3 555.9 1343.8 556.4 1345.1 556.9 1346.4 557.4 1347.5 557.9 1348.6 558.4 1349.5 558.9 1350.4 560.4 1352.4 561.9 1353.8 563.4 1354.9 564.9 1355.6 566.4 1356.2 567.9 1356.7 569.4 1357.1 570.9 1357.4 572.4 1357.6 573.9 1357.9 575.4 1358.1 576.9 1358.3 578.4 1358.5 579.9 1358.6 581.4 1358.8 582.9 1358.9 584.4 1359.1 585.9 1359.2 587.4 1359.3 588.9 1359.4 590.4 1359.5 591.9 1359.6 593.4 1359.7 594.9 1359.8 596.4 1359.9" fill="none" stroke="#161664" stroke-width="2.2" stroke-linejoin="round"/>
<rect x="607.1" y="1274" width="101.8" height="95" fill="none" stroke="#000" stroke-width="2.2"/>
<path d="M608.1 1359.9 609.6 1359.8 611.1 1359.7 612.6 1359.6 614.1 1359.4 615.6 1359.3 617.1 1359.2 618.6 1359.1 620.1 1358.9 621.6 1358.8 623.1 1358.7 624.6 1358.5 626.1 1358.3 627.6 1358.1 629.1 1357.9 630.6 1357.7 632.1 1357.4 633.6 1357.1 635.1 1356.8 636.6 1356.3 638.1 1355.8 639.6 1355.1 641.1 1354.2 642.6 1353 644.1 1351.3 645.6 1348.8 646.1 1347.8 646.6 1346.6 647.1 1345.4 647.6 1344.1 648.1 1342.6 648.6 1341.1 649.1 1339.6 649.6 1338 650.1 1336.5 650.6 1335.2 651.1 1333.9 651.6 1332.8 652.1 1331.9 652.6 1331.2 653.1 1330.6 653.6 1328.5 654.1 1325.5 654.6 1321.9 655.1 1318 655.6 1313.6 656.1 1308.9 656.6 1304 657 1299.8 657.1 1300.9 657.6 1306 658.1 1310.9 658.6 1315.4 659.1 1319.6 659.6 1323.4 660.1 1326.8 660.6 1329.5 661.1 1330.8 661.6 1331.4 662.1 1332.2 662.6 1333.2 663.1 1334.4 663.6 1335.7 664.1 1337.1 664.6 1338.6 665.1 1340.2 665.6 1341.7 666.1 1343.2 666.6 1344.6 667.1 1345.9 667.6 1347.1 668.1 1348.2 668.6 1349.2 669.1 1350 670.6 1352.1 672.1 1353.6 673.6 1354.7 675.1 1355.5 676.6 1356.1 678.1 1356.5 679.6 1356.9 681.1 1357.3 682.6 1357.6 684.1 1357.8 685.6 1358 687.1 1358.2 688.6 1358.4 690.1 1358.6 691.6 1358.7 693.1 1358.9 694.6 1359 696.1 1359.1 697.6 1359.3 699.1 1359.4 700.6 1359.5 702.1 1359.6 703.6 1359.7 705.1 1359.8 706.6 1359.9" fill="none" stroke="#161664" stroke-width="2.2" stroke-linejoin="round"/>
<rect x="718.8" y="1274" width="101.8" height="95" fill="none" stroke="#000" stroke-width="2.2"/>
<path d="M719.8 1360.1 721.3 1360 722.8 1359.9 724.3 1359.8 725.8 1359.7 727.3 1359.7 728.8 1359.6 730.3 1359.5 731.8 1359.4 733.3 1359.3 734.8 1359.2 736.3 1359 737.8 1358.9 739.3 1358.8 740.8 1358.6 742.3 1358.5 743.8 1358.3 745.3 1358 746.8 1357.8 748.3 1357.5 749.8 1357.1 751.3 1356.6 752.8 1355.9 754.3 1355.1 755.8 1353.8 757.3 1352 757.8 1351.3 758.3 1350.5 758.8 1349.6 759.3 1348.6 759.8 1347.5 760.3 1346.4 760.8 1345.3 761.3 1344.2 761.8 1343.1 762.3 1342.1 762.8 1341.2 763.3 1340.4 763.8 1339.7 764.3 1339.2 764.8 1338.8 765.3 1337.4 765.8 1335.4 766.3 1333.1 766.8 1330.6 767.3 1327.7 767.8 1324.7 768.3 1321.5 768.7 1318.8 768.8 1319.5 769.3 1322.8 769.8 1326 770.3 1328.9 770.8 1331.6 771.3 1334.1 771.8 1336.3 772.3 1338.1 772.8 1339 773.3 1339.4 773.8 1340 774.3 1340.7 774.8 1341.5 775.3 1342.5 775.8 1343.5 776.3 1344.6 776.8 1345.8 777.3 1346.9 777.8 1348 778.3 1349 778.8 1349.9 779.3 1350.8 779.8 1351.6 780.3 1352.3 780.8 1352.9 782.3 1354.4 783.8 1355.5 785.3 1356.3 786.8 1356.8 788.3 1357.3 789.8 1357.6 791.3 1357.9 792.8 1358.2 794.3 1358.4 795.8 1358.5 797.3 1358.7 798.8 1358.8 800.3 1359 801.8 1359.1 803.3 1359.2 804.8 1359.3 806.3 1359.4 807.8 1359.5 809.3 1359.6 810.8 1359.7 812.3 1359.8 813.8 1359.9 815.3 1359.9 816.8 1360 818.3 1360.1" fill="none" stroke="#161664" stroke-width="2.2" stroke-linejoin="round"/>
<rect x="827.9" y="1274" width="101.8" height="95" fill="none" stroke="#000" stroke-width="2.2"/>
<path d="M828.9 1360 830.4 1359.9 831.9 1359.8 833.4 1359.7 834.9 1359.6 836.4 1359.5 837.9 1359.4 839.4 1359.3 840.9 1359.2 842.4 1359.1 843.9 1359 845.4 1358.9 846.9 1358.7 848.4 1358.6 849.9 1358.4 851.4 1358.2 852.9 1358 854.4 1357.7 855.9 1357.4 857.4 1357.1 858.9 1356.7 860.4 1356.1 861.9 1355.4 863.4 1354.4 864.9 1352.9 866.4 1350.9 866.9 1350.1 867.4 1349.2 867.9 1348.2 868.4 1347.1 868.9 1345.9 869.4 1344.6 869.9 1343.4 870.4 1342.1 870.9 1340.9 871.4 1339.8 871.9 1338.7 872.4 1337.8 872.9 1337.1 873.4 1336.5 873.9 1336 874.4 1334.4 874.9 1332.1 875.4 1329.4 875.9 1326.3 876.4 1323 876.9 1319.4 877.4 1315.6 877.8 1312.4 877.9 1313.2 878.4 1317.2 878.9 1320.9 879.4 1324.3 879.9 1327.6 880.4 1330.5 880.9 1333.1 881.4 1335.2 881.9 1336.2 882.4 1336.7 882.9 1337.4 883.4 1338.2 883.9 1339.1 884.4 1340.2 884.9 1341.4 885.4 1342.6 885.9 1343.9 886.4 1345.1 886.9 1346.4 887.4 1347.5 887.9 1348.6 888.4 1349.5 888.9 1350.4 889.4 1351.2 889.9 1352 891.4 1353.7 892.9 1354.9 894.4 1355.7 895.9 1356.4 897.4 1356.9 898.9 1357.3 900.4 1357.6 901.9 1357.9 903.4 1358.1 904.9 1358.3 906.4 1358.5 907.9 1358.6 909.4 1358.8 910.9 1358.9 912.4 1359 913.9 1359.2 915.4 1359.3 916.9 1359.4 918.4 1359.5 919.9 1359.6 921.4 1359.7 922.9 1359.8 924.4 1359.9 925.9 1359.9 927.4 1360" fill="none" stroke="#161664" stroke-width="2.2" stroke-linejoin="round"/>
<line x1="52" y1="1274" x2="55.5" y2="1274" stroke="#000" stroke-width="2"/>
<line x1="52" y1="1369" x2="55.5" y2="1369" stroke="#000" stroke-width="2"/>
<text x="46.6" y="1280.8" text-anchor="end">2.5</text>
<text x="46.6" y="1375.2" text-anchor="end">0</text>
<text x="37.6" y="1321" text-anchor="middle" transform="rotate(-90 37.6 1321)">RPM</text>
<text x="41.5" y="1500" text-anchor="middle" transform="rotate(-90 41.5 1500)">11426 SOX2 peaks</text>
<text x="33.8" y="1641.6">-3 kb</text>
<text x="129.4" y="1641.6">3 kb</text>
<g clip-path="url(#cl13)">
<path d="M130.4 1847.6 141.3 1825.7 154.2 1794.8 167.1 1769 185.1 1754.8 203.2 1749.6 216.1 1753.5 221.2 1763.8 216.1 1779.3 203.2 1794.8 187.7 1810.2 177.4 1820.6 161.9 1831.4 146.4 1841.7 136.1 1848.4Z" fill="#000"/>
<path d="M183.6 1758.6h0M170 1833h0M136.1 1845.5h0M169.8 1827.2h0M207.2 1794.4h0M192.7 1804h0M150.1 1801h0M135.2 1838h0M147.1 1816.7h0M164.6 1830.2h0M204.2 1795.8h0M149.1 1804h0M196.3 1752.6h0M217.2 1755.1h0M181.8 1758.4h0M171.3 1827.3h0M196.4 1760.7h0M192.8 1755.4h0M173.5 1767.8h0M213.3 1779h0M157.8 1787.2h0M138.1 1844h0M195.7 1755.9h0M130.5 1845.2h0M192.8 1801.6h0M141.8 1819.3h0M186.7 1812.9h0M175 1757h0M191 1755.5h0M213.9 1779.5h0M149.1 1812.1h0M220.5 1773.5h0M150.2 1798.2h0M177.5 1814.9h0M150.9 1787.8h0M146.3 1843.9h0M198.9 1804.5h0M226.3 1762.6h0" stroke="#000" stroke-width="6" stroke-linecap="round" stroke-opacity="0.5"/>
<path d="M146.2 1835.3h0M195.7 1810.6h0M186.4 1808.6h0M197.5 1745h0M221.2 1772.8h0M213.8 1753h0M220.7 1750.1h0M134.1 1835.2h0M204 1790h0M167.1 1771.5h0M165.5 1830.4h0M227 1767.8h0M211.9 1781.6h0M150 1805.1h0M172.2 1769.1h0M150.5 1842.9h0M129.8 1844.3h0M216.7 1763.7h0M161.6 1791.5h0M206.4 1798.4h0M129.8 1839.1h0M141.8 1831.7h0M208.1 1792.1h0M178 1813.3h0M193.5 1798.6h0M165.5 1778.2h0M137.4 1836.1h0M160.4 1786.3h0M206.9 1792.3h0M153.3 1801.2h0M151.7 1838.2h0M166.7 1779.7h0M172.4 1762.8h0M155.1 1790.2h0M203.7 1754h0M173 1766h0M190 1754.6h0M153.1 1836.8h0" stroke="#000" stroke-width="6" stroke-linecap="round" stroke-opacity="0.5"/>
<path d="M215.6 1770.4h0M150.5 1812.9h0M224.9 1758.6h0M180.9 1756.4h0M156.1 1787.2h0M209.3 1792.2h0M140.1 1828.3h0M186.2 1759.9h0M182.3 1820.9h0M179.7 1769.8h0M171 1827.3h0M218.9 1782.8h0M156.1 1835.1h0M176.8 1827.3h0M147.3 1801.1h0M143.2 1822.2h0M195.6 1744.5h0M143.9 1838.2h0M129.8 1843.1h0M188.7 1818.8h0M127.8 1847.3h0M204.1 1801.8h0M225.8 1758.4h0M170.8 1822.1h0M125 1844.9h0M150.6 1835.7h0M202.5 1748.7h0M150.1 1841.2h0M130.1 1841.4h0M177.7 1819.7h0M165.4 1773.1h0M223 1764.1h0M157.5 1782.5h0M139.8 1847.7h0M176 1763.8h0M154 1786h0M155.1 1789.8h0M213.4 1785.5h0" stroke="#000" stroke-width="6" stroke-linecap="round" stroke-opacity="0.5"/>
<path d="M219.5 1766.6h0M139.3 1849.6h0M171.1 1767.7h0M164.5 1782.9h0M126 1844.1h0M171.6 1775.4h0M203 1802.7h0M215.8 1770.7h0M178.2 1759.6h0M199.4 1749.4h0M182.9 1751.7h0M208.7 1786.6h0M216.9 1765h0M180.2 1819.4h0M160.3 1784.7h0M153.7 1794.4h0M185.6 1745.9h0M201.1 1747.4h0M174.5 1817.5h0M152.1 1802h0M170 1781.9h0M207.6 1792.8h0M214.2 1781.9h0M187.5 1803.7h0M216.2 1769.5h0M148.6 1812.2h0M164.9 1775.3h0M216.7 1775.5h0M162.1 1831.9h0M183.8 1761h0M214.2 1767.9h0M178.5 1768.6h0M153.2 1845.4h0M212.8 1749.9h0M187.1 1755.3h0M226.9 1760.8h0M191.5 1751.8h0M212.2 1755.4h0" stroke="#000" stroke-width="6" stroke-linecap="round" stroke-opacity="0.5"/>
<path d="M166.9 1827.3h0M210.9 1781.5h0M140.7 1831.4h0M166 1774.6h0M209.9 1766.1h0M218.2 1774.3h0M154.2 1794.1h0M218.7 1767.5h0M155.6 1811h0M210.6 1758h0M130.2 1842.2h0M162.2 1830.6h0M189.6 1755.6h0M136.9 1851.2h0M213.6 1756.8h0M221.5 1753.5h0M161.4 1776h0M210.4 1750h0M129.7 1839.9h0M131.2 1844.3h0M197.4 1806.6h0M175.6 1826.7h0M221.2 1775.3h0M160.6 1791.9h0M142.3 1819.9h0M191.9 1797.1h0M164.8 1826.4h0M181.3 1826.6h0M164 1770.8h0M183.7 1810h0M209.9 1758.3h0M141.9 1846.6h0M140.6 1824.5h0M162.7 1765.4h0M141.6 1842.7h0M147.2 1838.4h0M201.3 1793.6h0" stroke="#000" stroke-width="6" stroke-linecap="round" stroke-opacity="0.5"/>
<path d="M147.7 1806.9h0M159.7 1831.4h0M192.2 1814h0M143.1 1845.6h0M156.8 1834.2h0M160.6 1774.4h0M183.9 1765.8h0M144.8 1801.9h0M171.6 1765.7h0M218.8 1766.8h0M139.8 1845.5h0M204 1788.5h0M150.5 1835.2h0M129.7 1845.8h0M207.3 1754.8h0M185.6 1805h0M166.8 1834.1h0M153.6 1811.6h0M214.3 1786.7h0M145.4 1842.9h0M197.1 1794.7h0M191.1 1809.6h0M133 1854.1h0M145.9 1836.7h0M154.8 1818.7h0M217.5 1779h0M183.2 1748.9h0M179.7 1826.7h0M188.5 1763.2h0M131.9 1848.9h0M137.4 1829.3h0M214.1 1763.7h0M222.1 1771.2h0M137.5 1828.6h0M134.8 1840.6h0M135 1834.8h0M153.6 1814.4h0" stroke="#000" stroke-width="6" stroke-linecap="round" stroke-opacity="0.5"/>
<path d="M205.6 1789.7h0M145.7 1806.7h0M150.2 1811.3h0M187.4 1807.4h0M222.5 1773.8h0M177.4 1816.7h0M159.6 1787.2h0M180 1817.1h0M172.5 1834.1h0M154.1 1844h0M201 1749.1h0M138 1846.5h0M199.9 1799.9h0M226.6 1763.9h0M186.3 1814.2h0M145.2 1837.2h0M149.6 1794.9h0M175.1 1815.2h0M185.1 1753.9h0M157.7 1837.3h0M167.9 1828.4h0M210.9 1783.7h0M188.6 1811.8h0M214.6 1784.2h0M146.3 1830.7h0M185.7 1755.9h0M192.9 1756.2h0M203.3 1803.9h0M133.4 1851.5h0M190.7 1805h0M216.4 1777.3h0M205.9 1752h0M122.9 1841.7h0M159.2 1829.4h0M148.6 1850.9h0M211 1793.5h0M203.4 1750.7h0" stroke="#000" stroke-width="6" stroke-linecap="round" stroke-opacity="0.5"/>
<path d="M189 1818.5h0M201.1 1792.7h0M184.8 1807.2h0M152.2 1806h0M215.8 1753.8h0M212.7 1751.6h0M145.2 1805.6h0M198.3 1805.2h0M142 1843.2h0M184.6 1810.3h0M152.7 1799.2h0M139.8 1841.6h0M134.3 1851.4h0M217.8 1795.4h0M199.6 1754.7h0M160.6 1791.2h0M131.1 1845.8h0M131.5 1843h0M215.7 1788.9h0M149.4 1814.3h0M146.6 1801.8h0M182.9 1805.1h0M157.7 1830.3h0M171.5 1832.5h0M152.3 1789.9h0M165 1816.7h0M191.6 1809.3h0M140.7 1848h0M154.7 1799.7h0M143.3 1808.1h0M160.6 1800.2h0M168.4 1778.9h0M214.2 1762.6h0M137.3 1829.3h0M217.6 1748.6h0M212.1 1761.5h0M207.3 1788.8h0" stroke="#000" stroke-width="6" stroke-linecap="round" stroke-opacity="0.5"/>
<path d="M226.3 1737.6h0M222.3 1744.5h0M214 1771.3h0M214.4 1737.8h0M203.9 1756.8h0M212.8 1738.9h0M196.5 1752.4h0M217.4 1770.1h0M208.2 1742.3h0M239.1 1736.5h0M225 1740.8h0M206.8 1757.1h0M225.8 1742.5h0M230.5 1734.6h0M216.8 1754.8h0M230.6 1737h0M206.4 1748.9h0" stroke="#000" stroke-width="6" stroke-linecap="round" stroke-opacity="0.4"/>
<path d="M228.6 1744.9h0M225 1756.7h0M221.9 1734h0M213.7 1746.6h0M215.3 1759.9h0M226.2 1733.4h0M214.1 1775.4h0M204.7 1758.4h0M239.7 1743.1h0M221.3 1741.6h0M219.3 1758.6h0M230 1751h0M227.3 1734.8h0M244.7 1745.5h0M210.3 1746.9h0M186.9 1749.7h0M221 1739.3h0" stroke="#000" stroke-width="6" stroke-linecap="round" stroke-opacity="0.4"/>
<path d="M243.4 1748.4h0M204 1747.5h0M221.2 1732h0M200.6 1755.1h0M237.2 1742.9h0M217.5 1751.8h0M215.7 1753.2h0M239.5 1730.9h0M205 1749.3h0M224.1 1737.8h0M238.3 1749h0M210.5 1745.9h0M208.9 1753.4h0M243.5 1738.3h0M198.6 1759.7h0M214.9 1779.1h0" stroke="#000" stroke-width="6" stroke-linecap="round" stroke-opacity="0.4"/>
<path d="M203.6 1748.1h0M214.2 1773.8h0M194.7 1745.9h0M203.8 1751.1h0M231 1743.7h0M222.3 1764.8h0M223.7 1768.9h0M236.4 1745.4h0M210.2 1752.1h0M234.2 1742.2h0M238.8 1734.5h0M194.3 1750.2h0M224.7 1732.7h0M211.8 1766h0M219.2 1764.2h0M190.1 1747h0" stroke="#000" stroke-width="6" stroke-linecap="round" stroke-opacity="0.4"/>
<path d="M197.8 1750.5h0M201.6 1758.8h0M199.8 1761.1h0M238 1729h0M201.7 1745.2h0M223.2 1771.3h0M223.2 1743.7h0M227.8 1732.4h0M189.4 1750.7h0M234.3 1747.2h0M215.1 1762.8h0M223.8 1754.8h0M195.3 1744.6h0M231.5 1748.4h0M219.5 1736.1h0M242.5 1744.3h0" stroke="#000" stroke-width="6" stroke-linecap="round" stroke-opacity="0.4"/>
<path d="M211.4 1753.5h0M234.2 1728.4h0M231.6 1762h0M233.4 1748.2h0M212.9 1765.2h0M239 1746.2h0M210.3 1749.7h0M221.3 1753.6h0M194.3 1753.9h0M204 1763.4h0M209.2 1768.1h0M228.4 1757.9h0M192.2 1747.3h0M209.4 1745.8h0M238.7 1752.6h0M226.9 1764.7h0" stroke="#000" stroke-width="6" stroke-linecap="round" stroke-opacity="0.4"/>
<path d="M211.5 1773.3h0M212 1762.6h0M230.9 1733.7h0M192.3 1752.2h0M218.2 1761.6h0M207.8 1760.9h0M198.7 1743.2h0M204.6 1747h0M213.1 1764.6h0M223.1 1763.8h0M223.1 1731.4h0M205.2 1764.7h0M235.7 1734.7h0M235.5 1741h0M219.9 1742.4h0M231.7 1742.7h0" stroke="#000" stroke-width="6" stroke-linecap="round" stroke-opacity="0.4"/>
<path d="M203.6 1749.1h0M191.9 1751.5h0M224 1747.6h0M239.2 1748.4h0M206.6 1751.9h0M213 1737h0M229.2 1740.4h0M193 1745.4h0M237.4 1753.5h0M223 1755.8h0M220.2 1740.4h0M215.9 1776.8h0M221 1753h0M211.1 1761h0M220.2 1741h0M213.3 1764.5h0" stroke="#000" stroke-width="6" stroke-linecap="round" stroke-opacity="0.4"/>
<path d="M250.9 1689h0M314.1 1689h0M293.4 1717.4h0M235.4 1716.1h0M194.1 1739.3h0M267.7 1743.2h0M234.1 1725.1h0M229 1743.2h0" stroke="#000" stroke-width="6" stroke-linecap="round" stroke-opacity="0.45"/>
<path d="M305.1 1681.3h0M272.8 1698h0M275.4 1732.9h0M257.3 1713.5h0M204.5 1744.5h0M239.3 1774.1h0M244.4 1732.9h0" stroke="#000" stroke-width="6" stroke-linecap="round" stroke-opacity="0.45"/>
<path d="M311.5 1686.4h0M278 1696.7h0M221.2 1714.8h0M214.8 1732.9h0M254.8 1747h0M247 1771.5h0M259.9 1731.6h0" stroke="#000" stroke-width="6" stroke-linecap="round" stroke-opacity="0.45"/>
<path d="M127.9 1838.6 128.9 1815.4 138.7 1798.6 149 1783.2 156.2 1778 157.3 1789.6 146.9 1807.7 136.6 1825.7 131.5 1839.9Z" fill="#ee2a1a"/>
<path d="M152.7 1797.4h0M127.6 1831.6h0M126.7 1836.9h0M139 1799h0M135.8 1832.4h0M141.5 1817.3h0M130 1815h0" stroke="#ee2a1a" stroke-width="6" stroke-linecap="round" stroke-opacity="0.8"/>
<path d="M138.8 1819.4h0M146.8 1807.7h0M144 1812.2h0M126.3 1823.9h0M130.4 1839h0M133.7 1804.4h0M157.5 1782.5h0" stroke="#ee2a1a" stroke-width="6" stroke-linecap="round" stroke-opacity="0.8"/>
<path d="M149.7 1804.3h0M157.6 1783.6h0M131.2 1840h0M130.2 1824.7h0M158.1 1785.8h0M131.5 1837.5h0" stroke="#ee2a1a" stroke-width="6" stroke-linecap="round" stroke-opacity="0.8"/>
<path d="M133.4 1835.4h0M157.1 1790.8h0M138.3 1799.1h0M129.9 1819.5h0M132.4 1839.8h0M139.6 1816.9h0" stroke="#ee2a1a" stroke-width="6" stroke-linecap="round" stroke-opacity="0.8"/>
<path d="M132.5 1830.8h0M135.9 1835h0M133.2 1838.3h0M130.2 1840.8h0M147.3 1813.2h0M130.6 1807.1h0" stroke="#ee2a1a" stroke-width="6" stroke-linecap="round" stroke-opacity="0.8"/>
<path d="M127 1837.4h0M142.9 1814.8h0M136.3 1798.2h0M148.9 1784.8h0M142.2 1787h0M129.6 1811.7h0" stroke="#ee2a1a" stroke-width="6" stroke-linecap="round" stroke-opacity="0.8"/>
<path d="M130 1833.3h0M130 1822.3h0M158.1 1778.9h0M156.5 1782.1h0M139.4 1795.7h0M136.2 1824.9h0" stroke="#ee2a1a" stroke-width="6" stroke-linecap="round" stroke-opacity="0.8"/>
<path d="M127.5 1814.6h0M157.8 1784.5h0M156.9 1780.1h0M155 1780.6h0M138.4 1818.9h0M149.4 1789.7h0" stroke="#ee2a1a" stroke-width="6" stroke-linecap="round" stroke-opacity="0.8"/>
<path d="M151.6 1776.7h0" stroke="#ee2a1a" stroke-width="6" stroke-linecap="round"/>
<path d="M138.7 1847.6 151.6 1839.1 167.1 1831.4 180.5 1821.1 189 1817.5 177.9 1828.8 162.4 1839.1 149.5 1847.6Z" fill="#2a4ef0"/>
<path d="M139.9 1850h0M165.1 1835.5h0M153.8 1837h0M184 1821.5h0M161.5 1839.8h0M160 1838.5h0M184.4 1821.8h0" stroke="#2a4ef0" stroke-width="6" stroke-linecap="round" stroke-opacity="0.8"/>
<path d="M146 1847.2h0M151.6 1834.6h0M143 1845.3h0M160.9 1839h0M153.1 1844.2h0M150.1 1845.2h0M157.1 1835.2h0" stroke="#2a4ef0" stroke-width="6" stroke-linecap="round" stroke-opacity="0.8"/>
<path d="M177.6 1829.6h0M179.5 1821h0M171.2 1828.1h0M169.3 1836.5h0M176.7 1828.7h0M184.1 1821h0M174.6 1830h0" stroke="#2a4ef0" stroke-width="6" stroke-linecap="round" stroke-opacity="0.8"/>
<path d="M171.1 1832h0M162.7 1839.1h0M146.4 1848.7h0M172.9 1829.8h0M154.3 1839.8h0M182.5 1820.7h0M188.6 1816.9h0" stroke="#2a4ef0" stroke-width="6" stroke-linecap="round" stroke-opacity="0.8"/>
<path d="M152.6 1845.6h0M168.5 1834.3h0M145.1 1843.7h0M158.9 1832.8h0M186.4 1822.3h0M143.6 1847.6h0" stroke="#2a4ef0" stroke-width="6" stroke-linecap="round" stroke-opacity="0.8"/>
<path d="M143.9 1847.4h0M139.9 1847.3h0M171.9 1827.1h0M184.6 1817.8h0M172 1828h0M173.7 1833.4h0" stroke="#2a4ef0" stroke-width="6" stroke-linecap="round" stroke-opacity="0.8"/>
<path d="M212.2 1811.5h0M212.2 1814.1h0M191.6 1818h0M185.1 1818h0" stroke="#2a4ef0" stroke-width="6" stroke-linecap="round"/>
</g>
<rect x="126.4" y="1655" width="198" height="196.7" fill="none" stroke="#000" stroke-width="1.6"/>
<line x1="120.4" y1="1655" x2="126.4" y2="1655" stroke="#000" stroke-width="1.6"/>
<line x1="120.4" y1="1851.7" x2="126.4" y2="1851.7" stroke="#000" stroke-width="1.6"/>
<line x1="127.9" y1="1851.7" x2="127.9" y2="1858.7" stroke="#000" stroke-width="1.6"/>
<line x1="322.9" y1="1851.7" x2="322.9" y2="1858.7" stroke="#000" stroke-width="1.6"/>
<text x="113.5" y="1662" text-anchor="end">2</text>
<text x="113.5" y="1855" text-anchor="end">0</text>
<text x="132.8" y="1721.7" style="fill:#e0301e;stroke:#e0301e;">n=419</text>
<text x="296.7" y="1821.7" text-anchor="end" style="fill:#2236d8;stroke:#2236d8;">n=169</text>
<text x="221.4" y="1873" text-anchor="middle">RPM</text>
<text x="222.2" y="1903.6" text-anchor="middle"><tspan font-style="italic">Smarce1</tspan>-MD(R42A)</text>
<text x="222.2" y="1927.2" text-anchor="middle">+BRM014</text>
<text x="64" y="1757" text-anchor="middle" transform="rotate(-90 64 1757)"><tspan font-style="italic">Smarce1</tspan>-MD(R42A)</text>
<text x="90" y="1757" text-anchor="middle" transform="rotate(-90 90 1757)">+DMSO</text>
<text x="114" y="1750.8" text-anchor="middle" transform="rotate(-90 114 1750.8)">RPM</text>
<g clip-path="url(#cl14)">
<path d="M404.4 1847.6 409.5 1820.6 421.1 1797.9 433.2 1779.8 448.7 1766.9 463.7 1761.2 471.9 1769 466.8 1784.4 456.5 1799.9 443.6 1815.4 430.7 1828.3 415.2 1841.2 407.5 1848.4Z" fill="#000"/>
<path d="M474.1 1778.2h0M467.8 1776.2h0M426.4 1829.9h0M467.7 1777.2h0M407.6 1807.9h0M419.3 1839.7h0M477.7 1767.2h0M420.3 1832.2h0M469.9 1776.6h0M417.9 1811.2h0M452.4 1772.3h0M442.9 1766.4h0M419 1836.6h0M417.1 1818.3h0M440.7 1777.4h0M456.3 1803.4h0M467.9 1787h0M439.9 1813.6h0M405.6 1820.6h0M420.6 1799.2h0M461.9 1770.5h0M409.8 1847.2h0M413 1811.5h0M412 1823.6h0M412.6 1837h0M477.2 1771.3h0M460.2 1798.7h0M461.9 1792.4h0M414.9 1816.3h0M468.1 1768.8h0M436.1 1816.2h0M427.4 1783.9h0M448.2 1812.1h0M451.3 1770.7h0M419 1837.2h0" stroke="#000" stroke-width="6" stroke-linecap="round" stroke-opacity="0.5"/>
<path d="M463.3 1789.9h0M405.3 1848.9h0M455.8 1761.5h0M417.8 1812.1h0M427.3 1836.5h0M417.6 1810.8h0M470.6 1774.2h0M466.7 1766.5h0M465.2 1786.7h0M412.9 1814.3h0M407.6 1845.6h0M434 1777.5h0M436.4 1822h0M447.6 1804.3h0M418.8 1829.2h0M425.1 1839h0M422.6 1835h0M416.4 1809.4h0M440.2 1768.8h0M426 1824.1h0M409.4 1830h0M421.8 1834.4h0M449.8 1808.4h0M406.1 1821.9h0M466.6 1764.9h0M412.5 1836.8h0M450.8 1765.9h0M467 1781.1h0M417.9 1791.4h0M405.5 1849.5h0M452.8 1814.2h0M445.5 1817.1h0M425.7 1791.9h0M405.9 1830.7h0M407.2 1848.8h0" stroke="#000" stroke-width="6" stroke-linecap="round" stroke-opacity="0.5"/>
<path d="M446.1 1767.9h0M441.2 1812.1h0M465.8 1758.2h0M427.2 1824.9h0M430.6 1827.9h0M423.3 1793.4h0M405.5 1830.1h0M414.7 1842.2h0M467.1 1780.1h0M440.1 1823.2h0M463 1758.1h0M468.1 1764.3h0M401.7 1842.3h0M467.8 1772.2h0M460.1 1791.2h0M459 1802.5h0M413.8 1842h0M444.6 1774.1h0M409.9 1846.5h0M436.1 1779.1h0M408.1 1818.7h0M469.6 1778h0M416.1 1826h0M473.6 1784.6h0M452.2 1812.9h0M405.7 1837.3h0M467 1789.3h0M472.2 1772.5h0M413.5 1823.7h0M420.2 1837.3h0M463 1801.5h0M428.4 1796.1h0M402.8 1843.2h0M474.5 1770.8h0M431.5 1783.5h0" stroke="#000" stroke-width="6" stroke-linecap="round" stroke-opacity="0.5"/>
<path d="M453.7 1809h0M463.6 1756.2h0M459.2 1766h0M424.4 1783.3h0M434.3 1840.2h0M412.6 1844.5h0M450.8 1817.1h0M409.9 1852.7h0M418.3 1811.6h0M428.6 1795.8h0M438.1 1819.2h0M443.1 1785.3h0M415.6 1847.2h0M469.4 1770.1h0M417.1 1805h0M418.6 1791.9h0M447.7 1763.5h0M454.5 1792.2h0M461 1786.5h0M415.2 1799.8h0M438.5 1782.5h0M409.4 1838.2h0M453.2 1806.3h0M442 1823.8h0M417.3 1837.5h0M445.3 1807.6h0M421.4 1793.5h0M474.8 1764.7h0M461.3 1787.5h0M445.6 1807.9h0M443 1765.7h0M460.4 1755.6h0M418.5 1834h0M452.8 1808.6h0M404.4 1836.7h0" stroke="#000" stroke-width="6" stroke-linecap="round" stroke-opacity="0.5"/>
<path d="M415.4 1824.6h0M407.2 1820.5h0M405.7 1831.2h0M456 1765.9h0M465.3 1799.2h0M474.3 1774.4h0M473.7 1766.5h0M438.4 1819.3h0M451.6 1809.2h0M446.6 1812.8h0M459.7 1801.6h0M463.4 1792.1h0M433.5 1789h0M442.2 1770.5h0M404.6 1834.3h0M414.9 1822.5h0M455.9 1760h0M418.6 1802.4h0M429.4 1801.1h0M452.1 1800.2h0M461.1 1773.3h0M462.2 1772.8h0M425.2 1826.3h0M430.3 1776.8h0M468.6 1765.1h0M442.8 1768.4h0M432.7 1776.6h0M432.9 1822.6h0M434.1 1772.7h0M421.8 1803.6h0M453.3 1813.1h0M406.3 1824.6h0M433.6 1818.3h0M418.5 1836.1h0M426.7 1797.7h0" stroke="#000" stroke-width="6" stroke-linecap="round" stroke-opacity="0.5"/>
<path d="M454.9 1808.5h0M423.2 1793.7h0M426.7 1794.2h0M455.8 1795.2h0M455.6 1805h0M406.1 1816h0M433.8 1828.5h0M423.8 1794h0M448.1 1806h0M465 1793h0M404.3 1820.7h0M407.1 1849.6h0M413.1 1844h0M411.2 1841.5h0M407.4 1844.2h0M461.9 1763.7h0M461.3 1761.9h0M442.4 1815.4h0M428 1824.1h0M461 1786.9h0M417.8 1806h0M413.1 1806.5h0M468.3 1768.3h0M473.3 1772.6h0M428.6 1796.9h0M433.7 1759.8h0M407.2 1824.2h0M467.8 1769.7h0M425.4 1789.3h0M451.7 1806.2h0M428.9 1786.9h0M449.4 1764h0M442.5 1768.5h0M473.4 1776.6h0M459 1766.1h0" stroke="#000" stroke-width="6" stroke-linecap="round" stroke-opacity="0.5"/>
<path d="M428.1 1826.8h0M409.6 1815.6h0M403.9 1832.8h0M412.2 1821h0M431.3 1782.7h0M423.5 1830.1h0M406.6 1834.5h0M415.1 1811.8h0M457.3 1763.6h0M454.2 1815.4h0M424 1800.1h0M443.5 1814.4h0M450.1 1767h0M407.3 1825.5h0M415.2 1820.2h0M458.6 1787h0M424.7 1837.1h0M428.3 1832.7h0M430.9 1779.2h0M466.4 1789.8h0M429.5 1781.4h0M469.6 1763.7h0M417.1 1813.3h0M435 1816.3h0M469.1 1774.3h0M451.6 1766.2h0M420.5 1831h0M421.7 1783.7h0M470.1 1769.3h0M415.4 1835.6h0M430.2 1822.2h0M450.3 1802.2h0M409.8 1839.3h0M455.8 1765.5h0M411.5 1814.5h0" stroke="#000" stroke-width="6" stroke-linecap="round" stroke-opacity="0.5"/>
<path d="M404.7 1834.6h0M435.4 1822.9h0M402.6 1854.5h0M468.5 1794.8h0M456.5 1762.6h0M419.1 1835h0M418 1806.3h0M432 1826.5h0M447.4 1769.4h0M443.1 1814.1h0M436.1 1787.8h0M464.7 1762.5h0M415.1 1794.4h0M447.1 1768.4h0M440.3 1773.7h0M425.2 1787.4h0M420.8 1838.2h0M428.5 1837.5h0M422.4 1835h0M427.2 1780.6h0M407.2 1845.9h0M419.1 1829.6h0M470.7 1775.4h0M430.4 1838.5h0M405.4 1834.2h0M470.8 1764.9h0M472.2 1783.8h0M440.3 1773.2h0M425.5 1832h0M444.3 1819.6h0M431 1781.6h0M462.4 1762.2h0M400.7 1837.4h0M466.5 1765.5h0M454.1 1802.4h0" stroke="#000" stroke-width="6" stroke-linecap="round" stroke-opacity="0.5"/>
<path d="M472.3 1764.8h0M486.4 1746.1h0M463.9 1767.4h0M486.4 1769.4h0M490.4 1752.7h0M457.7 1765.8h0M477.5 1768.4h0M480.6 1783.5h0M486.6 1754.5h0M495.3 1749.9h0M477.3 1762.3h0M471.6 1763.3h0M488.7 1744.7h0M473.3 1776.8h0M493 1765.3h0M465 1756.2h0M464.6 1785.3h0" stroke="#000" stroke-width="6" stroke-linecap="round" stroke-opacity="0.4"/>
<path d="M491.3 1756.6h0M502.2 1750.2h0M480.2 1752.4h0M460.3 1774.3h0M461.1 1758.7h0M481.5 1778.2h0M473 1767.9h0M497.7 1753.5h0M471.6 1771.1h0M478.8 1767.1h0M472.1 1771.6h0M471.4 1774.6h0M476.7 1779.3h0M488.6 1760.5h0M479.4 1750.1h0M459.4 1764.8h0M469.1 1752.6h0" stroke="#000" stroke-width="6" stroke-linecap="round" stroke-opacity="0.4"/>
<path d="M478.8 1750.1h0M476.7 1747.4h0M464.6 1775h0M484.6 1774.7h0M464.5 1775.6h0M472.1 1767.7h0M467.5 1783.8h0M474.6 1780.2h0M483.3 1754h0M470.8 1788h0M485.4 1751.3h0M473 1783.3h0M469.9 1757.6h0M489.1 1755.5h0M481.8 1746h0M483.2 1765.9h0" stroke="#000" stroke-width="6" stroke-linecap="round" stroke-opacity="0.4"/>
<path d="M469.1 1751.2h0M499.8 1750h0M480.4 1777.1h0M466.5 1758.9h0M487.2 1764.5h0M485.9 1743.6h0M468 1777.3h0M502 1749.5h0M493.8 1740.8h0M475.7 1763.6h0M475.8 1779.8h0M477.2 1764.1h0M497.3 1750.4h0M472.4 1757.1h0M479 1750h0M479 1777.2h0" stroke="#000" stroke-width="6" stroke-linecap="round" stroke-opacity="0.4"/>
<path d="M467.7 1771.6h0M468.1 1763.3h0M470.9 1782.5h0M477.2 1767h0M481.8 1777.7h0M468.6 1768.3h0M480.1 1766.7h0M489.4 1742.5h0M489.2 1755.7h0M495.7 1758.5h0M495.3 1762.1h0M468.4 1764.3h0M481.4 1769.8h0M463.8 1769.6h0M495.4 1749.2h0M471 1751.3h0" stroke="#000" stroke-width="6" stroke-linecap="round" stroke-opacity="0.4"/>
<path d="M482.8 1771.4h0M489.6 1771.5h0M486.4 1773.3h0M498.7 1748.8h0M497.3 1752.9h0M475.4 1780.2h0M466.5 1779.7h0M472.7 1779.8h0M476.4 1781.2h0M480.3 1784.4h0M463.1 1761h0M485.9 1759.2h0M492.4 1742.4h0M488.8 1766.4h0M493.4 1764.2h0M480.7 1767h0" stroke="#000" stroke-width="6" stroke-linecap="round" stroke-opacity="0.4"/>
<path d="M482.5 1746.2h0M465.4 1779h0M458.9 1764.6h0M473.2 1779.9h0M487.6 1763.6h0M478.6 1772.3h0M495.6 1747.7h0M472.7 1765.5h0M493.3 1742.8h0M486.3 1748.7h0M479.4 1763.2h0M485.2 1748.7h0M490.2 1769.4h0M467.1 1767.2h0M468.8 1772.9h0M488.2 1743.4h0" stroke="#000" stroke-width="6" stroke-linecap="round" stroke-opacity="0.4"/>
<path d="M464.6 1757.6h0M483.1 1745.2h0M475.7 1777.7h0M480.9 1756.1h0M474 1755.5h0M470.4 1787.1h0M460.1 1779.5h0M489.3 1748h0M487.1 1746.2h0M467.9 1767.8h0M474.5 1789.5h0M465.4 1763h0M479.9 1751.4h0M467.6 1770.6h0M484.6 1761.6h0M468.8 1769.9h0" stroke="#000" stroke-width="6" stroke-linecap="round" stroke-opacity="0.4"/>
<path d="M552.7 1669.7h0M550.1 1698.8h0M526.9 1706.5h0M529.5 1727.7h0M476.6 1722h0M471.4 1742.7h0M472.7 1805.1h0" stroke="#000" stroke-width="6" stroke-linecap="round" stroke-opacity="0.45"/>
<path d="M578.5 1673h0M542.4 1704.5h0M535.9 1713.5h0M502.4 1718.7h0M483 1729h0M512.7 1766.4h0M448.2 1754.8h0" stroke="#000" stroke-width="6" stroke-linecap="round" stroke-opacity="0.45"/>
<path d="M538.5 1682.6h0M492.1 1696.2h0M538.5 1718.7h0M512.7 1730.3h0M488.2 1727.7h0M486.9 1779.3h0M453.4 1756.1h0" stroke="#000" stroke-width="6" stroke-linecap="round" stroke-opacity="0.45"/>
<path d="M546.2 1685.9h0M507.5 1705.8h0M521.7 1722h0M519.1 1738h0M497.2 1735.4h0M485.6 1789.6h0" stroke="#000" stroke-width="6" stroke-linecap="round" stroke-opacity="0.45"/>
<path d="M400.5 1842.5 401.8 1815.4 409.5 1797.3 419.8 1784.4 428.1 1774.1 430.7 1784.4 422.9 1799.9 412.6 1820.6 406.2 1839.1Z" fill="#ee2a1a"/>
<path d="M417.8 1793.4h0M430.6 1783.8h0M420.6 1804.4h0M419.3 1804.1h0M417.8 1813.5h0M421 1782.6h0M401.5 1839.6h0" stroke="#ee2a1a" stroke-width="6" stroke-linecap="round" stroke-opacity="0.8"/>
<path d="M427.3 1785.7h0M414.4 1792.3h0M425.2 1793.1h0M410.2 1791.9h0M404.3 1826h0M426.8 1782.7h0M399 1828.2h0" stroke="#ee2a1a" stroke-width="6" stroke-linecap="round" stroke-opacity="0.8"/>
<path d="M409.2 1831.3h0M429.7 1788.2h0M418.8 1786.6h0M407.8 1828h0M400.7 1841.3h0M408.3 1829.9h0" stroke="#ee2a1a" stroke-width="6" stroke-linecap="round" stroke-opacity="0.8"/>
<path d="M401.7 1818.3h0M414.9 1810.3h0M403.2 1812.4h0M405.9 1805.3h0M397.5 1833.7h0M431.6 1783.3h0" stroke="#ee2a1a" stroke-width="6" stroke-linecap="round" stroke-opacity="0.8"/>
<path d="M409.7 1823.8h0M398.3 1824.8h0M420.6 1803.6h0M399.9 1837.9h0M401.7 1840.3h0M423.7 1801.3h0" stroke="#ee2a1a" stroke-width="6" stroke-linecap="round" stroke-opacity="0.8"/>
<path d="M421.7 1798.7h0M416.4 1809.5h0M419.6 1785.7h0M425.8 1793.5h0M417.6 1810.7h0M419.7 1782.7h0" stroke="#ee2a1a" stroke-width="6" stroke-linecap="round" stroke-opacity="0.8"/>
<path d="M403.4 1809.4h0M403 1816.1h0M413.7 1795.5h0M428.6 1774.9h0M403.5 1810.4h0M401 1833.8h0" stroke="#ee2a1a" stroke-width="6" stroke-linecap="round" stroke-opacity="0.8"/>
<path d="M420.5 1780.7h0M422.5 1781.2h0M407.1 1801h0M414.5 1816.5h0M427.9 1771.3h0M400.8 1836.2h0" stroke="#ee2a1a" stroke-width="6" stroke-linecap="round" stroke-opacity="0.8"/>
<path d="M434.3 1767.7h0" stroke="#ee2a1a" stroke-width="6" stroke-linecap="round"/>
<path d="M406.9 1850.2 419.8 1841.2 435.3 1831.4 446.1 1820.6 443.6 1831.4 428.1 1844.3 415.2 1850.2Z" fill="#2a4ef0"/>
<path d="M446.5 1821.3h0M433.7 1836.3h0M443.9 1822.8h0M441.4 1830.5h0M447.2 1824.3h0M415.5 1845.1h0M431.1 1833.1h0" stroke="#2a4ef0" stroke-width="6" stroke-linecap="round" stroke-opacity="0.8"/>
<path d="M437.1 1836.9h0M426.9 1843.5h0M408.5 1848.4h0M445.2 1822.4h0M439.6 1828h0M440.2 1834.1h0M443.7 1831.6h0" stroke="#2a4ef0" stroke-width="6" stroke-linecap="round" stroke-opacity="0.8"/>
<path d="M413.7 1849.5h0M430.3 1840.4h0M444.7 1822.2h0M426.7 1844.3h0M445.1 1828.5h0M440.8 1820.9h0M411.5 1849.1h0" stroke="#2a4ef0" stroke-width="6" stroke-linecap="round" stroke-opacity="0.8"/>
<path d="M444.8 1824.9h0M440.1 1824.2h0M418.8 1849.2h0M415.2 1847.2h0M413.8 1842.8h0M442.7 1831.6h0M414.8 1852h0" stroke="#2a4ef0" stroke-width="6" stroke-linecap="round" stroke-opacity="0.8"/>
<path d="M431 1839.9h0M432.2 1830.4h0M437.3 1834h0M440.4 1833.3h0M424.6 1847.8h0M432.3 1844.5h0" stroke="#2a4ef0" stroke-width="6" stroke-linecap="round" stroke-opacity="0.8"/>
<path d="M415 1850.2h0M448.9 1819.1h0M408.4 1849.4h0M424.8 1837.7h0M431.7 1841.3h0M429.4 1844h0" stroke="#2a4ef0" stroke-width="6" stroke-linecap="round" stroke-opacity="0.8"/>
</g>
<rect x="400" y="1655" width="197.5" height="196.7" fill="none" stroke="#000" stroke-width="1.6"/>
<line x1="394" y1="1655" x2="400" y2="1655" stroke="#000" stroke-width="1.6"/>
<line x1="394" y1="1851.7" x2="400" y2="1851.7" stroke="#000" stroke-width="1.6"/>
<line x1="401.5" y1="1851.7" x2="401.5" y2="1858.7" stroke="#000" stroke-width="1.6"/>
<line x1="596" y1="1851.7" x2="596" y2="1858.7" stroke="#000" stroke-width="1.6"/>
<text x="387" y="1662" text-anchor="end">2</text>
<text x="387" y="1855" text-anchor="end">0</text>
<text x="413.3" y="1721.7" style="fill:#e0301e;stroke:#e0301e;">n=383</text>
<text x="577.2" y="1821.7" text-anchor="end" style="fill:#2236d8;stroke:#2236d8;">n=140</text>
<text x="498" y="1873" text-anchor="middle">RPM</text>
<text x="500.8" y="1903.6" text-anchor="middle"><tspan font-style="italic">Smarce1</tspan>-MD</text>
<text x="500.8" y="1927.2" text-anchor="middle">+BRM014</text>
<text x="362.5" y="1757.8" text-anchor="middle" transform="rotate(-90 362.5 1757.8)"><tspan font-style="italic">Smarce1</tspan>-MD</text>
<text x="389.5" y="1757.8" text-anchor="middle" transform="rotate(-90 389.5 1757.8)">+DMSO</text>
<text x="1046.2" y="1294.4" style="font-size:31px;font-weight:bold;">j</text>
<circle cx="1230" cy="1526.8" r="101.8" fill="#9ca1c9" stroke="#000" stroke-width="0"/>
<circle cx="1465.3" cy="1526.9" r="171.9" fill="#f47d7d" stroke="#000" stroke-width="0"/>
<circle cx="1465.3" cy="1526.9" r="171.9" fill="#cc8797" clip-path="url(#cjb)"/>
<circle cx="1230" cy="1526.8" r="101.8" fill="none" stroke="#000" stroke-width="2"/>
<circle cx="1465.3" cy="1526.9" r="171.9" fill="none" stroke="#000" stroke-width="2"/>
<text x="1482.3" y="1312.4" text-anchor="middle">depleted/decreased SOX2 peaks</text>
<text x="1480" y="1337" text-anchor="middle"><tspan font-style="italic">Smarce1</tspan>-MD vs. <tspan font-style="italic">Smarce1</tspan>-MD(R42A)</text>
<text x="1196.1" y="1369.7" text-anchor="middle">depleted/decreased SOX2 peaks</text>
<text x="1196.1" y="1394.2" text-anchor="middle">BRM014 vs. DMSO</text>
<text x="1196.1" y="1418.8" text-anchor="middle">in <tspan font-style="italic">Smarce1</tspan>-MD(R42A)</text>
<text x="1211.5" y="1513.7" text-anchor="middle">375 (24 %)</text>
<text x="1312.4" y="1525.2" text-anchor="middle">44</text>
<text x="1312.4" y="1549.7" text-anchor="middle">(3 %)</text>
<text x="1495.7" y="1513.7" text-anchor="middle">1148 (73 %)</text>
<text x="1212.5" y="1656.1">p=1x10<tspan style="font-size:12.6px" dy="-7.8">-28.62427</tspan></text>
<text x="1187.6" y="1680.7">Obs/Exp=11.07197</text>
</svg></body></html>
